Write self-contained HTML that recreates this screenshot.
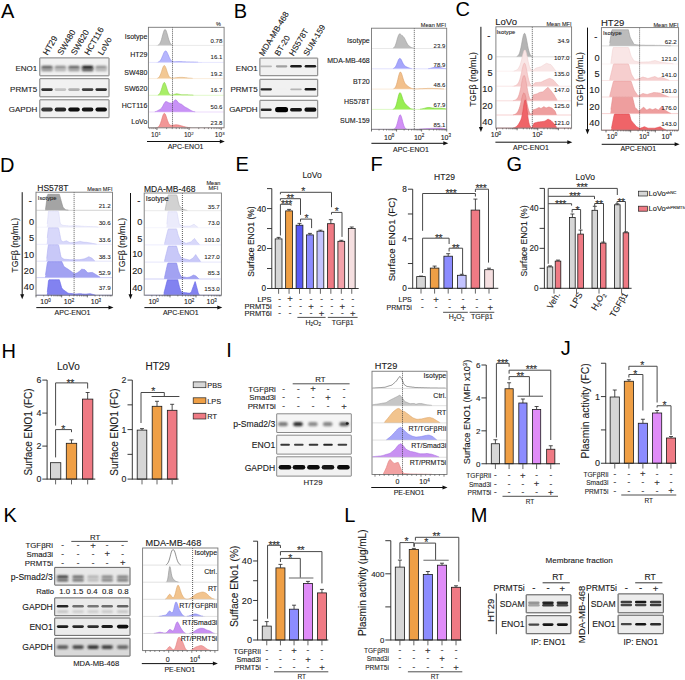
<!DOCTYPE html>
<html><head><meta charset="utf-8"><title>Figure</title>
<style>html,body{margin:0;padding:0;background:#fff;width:685px;height:680px;overflow:hidden}svg{display:block}text{font-family:"Liberation Sans",sans-serif;stroke:#2a2a2a;stroke-width:0.12px;paint-order:stroke}</style>
</head><body>
<svg width="685" height="680" viewBox="0 0 685 680" font-family="'Liberation Sans', sans-serif"><defs><filter id="bl3" x="-50%" y="-80%" width="200%" height="260%"><feGaussianBlur stdDeviation="0.3"/></filter><filter id="bl4" x="-50%" y="-80%" width="200%" height="260%"><feGaussianBlur stdDeviation="0.4"/></filter><filter id="bl5" x="-50%" y="-80%" width="200%" height="260%"><feGaussianBlur stdDeviation="0.5"/></filter><filter id="bl6" x="-50%" y="-80%" width="200%" height="260%"><feGaussianBlur stdDeviation="0.6"/></filter><filter id="bl7" x="-50%" y="-80%" width="200%" height="260%"><feGaussianBlur stdDeviation="0.7"/></filter><filter id="bl8" x="-50%" y="-80%" width="200%" height="260%"><feGaussianBlur stdDeviation="0.8"/></filter><filter id="bl9" x="-50%" y="-80%" width="200%" height="260%"><feGaussianBlur stdDeviation="0.9"/></filter><filter id="bl10" x="-50%" y="-80%" width="200%" height="260%"><feGaussianBlur stdDeviation="1.0"/></filter><filter id="bl11" x="-50%" y="-80%" width="200%" height="260%"><feGaussianBlur stdDeviation="1.1"/></filter><filter id="bl12" x="-50%" y="-80%" width="200%" height="260%"><feGaussianBlur stdDeviation="1.2"/></filter><filter id="bl13" x="-50%" y="-80%" width="200%" height="260%"><feGaussianBlur stdDeviation="1.3"/></filter><filter id="bl14" x="-50%" y="-80%" width="200%" height="260%"><feGaussianBlur stdDeviation="1.4"/></filter><filter id="bl15" x="-50%" y="-80%" width="200%" height="260%"><feGaussianBlur stdDeviation="1.5"/></filter><filter id="bl16" x="-50%" y="-80%" width="200%" height="260%"><feGaussianBlur stdDeviation="1.6"/></filter><filter id="bl17" x="-50%" y="-80%" width="200%" height="260%"><feGaussianBlur stdDeviation="1.7"/></filter><filter id="bl18" x="-50%" y="-80%" width="200%" height="260%"><feGaussianBlur stdDeviation="1.8"/></filter><filter id="bl19" x="-50%" y="-80%" width="200%" height="260%"><feGaussianBlur stdDeviation="1.9"/></filter><filter id="bl20" x="-50%" y="-80%" width="200%" height="260%"><feGaussianBlur stdDeviation="2.0"/></filter><filter id="bl21" x="-50%" y="-80%" width="200%" height="260%"><feGaussianBlur stdDeviation="2.1"/></filter><filter id="bl22" x="-50%" y="-80%" width="200%" height="260%"><feGaussianBlur stdDeviation="2.2"/></filter><filter id="bl23" x="-50%" y="-80%" width="200%" height="260%"><feGaussianBlur stdDeviation="2.3"/></filter><filter id="bl24" x="-50%" y="-80%" width="200%" height="260%"><feGaussianBlur stdDeviation="2.4"/></filter><filter id="bl25" x="-50%" y="-80%" width="200%" height="260%"><feGaussianBlur stdDeviation="2.5"/></filter><filter id="bl26" x="-50%" y="-80%" width="200%" height="260%"><feGaussianBlur stdDeviation="2.6"/></filter><filter id="bl27" x="-50%" y="-80%" width="200%" height="260%"><feGaussianBlur stdDeviation="2.7"/></filter><filter id="bl28" x="-50%" y="-80%" width="200%" height="260%"><feGaussianBlur stdDeviation="2.8"/></filter><filter id="bl29" x="-50%" y="-80%" width="200%" height="260%"><feGaussianBlur stdDeviation="2.9"/></filter></defs><rect width="685" height="680" fill="#fff"/>
<text x="1.00" y="17.90" font-size="20" text-anchor="start" fill="#000" style="stroke:none">A</text>
<text x="47.50" y="55.80" font-size="8.4" text-anchor="start" fill="#1a1a1a" transform="rotate(-60 47.50 55.80)">HT29</text>
<text x="62.10" y="55.80" font-size="8.4" text-anchor="start" fill="#1a1a1a" transform="rotate(-60 62.10 55.80)">SW480</text>
<text x="75.60" y="55.80" font-size="8.4" text-anchor="start" fill="#1a1a1a" transform="rotate(-60 75.60 55.80)">SW620</text>
<text x="88.90" y="55.80" font-size="8.4" text-anchor="start" fill="#1a1a1a" transform="rotate(-60 88.90 55.80)">HCT116</text>
<text x="102.60" y="55.80" font-size="8.4" text-anchor="start" fill="#1a1a1a" transform="rotate(-60 102.60 55.80)">LoVo</text>
<text x="37.20" y="70.70" font-size="8" text-anchor="end" fill="#1a1a1a">ENO1</text>
<text x="37.20" y="91.60" font-size="8" text-anchor="end" fill="#1a1a1a">PRMT5</text>
<text x="37.20" y="112.20" font-size="8" text-anchor="end" fill="#1a1a1a">GAPDH</text>
<rect x="39.30" y="57.40" width="70.20" height="18.90" fill="#f1f1f1"/>
<rect x="41.25" y="65.70" width="11.50" height="3.20" rx="1.60" fill="#5f5f5f" filter="url(#bl8)"/>
<rect x="54.65" y="65.70" width="11.50" height="3.20" rx="1.60" fill="#8c8c8c" filter="url(#bl8)"/>
<rect x="68.25" y="65.70" width="11.50" height="3.20" rx="1.60" fill="#646464" filter="url(#bl8)"/>
<rect x="81.85" y="65.70" width="11.50" height="3.20" rx="1.60" fill="#141414" filter="url(#bl8)"/>
<rect x="95.45" y="65.70" width="11.50" height="3.20" rx="1.60" fill="#919191" filter="url(#bl8)"/>
<rect x="41.25" y="68.70" width="11.50" height="2.60" rx="1.30" fill="#8c8c8c" filter="url(#bl9)"/>
<rect x="54.65" y="68.70" width="11.50" height="2.60" rx="1.30" fill="#afafaf" filter="url(#bl9)"/>
<rect x="68.25" y="68.70" width="11.50" height="2.60" rx="1.30" fill="#969696" filter="url(#bl9)"/>
<rect x="81.85" y="68.70" width="11.50" height="2.60" rx="1.30" fill="#464646" filter="url(#bl9)"/>
<rect x="95.45" y="68.70" width="11.50" height="2.60" rx="1.30" fill="#afafaf" filter="url(#bl9)"/>
<rect x="39.80" y="57.90" width="69.20" height="17.90" fill="none" stroke="#7e7e7e" stroke-width="1" rx="0.3"/>
<rect x="39.30" y="78.20" width="70.20" height="19.10" fill="#f1f1f1"/>
<rect x="41.25" y="88.30" width="11.50" height="2.60" rx="1.30" fill="#323232" filter="url(#bl6)"/>
<rect x="54.65" y="88.30" width="11.50" height="2.60" rx="1.30" fill="#c3c3c3" filter="url(#bl6)"/>
<rect x="68.25" y="88.30" width="11.50" height="2.60" rx="1.30" fill="#afafaf" filter="url(#bl6)"/>
<rect x="81.85" y="88.30" width="11.50" height="2.60" rx="1.30" fill="#414141" filter="url(#bl6)"/>
<rect x="95.45" y="88.30" width="11.50" height="2.60" rx="1.30" fill="#2d2d2d" filter="url(#bl6)"/>
<rect x="39.80" y="78.70" width="69.20" height="18.10" fill="none" stroke="#7e7e7e" stroke-width="1" rx="0.3"/>
<rect x="39.30" y="99.30" width="70.20" height="18.90" fill="#f1f1f1"/>
<rect x="41.25" y="107.60" width="11.50" height="4.00" rx="2.00" fill="#373737" filter="url(#bl7)"/>
<rect x="54.65" y="107.60" width="11.50" height="4.00" rx="2.00" fill="#282828" filter="url(#bl7)"/>
<rect x="68.25" y="107.60" width="11.50" height="4.00" rx="2.00" fill="#0c0c0c" filter="url(#bl7)"/>
<rect x="81.85" y="107.60" width="11.50" height="4.00" rx="2.00" fill="#141414" filter="url(#bl7)"/>
<rect x="95.45" y="107.60" width="11.50" height="4.00" rx="2.00" fill="#0c0c0c" filter="url(#bl7)"/>
<rect x="39.80" y="99.80" width="69.20" height="17.90" fill="none" stroke="#7e7e7e" stroke-width="1" rx="0.3"/>
<path d="M148.9,45.4 L148.9,45.4 L149.5,45.4 L150.1,45.4 L150.7,45.4 L151.3,45.4 L151.9,45.4 L152.5,45.4 L153.1,45.4 L153.7,45.4 L154.3,45.4 L154.9,45.4 L155.5,45.4 L156.1,45.4 L156.7,45.3 L157.3,45.3 L157.9,45.1 L158.5,44.9 L159.1,44.4 L159.7,43.7 L160.3,42.6 L160.9,41.2 L161.5,39.4 L162.1,37.2 L162.7,34.9 L163.3,32.8 L163.9,31.0 L164.5,29.8 L165.1,29.4 L165.7,29.9 L166.3,31.1 L166.9,32.9 L167.5,35.0 L168.1,37.2 L168.7,39.3 L169.3,41.1 L169.9,42.5 L170.5,43.6 L171.1,44.4 L171.7,44.8 L172.3,45.1 L172.9,45.3 L173.5,45.3 L174.1,45.4 L174.7,45.4 L175.3,45.4 L175.9,45.4 L176.5,45.4 L177.1,45.4 L177.7,45.4 L178.3,45.4 L178.9,45.4 L179.5,45.4 L180.1,45.4 L180.7,45.4 L181.3,45.4 L181.9,45.4 L182.5,45.4 L183.1,45.4 L183.7,45.4 L184.3,45.4 L184.9,45.4 L185.5,45.4 L186.1,45.4 L186.7,45.4 L187.3,45.4 L187.9,45.4 L188.5,45.4 L189.1,45.4 L189.7,45.4 L190.3,45.4 L190.9,45.4 L191.5,45.4 L192.1,45.4 L192.7,45.4 L193.3,45.4 L193.9,45.4 L194.5,45.4 L195.1,45.4 L195.7,45.4 L196.3,45.4 L196.9,45.4 L197.5,45.4 L198.1,45.4 L198.7,45.4 L199.3,45.4 L199.9,45.4 L200.5,45.4 L201.1,45.4 L201.7,45.4 L202.3,45.4 L202.9,45.4 L203.5,45.4 L204.1,45.4 L204.7,45.4 L205.3,45.4 L205.9,45.4 L206.5,45.4 L207.1,45.4 L207.7,45.4 L208.3,45.4 L208.9,45.4 L209.5,45.4 L210.1,45.4 L210.7,45.4 L211.3,45.4 L211.9,45.4 L212.5,45.4 L213.1,45.4 L213.7,45.4 L214.3,45.4 L214.9,45.4 L215.5,45.4 L216.1,45.4 L216.7,45.4 L217.3,45.4 L217.9,45.4 L218.5,45.4 L219.1,45.4 L219.7,45.4 L220.3,45.4 L220.9,45.4 L221.5,45.4 L222.1,45.4 L222.7,45.4 L223.3,45.4 L223.6,45.4 Z" fill="#bdbdbd"/>
<path d="M157.9,45.1 L158.5,44.9 L159.1,44.4 L159.7,43.7 L160.3,42.6 L160.9,41.2 L161.5,39.4 L162.1,37.2 L162.7,34.9 L163.3,32.8 L163.9,31.0 L164.5,29.8 L165.1,29.4 L165.7,29.9 L166.3,31.1 L166.9,32.9 L167.5,35.0 L168.1,37.2 L168.7,39.3 L169.3,41.1 L169.9,42.5 L170.5,43.6 L171.1,44.4 L171.7,44.8 L172.3,45.1" fill="none" stroke="#9a9a9a" stroke-width="0.6"/>
<line x1="148.90" y1="45.40" x2="223.60" y2="45.40" stroke="#dadada" stroke-width="0.6"/>
<path d="M148.9,62.4 L148.9,62.4 L149.5,62.4 L150.1,62.4 L150.7,62.4 L151.3,62.4 L151.9,62.4 L152.5,62.4 L153.1,62.4 L153.7,62.4 L154.3,62.4 L154.9,62.4 L155.5,62.4 L156.1,62.4 L156.7,62.3 L157.3,62.3 L157.9,62.1 L158.5,61.9 L159.1,61.6 L159.7,61.2 L160.3,60.5 L160.9,59.6 L161.5,58.5 L162.1,57.1 L162.7,55.7 L163.3,54.2 L163.9,52.8 L164.5,51.7 L165.1,51.1 L165.7,50.9 L166.3,51.2 L166.9,52.0 L167.5,53.2 L168.1,54.6 L168.7,56.0 L169.3,57.4 L169.9,58.6 L170.5,59.7 L171.1,60.4 L171.7,61.0 L172.3,61.3 L172.9,61.5 L173.5,61.6 L174.1,61.7 L174.7,61.7 L175.3,61.7 L175.9,61.6 L176.5,61.6 L177.1,61.6 L177.7,61.6 L178.3,61.5 L178.9,61.5 L179.5,61.5 L180.1,61.6 L180.7,61.6 L181.3,61.6 L181.9,61.6 L182.5,61.7 L183.1,61.7 L183.7,61.8 L184.3,61.8 L184.9,61.8 L185.5,61.8 L186.1,61.9 L186.7,61.9 L187.3,61.9 L187.9,61.9 L188.5,61.9 L189.1,61.9 L189.7,61.9 L190.3,62.0 L190.9,62.0 L191.5,62.0 L192.1,62.0 L192.7,62.0 L193.3,62.0 L193.9,62.1 L194.5,62.1 L195.1,62.1 L195.7,62.1 L196.3,62.2 L196.9,62.2 L197.5,62.2 L198.1,62.2 L198.7,62.3 L199.3,62.3 L199.9,62.3 L200.5,62.3 L201.1,62.3 L201.7,62.3 L202.3,62.4 L202.9,62.4 L203.5,62.4 L204.1,62.4 L204.7,62.4 L205.3,62.4 L205.9,62.4 L206.5,62.4 L207.1,62.4 L207.7,62.4 L208.3,62.4 L208.9,62.4 L209.5,62.4 L210.1,62.4 L210.7,62.4 L211.3,62.4 L211.9,62.4 L212.5,62.4 L213.1,62.4 L213.7,62.4 L214.3,62.4 L214.9,62.4 L215.5,62.4 L216.1,62.4 L216.7,62.4 L217.3,62.4 L217.9,62.4 L218.5,62.4 L219.1,62.4 L219.7,62.4 L220.3,62.4 L220.9,62.4 L221.5,62.4 L222.1,62.4 L222.7,62.4 L223.3,62.4 L223.6,62.4 Z" fill="#b6b6fd"/>
<path d="M157.9,62.1 L158.5,61.9 L159.1,61.6 L159.7,61.2 L160.3,60.5 L160.9,59.6 L161.5,58.5 L162.1,57.1 L162.7,55.7 L163.3,54.2 L163.9,52.8 L164.5,51.7 L165.1,51.1 L165.7,50.9 L166.3,51.2 L166.9,52.0 L167.5,53.2 L168.1,54.6 L168.7,56.0 L169.3,57.4 L169.9,58.6 L170.5,59.7 L171.1,60.4 L171.7,61.0 L172.3,61.3 L172.9,61.5 L173.5,61.6 L174.1,61.7 L174.7,61.7 L175.3,61.7 L175.9,61.6 L176.5,61.6 L177.1,61.6 L177.7,61.6 L178.3,61.5 L178.9,61.5 L179.5,61.5 L180.1,61.6 L180.7,61.6 L181.3,61.6 L181.9,61.6 L182.5,61.7 L183.1,61.7 L183.7,61.8 L184.3,61.8 L184.9,61.8 L185.5,61.8 L186.1,61.9 L186.7,61.9 L187.3,61.9 L187.9,61.9 L188.5,61.9 L189.1,61.9 L189.7,61.9 L190.3,62.0 L190.9,62.0 L191.5,62.0 L192.1,62.0 L192.7,62.0 L193.3,62.0 L193.9,62.1 L194.5,62.1 L195.1,62.1 L195.7,62.1 L196.3,62.2 L196.9,62.2 L197.5,62.2 L198.1,62.2" fill="none" stroke="#8f8ff0" stroke-width="0.6"/>
<line x1="148.90" y1="62.40" x2="223.60" y2="62.40" stroke="#d6d6fd" stroke-width="0.6"/>
<path d="M148.9,78.6 L148.9,78.6 L149.5,78.6 L150.1,78.6 L150.7,78.6 L151.3,78.6 L151.9,78.6 L152.5,78.6 L153.1,78.6 L153.7,78.6 L154.3,78.6 L154.9,78.6 L155.5,78.6 L156.1,78.5 L156.7,78.5 L157.3,78.3 L157.9,78.1 L158.5,77.7 L159.1,77.1 L159.7,76.2 L160.3,75.0 L160.9,73.4 L161.5,71.7 L162.1,69.8 L162.7,68.0 L163.3,66.6 L163.9,65.7 L164.5,65.6 L165.1,66.2 L165.7,67.4 L166.3,69.1 L166.9,71.0 L167.5,72.8 L168.1,74.4 L168.7,75.7 L169.3,76.7 L169.9,77.3 L170.5,77.7 L171.1,78.0 L171.7,78.1 L172.3,78.1 L172.9,78.1 L173.5,78.0 L174.1,78.0 L174.7,77.9 L175.3,77.8 L175.9,77.8 L176.5,77.7 L177.1,77.6 L177.7,77.6 L178.3,77.5 L178.9,77.5 L179.5,77.4 L180.1,77.4 L180.7,77.4 L181.3,77.4 L181.9,77.4 L182.5,77.4 L183.1,77.5 L183.7,77.5 L184.3,77.6 L184.9,77.6 L185.5,77.7 L186.1,77.8 L186.7,77.8 L187.3,77.9 L187.9,78.0 L188.5,78.1 L189.1,78.1 L189.7,78.2 L190.3,78.2 L190.9,78.3 L191.5,78.3 L192.1,78.4 L192.7,78.4 L193.3,78.5 L193.9,78.5 L194.5,78.5 L195.1,78.5 L195.7,78.5 L196.3,78.6 L196.9,78.6 L197.5,78.6 L198.1,78.6 L198.7,78.6 L199.3,78.6 L199.9,78.6 L200.5,78.6 L201.1,78.6 L201.7,78.6 L202.3,78.6 L202.9,78.6 L203.5,78.6 L204.1,78.6 L204.7,78.6 L205.3,78.6 L205.9,78.6 L206.5,78.6 L207.1,78.6 L207.7,78.6 L208.3,78.6 L208.9,78.6 L209.5,78.6 L210.1,78.6 L210.7,78.6 L211.3,78.6 L211.9,78.6 L212.5,78.6 L213.1,78.6 L213.7,78.6 L214.3,78.6 L214.9,78.6 L215.5,78.6 L216.1,78.6 L216.7,78.6 L217.3,78.6 L217.9,78.6 L218.5,78.6 L219.1,78.6 L219.7,78.6 L220.3,78.6 L220.9,78.6 L221.5,78.6 L222.1,78.6 L222.7,78.6 L223.3,78.6 L223.6,78.6 Z" fill="#f2c894"/>
<path d="M157.3,78.3 L157.9,78.1 L158.5,77.7 L159.1,77.1 L159.7,76.2 L160.3,75.0 L160.9,73.4 L161.5,71.7 L162.1,69.8 L162.7,68.0 L163.3,66.6 L163.9,65.7 L164.5,65.6 L165.1,66.2 L165.7,67.4 L166.3,69.1 L166.9,71.0 L167.5,72.8 L168.1,74.4 L168.7,75.7 L169.3,76.7 L169.9,77.3 L170.5,77.7 L171.1,78.0 L171.7,78.1 L172.3,78.1 L172.9,78.1 L173.5,78.0 L174.1,78.0 L174.7,77.9 L175.3,77.8 L175.9,77.8 L176.5,77.7 L177.1,77.6 L177.7,77.6 L178.3,77.5 L178.9,77.5 L179.5,77.4 L180.1,77.4 L180.7,77.4 L181.3,77.4 L181.9,77.4 L182.5,77.4 L183.1,77.5 L183.7,77.5 L184.3,77.6 L184.9,77.6 L185.5,77.7 L186.1,77.8 L186.7,77.8 L187.3,77.9 L187.9,78.0 L188.5,78.1 L189.1,78.1 L189.7,78.2 L190.3,78.2 L190.9,78.3 L191.5,78.3 L192.1,78.4 L192.7,78.4" fill="none" stroke="#dca86a" stroke-width="0.6"/>
<line x1="148.90" y1="78.60" x2="223.60" y2="78.60" stroke="#f7e0c4" stroke-width="0.6"/>
<path d="M148.9,95.3 L148.9,95.3 L149.5,95.3 L150.1,95.3 L150.7,95.3 L151.3,95.3 L151.9,95.3 L152.5,95.3 L153.1,95.3 L153.7,95.3 L154.3,95.3 L154.9,95.3 L155.5,95.3 L156.1,95.3 L156.7,95.2 L157.3,95.2 L157.9,95.0 L158.5,94.8 L159.1,94.3 L159.7,93.6 L160.3,92.5 L160.9,91.0 L161.5,89.2 L162.1,87.2 L162.7,85.3 L163.3,83.7 L163.9,82.7 L164.5,82.5 L165.1,83.3 L165.7,84.7 L166.3,86.5 L166.9,88.5 L167.5,90.4 L168.1,92.0 L168.7,93.2 L169.3,94.1 L169.9,94.6 L170.5,94.9 L171.1,95.0 L171.7,95.0 L172.3,95.0 L172.9,94.8 L173.5,94.7 L174.1,94.5 L174.7,94.2 L175.3,94.1 L175.9,93.9 L176.5,93.8 L177.1,93.8 L177.7,93.9 L178.3,94.0 L178.9,94.2 L179.5,94.3 L180.1,94.5 L180.7,94.6 L181.3,94.7 L181.9,94.8 L182.5,94.8 L183.1,94.8 L183.7,94.8 L184.3,94.8 L184.9,94.8 L185.5,94.8 L186.1,94.8 L186.7,94.8 L187.3,94.8 L187.9,94.8 L188.5,94.9 L189.1,94.9 L189.7,94.9 L190.3,95.0 L190.9,95.0 L191.5,95.0 L192.1,95.1 L192.7,95.1 L193.3,95.1 L193.9,95.2 L194.5,95.2 L195.1,95.2 L195.7,95.2 L196.3,95.2 L196.9,95.3 L197.5,95.3 L198.1,95.3 L198.7,95.3 L199.3,95.3 L199.9,95.3 L200.5,95.3 L201.1,95.3 L201.7,95.3 L202.3,95.3 L202.9,95.3 L203.5,95.3 L204.1,95.3 L204.7,95.3 L205.3,95.3 L205.9,95.3 L206.5,95.3 L207.1,95.3 L207.7,95.3 L208.3,95.3 L208.9,95.3 L209.5,95.3 L210.1,95.3 L210.7,95.3 L211.3,95.3 L211.9,95.3 L212.5,95.3 L213.1,95.3 L213.7,95.3 L214.3,95.3 L214.9,95.3 L215.5,95.3 L216.1,95.3 L216.7,95.3 L217.3,95.3 L217.9,95.3 L218.5,95.3 L219.1,95.3 L219.7,95.3 L220.3,95.3 L220.9,95.3 L221.5,95.3 L222.1,95.3 L222.7,95.3 L223.3,95.3 L223.6,95.3 Z" fill="#a8ee66"/>
<path d="M157.9,95.0 L158.5,94.8 L159.1,94.3 L159.7,93.6 L160.3,92.5 L160.9,91.0 L161.5,89.2 L162.1,87.2 L162.7,85.3 L163.3,83.7 L163.9,82.7 L164.5,82.5 L165.1,83.3 L165.7,84.7 L166.3,86.5 L166.9,88.5 L167.5,90.4 L168.1,92.0 L168.7,93.2 L169.3,94.1 L169.9,94.6 L170.5,94.9 L171.1,95.0 L171.7,95.0 L172.3,95.0 L172.9,94.8 L173.5,94.7 L174.1,94.5 L174.7,94.2 L175.3,94.1 L175.9,93.9 L176.5,93.8 L177.1,93.8 L177.7,93.9 L178.3,94.0 L178.9,94.2 L179.5,94.3 L180.1,94.5 L180.7,94.6 L181.3,94.7 L181.9,94.8 L182.5,94.8 L183.1,94.8 L183.7,94.8 L184.3,94.8 L184.9,94.8 L185.5,94.8 L186.1,94.8 L186.7,94.8 L187.3,94.8 L187.9,94.8 L188.5,94.9 L189.1,94.9 L189.7,94.9 L190.3,95.0 L190.9,95.0 L191.5,95.0 L192.1,95.1 L192.7,95.1 L193.3,95.1" fill="none" stroke="#84d040" stroke-width="0.6"/>
<line x1="148.90" y1="95.30" x2="223.60" y2="95.30" stroke="#cff5aa" stroke-width="0.6"/>
<path d="M148.9,112.0 L148.9,112.0 L149.5,112.0 L150.1,112.0 L150.7,112.0 L151.3,112.0 L151.9,112.0 L152.5,112.0 L153.1,112.0 L153.7,111.9 L154.3,111.9 L154.9,111.7 L155.5,111.6 L156.1,111.4 L156.7,111.2 L157.3,110.9 L157.9,110.5 L158.5,110.2 L159.1,109.9 L159.7,109.6 L160.3,109.2 L160.9,108.7 L161.5,108.1 L162.1,107.3 L162.7,106.3 L163.3,105.1 L163.9,103.9 L164.5,102.9 L165.1,102.1 L165.7,101.6 L166.3,101.6 L166.9,101.8 L167.5,102.1 L168.1,102.4 L168.7,102.7 L169.3,102.9 L169.9,103.0 L170.5,103.1 L171.1,103.2 L171.7,103.2 L172.3,102.9 L172.9,102.4 L173.5,101.7 L174.1,100.9 L174.7,100.2 L175.3,99.8 L175.9,99.9 L176.5,100.3 L177.1,101.0 L177.7,101.8 L178.3,102.5 L178.9,103.1 L179.5,103.4 L180.1,103.7 L180.7,104.0 L181.3,104.2 L181.9,104.6 L182.5,105.1 L183.1,105.6 L183.7,106.1 L184.3,106.5 L184.9,107.0 L185.5,107.3 L186.1,107.6 L186.7,107.9 L187.3,108.2 L187.9,108.6 L188.5,108.9 L189.1,109.3 L189.7,109.7 L190.3,110.0 L190.9,110.4 L191.5,110.7 L192.1,111.0 L192.7,111.3 L193.3,111.5 L193.9,111.6 L194.5,111.7 L195.1,111.8 L195.7,111.9 L196.3,111.9 L196.9,112.0 L197.5,112.0 L198.1,112.0 L198.7,112.0 L199.3,112.0 L199.9,112.0 L200.5,112.0 L201.1,112.0 L201.7,112.0 L202.3,112.0 L202.9,112.0 L203.5,112.0 L204.1,112.0 L204.7,112.0 L205.3,112.0 L205.9,112.0 L206.5,112.0 L207.1,112.0 L207.7,112.0 L208.3,112.0 L208.9,112.0 L209.5,112.0 L210.1,112.0 L210.7,112.0 L211.3,112.0 L211.9,112.0 L212.5,112.0 L213.1,112.0 L213.7,112.0 L214.3,112.0 L214.9,112.0 L215.5,112.0 L216.1,112.0 L216.7,112.0 L217.3,112.0 L217.9,112.0 L218.5,112.0 L219.1,112.0 L219.7,112.0 L220.3,112.0 L220.9,112.0 L221.5,112.0 L222.1,112.0 L222.7,112.0 L223.3,112.0 L223.6,112.0 Z" fill="#c892f6"/>
<path d="M154.9,111.7 L155.5,111.6 L156.1,111.4 L156.7,111.2 L157.3,110.9 L157.9,110.5 L158.5,110.2 L159.1,109.9 L159.7,109.6 L160.3,109.2 L160.9,108.7 L161.5,108.1 L162.1,107.3 L162.7,106.3 L163.3,105.1 L163.9,103.9 L164.5,102.9 L165.1,102.1 L165.7,101.6 L166.3,101.6 L166.9,101.8 L167.5,102.1 L168.1,102.4 L168.7,102.7 L169.3,102.9 L169.9,103.0 L170.5,103.1 L171.1,103.2 L171.7,103.2 L172.3,102.9 L172.9,102.4 L173.5,101.7 L174.1,100.9 L174.7,100.2 L175.3,99.8 L175.9,99.9 L176.5,100.3 L177.1,101.0 L177.7,101.8 L178.3,102.5 L178.9,103.1 L179.5,103.4 L180.1,103.7 L180.7,104.0 L181.3,104.2 L181.9,104.6 L182.5,105.1 L183.1,105.6 L183.7,106.1 L184.3,106.5 L184.9,107.0 L185.5,107.3 L186.1,107.6 L186.7,107.9 L187.3,108.2 L187.9,108.6 L188.5,108.9 L189.1,109.3 L189.7,109.7 L190.3,110.0 L190.9,110.4 L191.5,110.7 L192.1,111.0 L192.7,111.3 L193.3,111.5 L193.9,111.6 L194.5,111.7 L195.1,111.8" fill="none" stroke="#a86ce0" stroke-width="0.6"/>
<line x1="148.90" y1="112.00" x2="223.60" y2="112.00" stroke="#e0c3fa" stroke-width="0.6"/>
<path d="M148.9,127.8 L148.9,127.8 L149.5,127.8 L150.1,127.8 L150.7,127.8 L151.3,127.8 L151.9,127.8 L152.5,127.8 L153.1,127.8 L153.7,127.8 L154.3,127.8 L154.9,127.8 L155.5,127.8 L156.1,127.7 L156.7,127.6 L157.3,127.5 L157.9,127.2 L158.5,126.8 L159.1,126.1 L159.7,125.1 L160.3,123.8 L160.9,122.1 L161.5,120.2 L162.1,118.1 L162.7,116.1 L163.3,114.6 L163.9,113.6 L164.5,113.4 L165.1,113.9 L165.7,115.1 L166.3,116.8 L166.9,118.7 L167.5,120.5 L168.1,122.1 L168.7,123.4 L169.3,124.3 L169.9,124.9 L170.5,125.2 L171.1,125.3 L171.7,125.3 L172.3,125.2 L172.9,125.1 L173.5,125.0 L174.1,124.9 L174.7,124.9 L175.3,124.8 L175.9,124.8 L176.5,124.8 L177.1,124.8 L177.7,124.9 L178.3,125.0 L178.9,125.1 L179.5,125.3 L180.1,125.4 L180.7,125.6 L181.3,125.8 L181.9,126.0 L182.5,126.1 L183.1,126.3 L183.7,126.5 L184.3,126.6 L184.9,126.8 L185.5,126.9 L186.1,127.1 L186.7,127.2 L187.3,127.3 L187.9,127.4 L188.5,127.5 L189.1,127.5 L189.7,127.6 L190.3,127.6 L190.9,127.7 L191.5,127.7 L192.1,127.7 L192.7,127.7 L193.3,127.8 L193.9,127.8 L194.5,127.8 L195.1,127.8 L195.7,127.8 L196.3,127.8 L196.9,127.8 L197.5,127.8 L198.1,127.8 L198.7,127.8 L199.3,127.8 L199.9,127.8 L200.5,127.8 L201.1,127.8 L201.7,127.8 L202.3,127.8 L202.9,127.8 L203.5,127.8 L204.1,127.8 L204.7,127.8 L205.3,127.8 L205.9,127.8 L206.5,127.8 L207.1,127.8 L207.7,127.8 L208.3,127.8 L208.9,127.8 L209.5,127.8 L210.1,127.8 L210.7,127.8 L211.3,127.8 L211.9,127.8 L212.5,127.8 L213.1,127.8 L213.7,127.8 L214.3,127.8 L214.9,127.8 L215.5,127.8 L216.1,127.8 L216.7,127.8 L217.3,127.8 L217.9,127.8 L218.5,127.8 L219.1,127.8 L219.7,127.8 L220.3,127.8 L220.9,127.8 L221.5,127.8 L222.1,127.8 L222.7,127.8 L223.3,127.8 L223.6,127.8 Z" fill="#f29696"/>
<path d="M156.7,127.6 L157.3,127.5 L157.9,127.2 L158.5,126.8 L159.1,126.1 L159.7,125.1 L160.3,123.8 L160.9,122.1 L161.5,120.2 L162.1,118.1 L162.7,116.1 L163.3,114.6 L163.9,113.6 L164.5,113.4 L165.1,113.9 L165.7,115.1 L166.3,116.8 L166.9,118.7 L167.5,120.5 L168.1,122.1 L168.7,123.4 L169.3,124.3 L169.9,124.9 L170.5,125.2 L171.1,125.3 L171.7,125.3 L172.3,125.2 L172.9,125.1 L173.5,125.0 L174.1,124.9 L174.7,124.9 L175.3,124.8 L175.9,124.8 L176.5,124.8 L177.1,124.8 L177.7,124.9 L178.3,125.0 L178.9,125.1 L179.5,125.3 L180.1,125.4 L180.7,125.6 L181.3,125.8 L181.9,126.0 L182.5,126.1 L183.1,126.3 L183.7,126.5 L184.3,126.6 L184.9,126.8 L185.5,126.9 L186.1,127.1 L186.7,127.2 L187.3,127.3 L187.9,127.4 L188.5,127.5 L189.1,127.5 L189.7,127.6 L190.3,127.6" fill="none" stroke="#e07070" stroke-width="0.6"/>
<line x1="148.90" y1="127.80" x2="223.60" y2="127.80" stroke="#f7c5c5" stroke-width="0.6"/>
<line x1="172.50" y1="27.30" x2="172.50" y2="127.80" stroke="#333" stroke-width="0.8" stroke-dasharray="1,1"/>
<rect x="148.40" y="27.30" width="75.70" height="100.50" fill="none" stroke="#777" stroke-width="0.9"/>
<text x="147.30" y="39.20" font-size="7" text-anchor="end" fill="#1a1a1a">Isotype</text>
<text x="147.30" y="57.10" font-size="7" text-anchor="end" fill="#1a1a1a">HT29</text>
<text x="147.30" y="74.60" font-size="7" text-anchor="end" fill="#1a1a1a">SW480</text>
<text x="147.30" y="90.70" font-size="7" text-anchor="end" fill="#1a1a1a">SW620</text>
<text x="147.30" y="107.60" font-size="7" text-anchor="end" fill="#1a1a1a">HCT116</text>
<text x="147.30" y="124.00" font-size="7" text-anchor="end" fill="#1a1a1a">LoVo</text>
<text x="222.30" y="42.90" font-size="6" text-anchor="end" fill="#1a1a1a" style="stroke-width:0.08px">0.78</text>
<text x="222.30" y="59.40" font-size="6" text-anchor="end" fill="#1a1a1a" style="stroke-width:0.08px">16.1</text>
<text x="222.30" y="75.60" font-size="6" text-anchor="end" fill="#1a1a1a" style="stroke-width:0.08px">19.2</text>
<text x="222.30" y="92.30" font-size="6" text-anchor="end" fill="#1a1a1a" style="stroke-width:0.08px">16.7</text>
<text x="222.30" y="109.20" font-size="6" text-anchor="end" fill="#1a1a1a" style="stroke-width:0.08px">50.6</text>
<text x="222.30" y="125.30" font-size="6" text-anchor="end" fill="#1a1a1a" style="stroke-width:0.08px">23.8</text>
<text x="218.50" y="26.00" font-size="5.5" text-anchor="middle" fill="#1a1a1a" style="stroke-width:0.08px">%</text>
<line x1="149.80" y1="127.80" x2="149.80" y2="129.10" stroke="#333" stroke-width="0.5"/>
<line x1="151.96" y1="127.80" x2="151.96" y2="129.10" stroke="#333" stroke-width="0.5"/>
<line x1="153.82" y1="127.80" x2="153.82" y2="129.10" stroke="#333" stroke-width="0.5"/>
<line x1="155.46" y1="127.80" x2="155.46" y2="129.10" stroke="#333" stroke-width="0.5"/>
<line x1="156.93" y1="127.80" x2="156.93" y2="130.00" stroke="#333" stroke-width="0.7"/>
<line x1="166.61" y1="127.80" x2="166.61" y2="129.10" stroke="#333" stroke-width="0.5"/>
<line x1="172.26" y1="127.80" x2="172.26" y2="129.10" stroke="#333" stroke-width="0.5"/>
<line x1="176.28" y1="127.80" x2="176.28" y2="129.10" stroke="#333" stroke-width="0.5"/>
<line x1="179.39" y1="127.80" x2="179.39" y2="129.10" stroke="#333" stroke-width="0.5"/>
<line x1="181.94" y1="127.80" x2="181.94" y2="129.10" stroke="#333" stroke-width="0.5"/>
<line x1="184.09" y1="127.80" x2="184.09" y2="129.10" stroke="#333" stroke-width="0.5"/>
<line x1="185.95" y1="127.80" x2="185.95" y2="129.10" stroke="#333" stroke-width="0.5"/>
<line x1="187.60" y1="127.80" x2="187.60" y2="129.10" stroke="#333" stroke-width="0.5"/>
<line x1="189.07" y1="127.80" x2="189.07" y2="130.00" stroke="#333" stroke-width="0.7"/>
<line x1="198.74" y1="127.80" x2="198.74" y2="129.10" stroke="#333" stroke-width="0.5"/>
<line x1="204.40" y1="127.80" x2="204.40" y2="129.10" stroke="#333" stroke-width="0.5"/>
<line x1="208.41" y1="127.80" x2="208.41" y2="129.10" stroke="#333" stroke-width="0.5"/>
<line x1="211.53" y1="127.80" x2="211.53" y2="129.10" stroke="#333" stroke-width="0.5"/>
<line x1="214.07" y1="127.80" x2="214.07" y2="129.10" stroke="#333" stroke-width="0.5"/>
<line x1="216.22" y1="127.80" x2="216.22" y2="129.10" stroke="#333" stroke-width="0.5"/>
<line x1="218.09" y1="127.80" x2="218.09" y2="129.10" stroke="#333" stroke-width="0.5"/>
<line x1="219.73" y1="127.80" x2="219.73" y2="129.10" stroke="#333" stroke-width="0.5"/>
<line x1="221.20" y1="127.80" x2="221.20" y2="130.00" stroke="#333" stroke-width="0.7"/>
<text x="155.90" y="137.30" font-size="6.6" text-anchor="middle" fill="#1a1a1a" style="stroke-width:0.08px">10<tspan font-size="4.3" dy="-2.6">1</tspan></text>
<text x="188.80" y="137.30" font-size="6.6" text-anchor="middle" fill="#1a1a1a" style="stroke-width:0.08px">10<tspan font-size="4.3" dy="-2.6">2</tspan></text>
<text x="219.70" y="137.30" font-size="6.6" text-anchor="middle" fill="#1a1a1a" style="stroke-width:0.08px">10<tspan font-size="4.3" dy="-2.6">3</tspan></text>
<line x1="147.00" y1="141.50" x2="220.80" y2="141.50" stroke="#111" stroke-width="1.0"/>
<path d="M224.80,141.50 L219.80,139.50 L219.80,143.50 Z" fill="#111"/>
<text x="185.60" y="148.70" font-size="7" text-anchor="middle" fill="#1a1a1a">APC-ENO1</text>
<text x="233.80" y="17.50" font-size="20" text-anchor="start" fill="#000" style="stroke:none">B</text>
<text x="263.60" y="56.40" font-size="8.2" text-anchor="start" fill="#1a1a1a" transform="rotate(-59 263.60 56.40)">MDA-MB-468</text>
<text x="279.00" y="56.40" font-size="8.2" text-anchor="start" fill="#1a1a1a" transform="rotate(-59 279.00 56.40)">BT-20</text>
<text x="293.40" y="56.40" font-size="8.2" text-anchor="start" fill="#1a1a1a" transform="rotate(-59 293.40 56.40)">HS578T</text>
<text x="307.80" y="56.40" font-size="8.2" text-anchor="start" fill="#1a1a1a" transform="rotate(-59 307.80 56.40)">SUM-159</text>
<text x="257.60" y="70.70" font-size="8" text-anchor="end" fill="#1a1a1a">ENO1</text>
<text x="257.60" y="91.60" font-size="8" text-anchor="end" fill="#1a1a1a">PRMT5</text>
<text x="257.60" y="112.20" font-size="8" text-anchor="end" fill="#1a1a1a">GAPDH</text>
<rect x="259.40" y="57.60" width="58.80" height="18.60" fill="#f1f1f1"/>
<rect x="260.45" y="65.40" width="11.50" height="1.80" rx="0.90" fill="#b9b9b9" filter="url(#bl5)"/>
<rect x="275.85" y="65.20" width="11.50" height="2.20" rx="1.10" fill="#a0a0a0" filter="url(#bl5)"/>
<rect x="290.25" y="65.00" width="11.50" height="2.60" rx="1.30" fill="#1e1e1e" filter="url(#bl5)"/>
<rect x="304.65" y="65.00" width="11.50" height="2.60" rx="1.30" fill="#1e1e1e" filter="url(#bl5)"/>
<rect x="259.90" y="58.10" width="57.80" height="17.60" fill="none" stroke="#7e7e7e" stroke-width="1" rx="0.3"/>
<rect x="259.40" y="78.80" width="58.80" height="17.90" fill="#f1f1f1"/>
<rect x="260.45" y="88.20" width="11.50" height="2.20" rx="1.10" fill="#282828" filter="url(#bl5)"/>
<rect x="275.85" y="88.80" width="11.50" height="1.00" rx="0.50" fill="#f0f0f0" filter="url(#bl5)"/>
<rect x="290.25" y="88.40" width="11.50" height="1.80" rx="0.90" fill="#b4b4b4" filter="url(#bl5)"/>
<rect x="304.65" y="88.10" width="11.50" height="2.40" rx="1.20" fill="#191919" filter="url(#bl5)"/>
<rect x="259.90" y="79.30" width="57.80" height="16.90" fill="none" stroke="#7e7e7e" stroke-width="1" rx="0.3"/>
<rect x="259.40" y="99.80" width="58.80" height="18.60" fill="#f1f1f1"/>
<rect x="260.70" y="108.50" width="11.00" height="2.40" rx="1.20" fill="#282828" filter="url(#bl5)"/>
<rect x="275.10" y="107.10" width="13.00" height="5.20" rx="2.50" fill="#050505" filter="url(#bl5)"/>
<rect x="290.00" y="108.00" width="12.00" height="3.40" rx="1.70" fill="#191919" filter="url(#bl5)"/>
<rect x="304.40" y="107.60" width="12.00" height="4.20" rx="2.10" fill="#0f0f0f" filter="url(#bl5)"/>
<rect x="259.90" y="100.30" width="57.80" height="17.60" fill="none" stroke="#7e7e7e" stroke-width="1" rx="0.3"/>
<path d="M372.0,48.5 L372.0,48.5 L372.6,48.5 L373.2,48.5 L373.8,48.5 L374.4,48.5 L375.0,48.5 L375.6,48.5 L376.2,48.5 L376.8,48.5 L377.4,48.5 L378.0,48.5 L378.6,48.5 L379.2,48.5 L379.8,48.5 L380.4,48.5 L381.0,48.5 L381.6,48.5 L382.2,48.5 L382.8,48.5 L383.4,48.5 L384.0,48.5 L384.6,48.5 L385.2,48.5 L385.8,48.5 L386.4,48.5 L387.0,48.5 L387.6,48.5 L388.2,48.5 L388.8,48.5 L389.4,48.5 L390.0,48.5 L390.6,48.5 L391.2,48.5 L391.8,48.4 L392.4,48.4 L393.0,48.2 L393.6,47.9 L394.2,47.3 L394.8,46.5 L395.4,45.2 L396.0,43.5 L396.6,41.5 L397.2,39.2 L397.8,37.2 L398.4,35.5 L399.0,34.3 L399.6,33.9 L400.2,34.0 L400.8,34.4 L401.4,34.9 L402.0,35.5 L402.6,36.0 L403.2,36.5 L403.8,37.2 L404.4,38.1 L405.0,39.2 L405.6,40.4 L406.2,41.7 L406.8,42.9 L407.4,44.0 L408.0,44.9 L408.6,45.5 L409.2,46.1 L409.8,46.5 L410.4,46.9 L411.0,47.2 L411.6,47.5 L412.2,47.7 L412.8,47.9 L413.4,48.1 L414.0,48.2 L414.6,48.3 L415.2,48.4 L415.8,48.4 L416.4,48.5 L417.0,48.5 L417.6,48.5 L418.2,48.5 L418.8,48.5 L419.4,48.5 L420.0,48.5 L420.6,48.5 L421.2,48.5 L421.8,48.5 L422.4,48.5 L423.0,48.5 L423.6,48.5 L424.2,48.5 L424.8,48.5 L425.4,48.5 L426.0,48.5 L426.6,48.5 L427.2,48.5 L427.8,48.5 L428.4,48.5 L429.0,48.5 L429.6,48.5 L430.2,48.5 L430.8,48.5 L431.4,48.5 L432.0,48.5 L432.6,48.5 L433.2,48.5 L433.8,48.5 L434.4,48.5 L435.0,48.5 L435.6,48.5 L436.2,48.5 L436.8,48.5 L437.4,48.5 L438.0,48.5 L438.6,48.5 L439.2,48.5 L439.8,48.5 L440.4,48.5 L441.0,48.5 L441.6,48.5 L442.2,48.5 L442.8,48.5 L443.4,48.5 L444.0,48.5 L444.6,48.5 L445.2,48.5 L445.8,48.5 L446.2,48.5 Z" fill="#bdbdbd"/>
<path d="M393.0,48.2 L393.6,47.9 L394.2,47.3 L394.8,46.5 L395.4,45.2 L396.0,43.5 L396.6,41.5 L397.2,39.2 L397.8,37.2 L398.4,35.5 L399.0,34.3 L399.6,33.9 L400.2,34.0 L400.8,34.4 L401.4,34.9 L402.0,35.5 L402.6,36.0 L403.2,36.5 L403.8,37.2 L404.4,38.1 L405.0,39.2 L405.6,40.4 L406.2,41.7 L406.8,42.9 L407.4,44.0 L408.0,44.9 L408.6,45.5 L409.2,46.1 L409.8,46.5 L410.4,46.9 L411.0,47.2 L411.6,47.5 L412.2,47.7 L412.8,47.9 L413.4,48.1 L414.0,48.2 L414.6,48.3" fill="none" stroke="#9a9a9a" stroke-width="0.6"/>
<line x1="372.00" y1="48.50" x2="446.20" y2="48.50" stroke="#dadada" stroke-width="0.6"/>
<path d="M372.0,68.8 L372.0,68.8 L372.6,68.8 L373.2,68.8 L373.8,68.8 L374.4,68.8 L375.0,68.8 L375.6,68.8 L376.2,68.8 L376.8,68.8 L377.4,68.8 L378.0,68.8 L378.6,68.8 L379.2,68.8 L379.8,68.8 L380.4,68.8 L381.0,68.8 L381.6,68.8 L382.2,68.8 L382.8,68.8 L383.4,68.8 L384.0,68.8 L384.6,68.8 L385.2,68.8 L385.8,68.8 L386.4,68.8 L387.0,68.8 L387.6,68.8 L388.2,68.8 L388.8,68.8 L389.4,68.8 L390.0,68.8 L390.6,68.8 L391.2,68.8 L391.8,68.8 L392.4,68.7 L393.0,68.6 L393.6,68.4 L394.2,68.1 L394.8,67.5 L395.4,66.8 L396.0,65.7 L396.6,64.4 L397.2,62.9 L397.8,61.4 L398.4,60.0 L399.0,58.9 L399.6,58.4 L400.2,58.5 L400.8,59.0 L401.4,60.0 L402.0,61.3 L402.6,62.5 L403.2,63.7 L403.8,64.6 L404.4,65.4 L405.0,65.9 L405.6,66.4 L406.2,66.7 L406.8,67.0 L407.4,67.3 L408.0,67.6 L408.6,67.8 L409.2,68.0 L409.8,68.2 L410.4,68.4 L411.0,68.5 L411.6,68.6 L412.2,68.7 L412.8,68.7 L413.4,68.8 L414.0,68.8 L414.6,68.8 L415.2,68.8 L415.8,68.8 L416.4,68.8 L417.0,68.8 L417.6,68.8 L418.2,68.8 L418.8,68.8 L419.4,68.8 L420.0,68.8 L420.6,68.8 L421.2,68.8 L421.8,68.8 L422.4,68.8 L423.0,68.8 L423.6,68.8 L424.2,68.8 L424.8,68.8 L425.4,68.8 L426.0,68.8 L426.6,68.7 L427.2,68.7 L427.8,68.7 L428.4,68.6 L429.0,68.6 L429.6,68.5 L430.2,68.4 L430.8,68.3 L431.4,68.1 L432.0,68.0 L432.6,67.8 L433.2,67.7 L433.8,67.5 L434.4,67.3 L435.0,67.2 L435.6,67.1 L436.2,67.0 L436.8,67.0 L437.4,67.0 L438.0,67.1 L438.6,67.1 L439.2,67.3 L439.8,67.4 L440.4,67.5 L441.0,67.7 L441.6,67.9 L442.2,68.0 L442.8,68.2 L443.4,68.3 L444.0,68.4 L444.6,68.5 L445.2,68.6 L445.8,68.6 L446.2,68.8 Z" fill="#a6a6fb"/>
<path d="M393.0,68.6 L393.6,68.4 L394.2,68.1 L394.8,67.5 L395.4,66.8 L396.0,65.7 L396.6,64.4 L397.2,62.9 L397.8,61.4 L398.4,60.0 L399.0,58.9 L399.6,58.4 L400.2,58.5 L400.8,59.0 L401.4,60.0 L402.0,61.3 L402.6,62.5 L403.2,63.7 L403.8,64.6 L404.4,65.4 L405.0,65.9 L405.6,66.4 L406.2,66.7 L406.8,67.0 L407.4,67.3 L408.0,67.6 L408.6,67.8 L409.2,68.0 L409.8,68.2 L410.4,68.4 L411.0,68.5 L411.6,68.6" fill="none" stroke="#7f7ff0" stroke-width="0.6"/>
<path d="M428.4,68.6 L429.0,68.6 L429.6,68.5 L430.2,68.4 L430.8,68.3 L431.4,68.1 L432.0,68.0 L432.6,67.8 L433.2,67.7 L433.8,67.5 L434.4,67.3 L435.0,67.2 L435.6,67.1 L436.2,67.0 L436.8,67.0 L437.4,67.0 L438.0,67.1 L438.6,67.1 L439.2,67.3 L439.8,67.4 L440.4,67.5 L441.0,67.7 L441.6,67.9 L442.2,68.0 L442.8,68.2 L443.4,68.3 L444.0,68.4 L444.6,68.5 L445.2,68.6 L445.8,68.6" fill="none" stroke="#7f7ff0" stroke-width="0.6"/>
<line x1="372.00" y1="68.80" x2="446.20" y2="68.80" stroke="#cecefc" stroke-width="0.6"/>
<path d="M372.0,89.1 L372.0,89.1 L372.6,89.1 L373.2,89.1 L373.8,89.1 L374.4,89.1 L375.0,89.1 L375.6,89.1 L376.2,89.1 L376.8,89.1 L377.4,89.1 L378.0,89.1 L378.6,89.1 L379.2,89.1 L379.8,89.1 L380.4,89.1 L381.0,89.1 L381.6,89.1 L382.2,89.1 L382.8,89.1 L383.4,89.1 L384.0,89.1 L384.6,89.1 L385.2,89.1 L385.8,89.1 L386.4,89.1 L387.0,89.1 L387.6,89.1 L388.2,89.1 L388.8,89.1 L389.4,89.1 L390.0,89.1 L390.6,89.1 L391.2,89.1 L391.8,89.1 L392.4,89.0 L393.0,89.0 L393.6,88.8 L394.2,88.5 L394.8,88.1 L395.4,87.3 L396.0,86.0 L396.6,84.3 L397.2,82.1 L397.8,79.6 L398.4,77.0 L399.0,74.7 L399.6,72.9 L400.2,72.0 L400.8,72.2 L401.4,73.2 L402.0,74.9 L402.6,76.9 L403.2,79.0 L403.8,80.8 L404.4,82.2 L405.0,83.3 L405.6,84.2 L406.2,84.8 L406.8,85.3 L407.4,85.8 L408.0,86.3 L408.6,86.7 L409.2,87.1 L409.8,87.5 L410.4,87.8 L411.0,88.1 L411.6,88.4 L412.2,88.6 L412.8,88.7 L413.4,88.8 L414.0,88.9 L414.6,88.9 L415.2,88.9 L415.8,88.9 L416.4,88.9 L417.0,88.9 L417.6,88.9 L418.2,88.9 L418.8,88.8 L419.4,88.8 L420.0,88.8 L420.6,88.7 L421.2,88.7 L421.8,88.7 L422.4,88.7 L423.0,88.6 L423.6,88.6 L424.2,88.6 L424.8,88.5 L425.4,88.5 L426.0,88.5 L426.6,88.5 L427.2,88.4 L427.8,88.4 L428.4,88.4 L429.0,88.4 L429.6,88.4 L430.2,88.4 L430.8,88.4 L431.4,88.4 L432.0,88.4 L432.6,88.4 L433.2,88.5 L433.8,88.5 L434.4,88.5 L435.0,88.5 L435.6,88.6 L436.2,88.6 L436.8,88.6 L437.4,88.6 L438.0,88.7 L438.6,88.7 L439.2,88.7 L439.8,88.8 L440.4,88.8 L441.0,88.8 L441.6,88.9 L442.2,88.9 L442.8,88.9 L443.4,88.9 L444.0,88.9 L444.6,89.0 L445.2,89.0 L445.8,89.0 L446.2,89.1 Z" fill="#f2c08c"/>
<path d="M393.6,88.8 L394.2,88.5 L394.8,88.1 L395.4,87.3 L396.0,86.0 L396.6,84.3 L397.2,82.1 L397.8,79.6 L398.4,77.0 L399.0,74.7 L399.6,72.9 L400.2,72.0 L400.8,72.2 L401.4,73.2 L402.0,74.9 L402.6,76.9 L403.2,79.0 L403.8,80.8 L404.4,82.2 L405.0,83.3 L405.6,84.2 L406.2,84.8 L406.8,85.3 L407.4,85.8 L408.0,86.3 L408.6,86.7 L409.2,87.1 L409.8,87.5 L410.4,87.8 L411.0,88.1 L411.6,88.4 L412.2,88.6 L412.8,88.7 L413.4,88.8 L414.0,88.9 L414.6,88.9 L415.2,88.9 L415.8,88.9 L416.4,88.9 L417.0,88.9 L417.6,88.9 L418.2,88.9 L418.8,88.8 L419.4,88.8 L420.0,88.8 L420.6,88.7 L421.2,88.7 L421.8,88.7 L422.4,88.7 L423.0,88.6 L423.6,88.6 L424.2,88.6 L424.8,88.5 L425.4,88.5 L426.0,88.5 L426.6,88.5 L427.2,88.4 L427.8,88.4 L428.4,88.4 L429.0,88.4 L429.6,88.4 L430.2,88.4 L430.8,88.4 L431.4,88.4 L432.0,88.4 L432.6,88.4 L433.2,88.5 L433.8,88.5 L434.4,88.5 L435.0,88.5 L435.6,88.6 L436.2,88.6 L436.8,88.6 L437.4,88.6 L438.0,88.7 L438.6,88.7 L439.2,88.7 L439.8,88.8 L440.4,88.8 L441.0,88.8 L441.6,88.9 L442.2,88.9 L442.8,88.9 L443.4,88.9 L444.0,88.9" fill="none" stroke="#dca064" stroke-width="0.6"/>
<line x1="372.00" y1="89.10" x2="446.20" y2="89.10" stroke="#f7dcbf" stroke-width="0.6"/>
<path d="M372.0,109.4 L372.0,109.4 L372.6,109.4 L373.2,109.4 L373.8,109.4 L374.4,109.4 L375.0,109.4 L375.6,109.4 L376.2,109.4 L376.8,109.4 L377.4,109.4 L378.0,109.4 L378.6,109.4 L379.2,109.4 L379.8,109.4 L380.4,109.4 L381.0,109.4 L381.6,109.4 L382.2,109.4 L382.8,109.4 L383.4,109.4 L384.0,109.4 L384.6,109.4 L385.2,109.4 L385.8,109.4 L386.4,109.4 L387.0,109.4 L387.6,109.4 L388.2,109.4 L388.8,109.4 L389.4,109.4 L390.0,109.4 L390.6,109.4 L391.2,109.4 L391.8,109.4 L392.4,109.3 L393.0,109.2 L393.6,109.0 L394.2,108.7 L394.8,108.1 L395.4,107.1 L396.0,105.6 L396.6,103.6 L397.2,101.2 L397.8,98.6 L398.4,96.1 L399.0,94.1 L399.6,92.9 L400.2,92.7 L400.8,93.4 L401.4,94.8 L402.0,96.6 L402.6,98.5 L403.2,100.1 L403.8,101.4 L404.4,102.5 L405.0,103.4 L405.6,104.1 L406.2,104.7 L406.8,105.3 L407.4,105.9 L408.0,106.5 L408.6,107.1 L409.2,107.6 L409.8,108.0 L410.4,108.4 L411.0,108.7 L411.6,108.9 L412.2,109.0 L412.8,109.2 L413.4,109.2 L414.0,109.3 L414.6,109.3 L415.2,109.4 L415.8,109.4 L416.4,109.4 L417.0,109.4 L417.6,109.4 L418.2,109.3 L418.8,109.3 L419.4,109.3 L420.0,109.2 L420.6,109.1 L421.2,109.0 L421.8,108.9 L422.4,108.8 L423.0,108.7 L423.6,108.5 L424.2,108.4 L424.8,108.2 L425.4,108.0 L426.0,107.9 L426.6,107.7 L427.2,107.6 L427.8,107.6 L428.4,107.5 L429.0,107.5 L429.6,107.5 L430.2,107.6 L430.8,107.7 L431.4,107.8 L432.0,107.9 L432.6,108.0 L433.2,108.0 L433.8,108.1 L434.4,108.2 L435.0,108.2 L435.6,108.2 L436.2,108.2 L436.8,108.2 L437.4,108.2 L438.0,108.2 L438.6,108.2 L439.2,108.2 L439.8,108.2 L440.4,108.2 L441.0,108.2 L441.6,108.3 L442.2,108.3 L442.8,108.4 L443.4,108.4 L444.0,108.5 L444.6,108.6 L445.2,108.7 L445.8,108.8 L446.2,109.4 Z" fill="#98ee52"/>
<path d="M393.0,109.2 L393.6,109.0 L394.2,108.7 L394.8,108.1 L395.4,107.1 L396.0,105.6 L396.6,103.6 L397.2,101.2 L397.8,98.6 L398.4,96.1 L399.0,94.1 L399.6,92.9 L400.2,92.7 L400.8,93.4 L401.4,94.8 L402.0,96.6 L402.6,98.5 L403.2,100.1 L403.8,101.4 L404.4,102.5 L405.0,103.4 L405.6,104.1 L406.2,104.7 L406.8,105.3 L407.4,105.9 L408.0,106.5 L408.6,107.1 L409.2,107.6 L409.8,108.0 L410.4,108.4 L411.0,108.7 L411.6,108.9 L412.2,109.0 L412.8,109.2 L413.4,109.2" fill="none" stroke="#74d030" stroke-width="0.6"/>
<path d="M420.0,109.2 L420.6,109.1 L421.2,109.0 L421.8,108.9 L422.4,108.8 L423.0,108.7 L423.6,108.5 L424.2,108.4 L424.8,108.2 L425.4,108.0 L426.0,107.9 L426.6,107.7 L427.2,107.6 L427.8,107.6 L428.4,107.5 L429.0,107.5 L429.6,107.5 L430.2,107.6 L430.8,107.7 L431.4,107.8 L432.0,107.9 L432.6,108.0 L433.2,108.0 L433.8,108.1 L434.4,108.2 L435.0,108.2 L435.6,108.2 L436.2,108.2 L436.8,108.2 L437.4,108.2 L438.0,108.2 L438.6,108.2 L439.2,108.2 L439.8,108.2 L440.4,108.2 L441.0,108.2 L441.6,108.3 L442.2,108.3 L442.8,108.4 L443.4,108.4 L444.0,108.5 L444.6,108.6 L445.2,108.7 L445.8,108.8" fill="none" stroke="#74d030" stroke-width="0.6"/>
<line x1="372.00" y1="109.40" x2="446.20" y2="109.40" stroke="#c6f59f" stroke-width="0.6"/>
<path d="M372.0,129.3 L372.0,129.3 L372.6,129.3 L373.2,129.3 L373.8,129.3 L374.4,129.3 L375.0,129.3 L375.6,129.3 L376.2,129.3 L376.8,129.3 L377.4,129.3 L378.0,129.3 L378.6,129.3 L379.2,129.3 L379.8,129.3 L380.4,129.3 L381.0,129.3 L381.6,129.3 L382.2,129.3 L382.8,129.3 L383.4,129.3 L384.0,129.3 L384.6,129.3 L385.2,129.3 L385.8,129.3 L386.4,129.3 L387.0,129.3 L387.6,129.3 L388.2,129.3 L388.8,129.3 L389.4,129.3 L390.0,129.3 L390.6,129.3 L391.2,129.3 L391.8,129.3 L392.4,129.3 L393.0,129.2 L393.6,129.1 L394.2,128.9 L394.8,128.6 L395.4,128.0 L396.0,127.0 L396.6,125.5 L397.2,123.6 L397.8,121.3 L398.4,118.9 L399.0,116.8 L399.6,115.3 L400.2,114.8 L400.8,115.3 L401.4,116.8 L402.0,118.9 L402.6,121.3 L403.2,123.6 L403.8,125.5 L404.4,127.0 L405.0,128.0 L405.6,128.6 L406.2,128.9 L406.8,129.1 L407.4,129.2 L408.0,129.3 L408.6,129.3 L409.2,129.3 L409.8,129.3 L410.4,129.3 L411.0,129.3 L411.6,129.3 L412.2,129.3 L412.8,129.3 L413.4,129.3 L414.0,129.3 L414.6,129.3 L415.2,129.3 L415.8,129.3 L416.4,129.2 L417.0,129.2 L417.6,129.2 L418.2,129.2 L418.8,129.2 L419.4,129.1 L420.0,129.1 L420.6,129.1 L421.2,129.0 L421.8,129.0 L422.4,128.9 L423.0,128.9 L423.6,128.8 L424.2,128.8 L424.8,128.7 L425.4,128.7 L426.0,128.7 L426.6,128.6 L427.2,128.6 L427.8,128.5 L428.4,128.5 L429.0,128.5 L429.6,128.5 L430.2,128.5 L430.8,128.4 L431.4,128.4 L432.0,128.4 L432.6,128.4 L433.2,128.4 L433.8,128.3 L434.4,128.3 L435.0,128.3 L435.6,128.2 L436.2,128.2 L436.8,128.2 L437.4,128.1 L438.0,128.1 L438.6,128.1 L439.2,128.1 L439.8,128.1 L440.4,128.1 L441.0,128.2 L441.6,128.3 L442.2,128.3 L442.8,128.4 L443.4,128.5 L444.0,128.6 L444.6,128.7 L445.2,128.8 L445.8,128.9 L446.2,129.3 Z" fill="#d290f6"/>
<path d="M393.6,129.1 L394.2,128.9 L394.8,128.6 L395.4,128.0 L396.0,127.0 L396.6,125.5 L397.2,123.6 L397.8,121.3 L398.4,118.9 L399.0,116.8 L399.6,115.3 L400.2,114.8 L400.8,115.3 L401.4,116.8 L402.0,118.9 L402.6,121.3 L403.2,123.6 L403.8,125.5 L404.4,127.0 L405.0,128.0 L405.6,128.6 L406.2,128.9 L406.8,129.1" fill="none" stroke="#b06ce0" stroke-width="0.6"/>
<path d="M419.4,129.1 L420.0,129.1 L420.6,129.1 L421.2,129.0 L421.8,129.0 L422.4,128.9 L423.0,128.9 L423.6,128.8 L424.2,128.8 L424.8,128.7 L425.4,128.7 L426.0,128.7 L426.6,128.6 L427.2,128.6 L427.8,128.5 L428.4,128.5 L429.0,128.5 L429.6,128.5 L430.2,128.5 L430.8,128.4 L431.4,128.4 L432.0,128.4 L432.6,128.4 L433.2,128.4 L433.8,128.3 L434.4,128.3 L435.0,128.3 L435.6,128.2 L436.2,128.2 L436.8,128.2 L437.4,128.1 L438.0,128.1 L438.6,128.1 L439.2,128.1 L439.8,128.1 L440.4,128.1 L441.0,128.2 L441.6,128.3 L442.2,128.3 L442.8,128.4 L443.4,128.5 L444.0,128.6 L444.6,128.7 L445.2,128.8 L445.8,128.9" fill="none" stroke="#b06ce0" stroke-width="0.6"/>
<line x1="372.00" y1="129.30" x2="446.20" y2="129.30" stroke="#e6c1fa" stroke-width="0.6"/>
<line x1="414.30" y1="28.20" x2="414.30" y2="129.30" stroke="#333" stroke-width="0.8" stroke-dasharray="1,1"/>
<rect x="371.50" y="28.20" width="75.20" height="101.10" fill="none" stroke="#777" stroke-width="0.9"/>
<text x="369.70" y="43.30" font-size="7" text-anchor="end" fill="#1a1a1a">Isotype</text>
<text x="369.70" y="63.20" font-size="7" text-anchor="end" fill="#1a1a1a">MDA-MB-468</text>
<text x="369.70" y="83.70" font-size="7" text-anchor="end" fill="#1a1a1a">BT20</text>
<text x="369.70" y="104.00" font-size="7" text-anchor="end" fill="#1a1a1a">HS578T</text>
<text x="369.70" y="123.40" font-size="7" text-anchor="end" fill="#1a1a1a">SUM-159</text>
<text x="445.30" y="48.00" font-size="6" text-anchor="end" fill="#1a1a1a" style="stroke-width:0.08px">23.9</text>
<text x="445.30" y="67.20" font-size="6" text-anchor="end" fill="#1a1a1a" style="stroke-width:0.08px">78.9</text>
<text x="445.30" y="87.00" font-size="6" text-anchor="end" fill="#1a1a1a" style="stroke-width:0.08px">48.6</text>
<text x="445.30" y="106.90" font-size="6" text-anchor="end" fill="#1a1a1a" style="stroke-width:0.08px">67.9</text>
<text x="445.30" y="126.70" font-size="6" text-anchor="end" fill="#1a1a1a" style="stroke-width:0.08px">85.1</text>
<text x="446.00" y="26.60" font-size="5.6" text-anchor="end" fill="#1a1a1a" style="stroke-width:0.08px">Mean MFI</text>
<line x1="371.50" y1="129.30" x2="371.50" y2="131.50" stroke="#333" stroke-width="0.7"/>
<line x1="379.05" y1="129.30" x2="379.05" y2="130.60" stroke="#333" stroke-width="0.5"/>
<line x1="383.46" y1="129.30" x2="383.46" y2="130.60" stroke="#333" stroke-width="0.5"/>
<line x1="386.59" y1="129.30" x2="386.59" y2="130.60" stroke="#333" stroke-width="0.5"/>
<line x1="389.02" y1="129.30" x2="389.02" y2="130.60" stroke="#333" stroke-width="0.5"/>
<line x1="391.01" y1="129.30" x2="391.01" y2="130.60" stroke="#333" stroke-width="0.5"/>
<line x1="392.68" y1="129.30" x2="392.68" y2="130.60" stroke="#333" stroke-width="0.5"/>
<line x1="394.14" y1="129.30" x2="394.14" y2="130.60" stroke="#333" stroke-width="0.5"/>
<line x1="395.42" y1="129.30" x2="395.42" y2="130.60" stroke="#333" stroke-width="0.5"/>
<line x1="396.57" y1="129.30" x2="396.57" y2="131.50" stroke="#333" stroke-width="0.7"/>
<line x1="404.11" y1="129.30" x2="404.11" y2="130.60" stroke="#333" stroke-width="0.5"/>
<line x1="408.53" y1="129.30" x2="408.53" y2="130.60" stroke="#333" stroke-width="0.5"/>
<line x1="411.66" y1="129.30" x2="411.66" y2="130.60" stroke="#333" stroke-width="0.5"/>
<line x1="414.09" y1="129.30" x2="414.09" y2="130.60" stroke="#333" stroke-width="0.5"/>
<line x1="416.07" y1="129.30" x2="416.07" y2="130.60" stroke="#333" stroke-width="0.5"/>
<line x1="417.75" y1="129.30" x2="417.75" y2="130.60" stroke="#333" stroke-width="0.5"/>
<line x1="419.20" y1="129.30" x2="419.20" y2="130.60" stroke="#333" stroke-width="0.5"/>
<line x1="420.49" y1="129.30" x2="420.49" y2="130.60" stroke="#333" stroke-width="0.5"/>
<line x1="421.63" y1="129.30" x2="421.63" y2="131.50" stroke="#333" stroke-width="0.7"/>
<line x1="429.18" y1="129.30" x2="429.18" y2="130.60" stroke="#333" stroke-width="0.5"/>
<line x1="433.59" y1="129.30" x2="433.59" y2="130.60" stroke="#333" stroke-width="0.5"/>
<line x1="436.72" y1="129.30" x2="436.72" y2="130.60" stroke="#333" stroke-width="0.5"/>
<line x1="439.15" y1="129.30" x2="439.15" y2="130.60" stroke="#333" stroke-width="0.5"/>
<line x1="441.14" y1="129.30" x2="441.14" y2="130.60" stroke="#333" stroke-width="0.5"/>
<line x1="442.82" y1="129.30" x2="442.82" y2="130.60" stroke="#333" stroke-width="0.5"/>
<line x1="444.27" y1="129.30" x2="444.27" y2="130.60" stroke="#333" stroke-width="0.5"/>
<line x1="445.55" y1="129.30" x2="445.55" y2="130.60" stroke="#333" stroke-width="0.5"/>
<line x1="446.70" y1="129.30" x2="446.70" y2="131.50" stroke="#333" stroke-width="0.7"/>
<text x="389.20" y="140.00" font-size="7" text-anchor="middle" fill="#1a1a1a">10<tspan font-size="4.5" dy="-2.6">0</tspan></text>
<text x="419.10" y="140.00" font-size="7" text-anchor="middle" fill="#1a1a1a">10<tspan font-size="4.5" dy="-2.6">2</tspan></text>
<text x="445.80" y="140.00" font-size="7" text-anchor="middle" fill="#1a1a1a">10<tspan font-size="4.5" dy="-2.6">3</tspan></text>
<line x1="371.40" y1="143.30" x2="444.30" y2="143.30" stroke="#111" stroke-width="1.0"/>
<path d="M448.30,143.30 L443.30,141.30 L443.30,145.30 Z" fill="#111"/>
<text x="411.00" y="151.60" font-size="7" text-anchor="middle" fill="#1a1a1a">APC-ENO1</text>
<text x="455.50" y="15.80" font-size="20" text-anchor="start" fill="#000" style="stroke:none">C</text>
<path d="M496.4,56.8 L496.4,56.8 L497.0,56.8 L497.6,56.8 L498.2,56.8 L498.8,56.8 L499.4,56.8 L500.0,56.8 L500.6,56.8 L501.2,56.8 L501.8,56.8 L502.4,56.8 L503.0,56.8 L503.6,56.8 L504.2,56.8 L504.8,56.8 L505.4,56.8 L506.0,56.8 L506.6,56.8 L507.2,56.8 L507.8,56.8 L508.4,56.8 L509.0,56.8 L509.6,56.8 L510.2,56.8 L510.8,56.8 L511.4,56.8 L512.0,56.8 L512.6,56.8 L513.2,56.8 L513.8,56.8 L514.4,56.8 L515.0,56.8 L515.6,56.7 L516.2,56.7 L516.8,56.5 L517.4,56.2 L518.0,55.8 L518.6,55.0 L519.2,53.9 L519.8,52.2 L520.4,50.0 L521.0,47.3 L521.6,44.2 L522.2,40.9 L522.8,37.8 L523.4,35.3 L524.0,33.7 L524.6,33.3 L525.2,34.1 L525.8,36.1 L526.4,38.8 L527.0,42.0 L527.6,45.3 L528.2,48.3 L528.8,50.8 L529.4,52.8 L530.0,54.3 L530.6,55.3 L531.2,56.0 L531.8,56.3 L532.4,56.6 L533.0,56.7 L533.6,56.7 L534.2,56.8 L534.8,56.8 L535.4,56.8 L536.0,56.8 L536.6,56.8 L537.2,56.8 L537.8,56.8 L538.4,56.8 L539.0,56.8 L539.6,56.8 L540.2,56.8 L540.8,56.8 L541.4,56.8 L542.0,56.8 L542.6,56.8 L543.2,56.8 L543.8,56.8 L544.4,56.8 L545.0,56.8 L545.6,56.8 L546.2,56.8 L546.8,56.8 L547.4,56.8 L548.0,56.8 L548.6,56.8 L549.2,56.8 L549.8,56.8 L550.4,56.8 L551.0,56.8 L551.6,56.8 L552.2,56.8 L552.8,56.8 L553.4,56.8 L554.0,56.8 L554.6,56.8 L555.2,56.8 L555.8,56.8 L556.4,56.8 L557.0,56.8 L557.6,56.8 L558.2,56.8 L558.8,56.8 L559.4,56.8 L560.0,56.8 L560.6,56.8 L561.2,56.8 L561.8,56.8 L562.4,56.8 L563.0,56.8 L563.6,56.8 L564.2,56.8 L564.8,56.8 L565.4,56.8 L566.0,56.8 L566.6,56.8 L567.2,56.8 L567.8,56.8 L568.4,56.8 L569.0,56.8 L569.6,56.8 L570.2,56.8 L570.8,56.8 L571.1,56.8 Z" fill="#b4b4b4"/>
<path d="M516.8,56.5 L517.4,56.2 L518.0,55.8 L518.6,55.0 L519.2,53.9 L519.8,52.2 L520.4,50.0 L521.0,47.3 L521.6,44.2 L522.2,40.9 L522.8,37.8 L523.4,35.3 L524.0,33.7 L524.6,33.3 L525.2,34.1 L525.8,36.1 L526.4,38.8 L527.0,42.0 L527.6,45.3 L528.2,48.3 L528.8,50.8 L529.4,52.8 L530.0,54.3 L530.6,55.3 L531.2,56.0 L531.8,56.3 L532.4,56.6" fill="none" stroke="#9a9a9a" stroke-width="0.6"/>
<line x1="496.40" y1="56.80" x2="571.10" y2="56.80" stroke="#c3c3c3" stroke-width="0.6"/>
<path d="M496.4,71.2 L496.4,71.2 L497.0,71.2 L497.6,71.2 L498.2,71.2 L498.8,71.2 L499.4,71.2 L500.0,71.2 L500.6,71.2 L501.2,71.2 L501.8,71.2 L502.4,71.2 L503.0,71.2 L503.6,71.2 L504.2,71.2 L504.8,71.2 L505.4,71.2 L506.0,71.2 L506.6,71.2 L507.2,71.2 L507.8,71.2 L508.4,71.2 L509.0,71.2 L509.6,71.2 L510.2,71.2 L510.8,71.2 L511.4,71.2 L512.0,71.2 L512.6,71.1 L513.2,71.1 L513.8,71.0 L514.4,70.9 L515.0,70.8 L515.6,70.6 L516.2,70.3 L516.8,69.9 L517.4,69.5 L518.0,68.8 L518.6,68.1 L519.2,67.0 L519.8,65.7 L520.4,64.1 L521.0,62.1 L521.6,59.8 L522.2,57.2 L522.8,54.7 L523.4,52.5 L524.0,50.8 L524.6,50.0 L525.2,50.1 L525.8,51.3 L526.4,53.3 L527.0,55.9 L527.6,58.8 L528.2,61.7 L528.8,64.2 L529.4,66.4 L530.0,68.0 L530.6,69.2 L531.2,69.9 L531.8,70.3 L532.4,70.5 L533.0,70.6 L533.6,70.0 L534.2,69.5 L534.8,69.0 L535.4,68.5 L536.0,68.0 L536.6,67.9 L537.2,67.8 L537.8,67.6 L538.4,67.5 L539.0,67.3 L539.6,67.1 L540.2,66.9 L540.8,66.8 L541.4,66.4 L542.0,66.1 L542.6,65.7 L543.2,65.3 L543.8,64.9 L544.4,64.6 L545.0,64.2 L545.6,63.8 L546.2,63.4 L546.8,63.4 L547.4,63.6 L548.0,63.8 L548.6,64.0 L549.2,64.2 L549.8,64.3 L550.4,64.5 L551.0,64.7 L551.6,65.5 L552.2,66.3 L552.8,67.0 L553.4,67.8 L554.0,68.6 L554.6,69.4 L555.2,70.2 L555.8,70.9 L556.4,71.2 L557.0,71.2 L557.6,71.2 L558.2,71.2 L558.8,71.2 L559.4,71.2 L560.0,71.2 L560.6,71.2 L561.2,71.2 L561.8,71.2 L562.4,71.2 L563.0,71.2 L563.6,71.2 L564.2,71.2 L564.8,71.2 L565.4,71.2 L566.0,71.2 L566.6,71.2 L567.2,71.2 L567.8,71.2 L568.4,71.2 L569.0,71.2 L569.6,71.2 L570.2,71.2 L570.8,71.2 L571.1,71.2 Z" fill="#f9e6e6"/>
<path d="M513.8,71.0 L514.4,70.9 L515.0,70.8 L515.6,70.6 L516.2,70.3 L516.8,69.9 L517.4,69.5 L518.0,68.8 L518.6,68.1 L519.2,67.0 L519.8,65.7 L520.4,64.1 L521.0,62.1 L521.6,59.8 L522.2,57.2 L522.8,54.7 L523.4,52.5 L524.0,50.8 L524.6,50.0 L525.2,50.1 L525.8,51.3 L526.4,53.3 L527.0,55.9 L527.6,58.8 L528.2,61.7 L528.8,64.2 L529.4,66.4 L530.0,68.0 L530.6,69.2 L531.2,69.9 L531.8,70.3 L532.4,70.5 L533.0,70.6 L533.6,70.0 L534.2,69.5 L534.8,69.0 L535.4,68.5 L536.0,68.0 L536.6,67.9 L537.2,67.8 L537.8,67.6 L538.4,67.5 L539.0,67.3 L539.6,67.1 L540.2,66.9 L540.8,66.8 L541.4,66.4 L542.0,66.1 L542.6,65.7 L543.2,65.3 L543.8,64.9 L544.4,64.6 L545.0,64.2 L545.6,63.8 L546.2,63.4 L546.8,63.4 L547.4,63.6 L548.0,63.8 L548.6,64.0 L549.2,64.2 L549.8,64.3 L550.4,64.5 L551.0,64.7 L551.6,65.5 L552.2,66.3 L552.8,67.0 L553.4,67.8 L554.0,68.6 L554.6,69.4 L555.2,70.2 L555.8,70.9" fill="none" stroke="#f2d2d2" stroke-width="0.6"/>
<line x1="496.40" y1="71.20" x2="571.10" y2="71.20" stroke="#faebeb" stroke-width="0.6"/>
<path d="M496.4,86.2 L496.4,86.2 L497.0,86.2 L497.6,86.2 L498.2,86.2 L498.8,86.2 L499.4,86.2 L500.0,86.2 L500.6,86.2 L501.2,86.2 L501.8,86.2 L502.4,86.2 L503.0,86.2 L503.6,86.2 L504.2,86.2 L504.8,86.2 L505.4,86.2 L506.0,86.2 L506.6,86.2 L507.2,86.2 L507.8,86.2 L508.4,86.2 L509.0,86.2 L509.6,86.2 L510.2,86.2 L510.8,86.2 L511.4,86.2 L512.0,86.2 L512.6,86.1 L513.2,86.1 L513.8,86.0 L514.4,85.9 L515.0,85.8 L515.6,85.6 L516.2,85.2 L516.8,84.8 L517.4,84.3 L518.0,83.5 L518.6,82.5 L519.2,81.2 L519.8,79.5 L520.4,77.4 L521.0,75.0 L521.6,72.2 L522.2,69.4 L522.8,66.8 L523.4,64.7 L524.0,63.4 L524.6,63.2 L525.2,64.1 L525.8,66.0 L526.4,68.7 L527.0,71.8 L527.6,74.9 L528.2,77.8 L528.8,80.3 L529.4,82.2 L530.0,83.7 L530.6,84.7 L531.2,85.3 L531.8,85.7 L532.4,85.5 L533.0,84.9 L533.6,84.3 L534.2,83.6 L534.8,82.9 L535.4,82.7 L536.0,82.6 L536.6,82.6 L537.2,82.5 L537.8,82.5 L538.4,82.4 L539.0,82.4 L539.6,82.3 L540.2,82.3 L540.8,82.2 L541.4,82.0 L542.0,81.7 L542.6,81.4 L543.2,81.1 L543.8,80.8 L544.4,80.5 L545.0,80.2 L545.6,80.0 L546.2,79.7 L546.8,79.5 L547.4,79.2 L548.0,79.0 L548.6,78.7 L549.2,78.5 L549.8,78.4 L550.4,78.6 L551.0,78.9 L551.6,79.1 L552.2,79.4 L552.8,79.6 L553.4,80.1 L554.0,80.8 L554.6,81.4 L555.2,82.1 L555.8,82.7 L556.4,83.4 L557.0,84.0 L557.6,84.7 L558.2,85.3 L558.8,86.0 L559.4,86.2 L560.0,86.2 L560.6,86.2 L561.2,86.2 L561.8,86.2 L562.4,86.2 L563.0,86.2 L563.6,86.2 L564.2,86.2 L564.8,86.2 L565.4,86.2 L566.0,86.2 L566.6,86.2 L567.2,86.2 L567.8,86.2 L568.4,86.2 L569.0,86.2 L569.6,86.2 L570.2,86.2 L570.8,86.2 L571.1,86.2 Z" fill="#f6cece"/>
<path d="M513.8,86.0 L514.4,85.9 L515.0,85.8 L515.6,85.6 L516.2,85.2 L516.8,84.8 L517.4,84.3 L518.0,83.5 L518.6,82.5 L519.2,81.2 L519.8,79.5 L520.4,77.4 L521.0,75.0 L521.6,72.2 L522.2,69.4 L522.8,66.8 L523.4,64.7 L524.0,63.4 L524.6,63.2 L525.2,64.1 L525.8,66.0 L526.4,68.7 L527.0,71.8 L527.6,74.9 L528.2,77.8 L528.8,80.3 L529.4,82.2 L530.0,83.7 L530.6,84.7 L531.2,85.3 L531.8,85.7 L532.4,85.5 L533.0,84.9 L533.6,84.3 L534.2,83.6 L534.8,82.9 L535.4,82.7 L536.0,82.6 L536.6,82.6 L537.2,82.5 L537.8,82.5 L538.4,82.4 L539.0,82.4 L539.6,82.3 L540.2,82.3 L540.8,82.2 L541.4,82.0 L542.0,81.7 L542.6,81.4 L543.2,81.1 L543.8,80.8 L544.4,80.5 L545.0,80.2 L545.6,80.0 L546.2,79.7 L546.8,79.5 L547.4,79.2 L548.0,79.0 L548.6,78.7 L549.2,78.5 L549.8,78.4 L550.4,78.6 L551.0,78.9 L551.6,79.1 L552.2,79.4 L552.8,79.6 L553.4,80.1 L554.0,80.8 L554.6,81.4 L555.2,82.1 L555.8,82.7 L556.4,83.4 L557.0,84.0 L557.6,84.7 L558.2,85.3 L558.8,86.0" fill="none" stroke="#eeb6b6" stroke-width="0.6"/>
<line x1="496.40" y1="86.20" x2="571.10" y2="86.20" stroke="#f7d7d7" stroke-width="0.6"/>
<path d="M496.4,100.8 L496.4,100.8 L497.0,100.8 L497.6,100.8 L498.2,100.8 L498.8,100.8 L499.4,100.8 L500.0,100.8 L500.6,100.8 L501.2,100.8 L501.8,100.8 L502.4,100.8 L503.0,100.8 L503.6,100.8 L504.2,100.8 L504.8,100.8 L505.4,100.8 L506.0,100.8 L506.6,100.8 L507.2,100.8 L507.8,100.8 L508.4,100.8 L509.0,100.8 L509.6,100.8 L510.2,100.8 L510.8,100.8 L511.4,100.8 L512.0,100.7 L512.6,100.7 L513.2,100.6 L513.8,100.5 L514.4,100.4 L515.0,100.2 L515.6,99.9 L516.2,99.5 L516.8,99.0 L517.4,98.3 L518.0,97.3 L518.6,96.0 L519.2,94.3 L519.8,92.1 L520.4,89.6 L521.0,86.6 L521.6,83.4 L522.2,80.4 L522.8,77.8 L523.4,76.0 L524.0,75.4 L524.6,75.9 L525.2,77.6 L525.8,80.3 L526.4,83.6 L527.0,87.1 L527.6,90.4 L528.2,93.3 L528.8,95.7 L529.4,97.5 L530.0,98.8 L530.6,99.6 L531.2,100.2 L531.8,99.6 L532.4,97.9 L533.0,96.2 L533.6,94.7 L534.2,94.6 L534.8,94.4 L535.4,94.3 L536.0,94.1 L536.6,93.9 L537.2,93.7 L537.8,93.4 L538.4,93.1 L539.0,92.8 L539.6,92.5 L540.2,92.3 L540.8,92.2 L541.4,92.1 L542.0,92.0 L542.6,91.9 L543.2,91.6 L543.8,91.0 L544.4,90.4 L545.0,89.8 L545.6,89.3 L546.2,88.8 L546.8,88.3 L547.4,87.8 L548.0,87.3 L548.6,88.0 L549.2,88.7 L549.8,89.4 L550.4,90.1 L551.0,90.8 L551.6,91.6 L552.2,92.4 L552.8,93.2 L553.4,94.0 L554.0,94.8 L554.6,95.8 L555.2,96.9 L555.8,97.9 L556.4,98.9 L557.0,99.9 L557.6,100.8 L558.2,100.8 L558.8,100.8 L559.4,100.8 L560.0,100.8 L560.6,100.8 L561.2,100.8 L561.8,100.8 L562.4,100.8 L563.0,100.8 L563.6,100.8 L564.2,100.8 L564.8,100.8 L565.4,100.8 L566.0,100.8 L566.6,100.8 L567.2,100.8 L567.8,100.8 L568.4,100.8 L569.0,100.8 L569.6,100.8 L570.2,100.8 L570.8,100.8 L571.1,100.8 Z" fill="#f2b6b6"/>
<path d="M513.2,100.6 L513.8,100.5 L514.4,100.4 L515.0,100.2 L515.6,99.9 L516.2,99.5 L516.8,99.0 L517.4,98.3 L518.0,97.3 L518.6,96.0 L519.2,94.3 L519.8,92.1 L520.4,89.6 L521.0,86.6 L521.6,83.4 L522.2,80.4 L522.8,77.8 L523.4,76.0 L524.0,75.4 L524.6,75.9 L525.2,77.6 L525.8,80.3 L526.4,83.6 L527.0,87.1 L527.6,90.4 L528.2,93.3 L528.8,95.7 L529.4,97.5 L530.0,98.8 L530.6,99.6 L531.2,100.2 L531.8,99.6 L532.4,97.9 L533.0,96.2 L533.6,94.7 L534.2,94.6 L534.8,94.4 L535.4,94.3 L536.0,94.1 L536.6,93.9 L537.2,93.7 L537.8,93.4 L538.4,93.1 L539.0,92.8 L539.6,92.5 L540.2,92.3 L540.8,92.2 L541.4,92.1 L542.0,92.0 L542.6,91.9 L543.2,91.6 L543.8,91.0 L544.4,90.4 L545.0,89.8 L545.6,89.3 L546.2,88.8 L546.8,88.3 L547.4,87.8 L548.0,87.3 L548.6,88.0 L549.2,88.7 L549.8,89.4 L550.4,90.1 L551.0,90.8 L551.6,91.6 L552.2,92.4 L552.8,93.2 L553.4,94.0 L554.0,94.8 L554.6,95.8 L555.2,96.9 L555.8,97.9 L556.4,98.9 L557.0,99.9" fill="none" stroke="#e89c9c" stroke-width="0.6"/>
<line x1="496.40" y1="100.80" x2="571.10" y2="100.80" stroke="#f4c4c4" stroke-width="0.6"/>
<path d="M496.4,115.0 L496.4,115.0 L497.0,115.0 L497.6,115.0 L498.2,115.0 L498.8,115.0 L499.4,115.0 L500.0,115.0 L500.6,115.0 L501.2,115.0 L501.8,115.0 L502.4,115.0 L503.0,115.0 L503.6,115.0 L504.2,115.0 L504.8,115.0 L505.4,115.0 L506.0,115.0 L506.6,115.0 L507.2,115.0 L507.8,115.0 L508.4,115.0 L509.0,115.0 L509.6,115.0 L510.2,115.0 L510.8,115.0 L511.4,115.0 L512.0,114.9 L512.6,114.9 L513.2,114.8 L513.8,114.7 L514.4,114.5 L515.0,114.3 L515.6,114.0 L516.2,113.6 L516.8,113.0 L517.4,112.3 L518.0,111.3 L518.6,110.1 L519.2,108.6 L519.8,106.7 L520.4,104.5 L521.0,101.9 L521.6,99.3 L522.2,96.8 L522.8,94.7 L523.4,93.3 L524.0,92.8 L524.6,93.4 L525.2,94.9 L525.8,97.3 L526.4,100.2 L527.0,103.2 L527.6,106.1 L528.2,108.6 L528.8,110.6 L529.4,112.2 L530.0,113.3 L530.6,114.0 L531.2,114.4 L531.8,113.7 L532.4,111.9 L533.0,109.9 L533.6,109.8 L534.2,109.6 L534.8,109.4 L535.4,109.2 L536.0,109.0 L536.6,108.7 L537.2,108.4 L537.8,108.1 L538.4,107.8 L539.0,107.5 L539.6,107.8 L540.2,108.1 L540.8,108.4 L541.4,108.2 L542.0,107.9 L542.6,107.5 L543.2,107.1 L543.8,106.7 L544.4,106.9 L545.0,107.3 L545.6,107.7 L546.2,107.9 L546.8,107.7 L547.4,107.5 L548.0,107.3 L548.6,107.1 L549.2,107.1 L549.8,107.3 L550.4,107.5 L551.0,107.7 L551.6,107.9 L552.2,108.2 L552.8,108.8 L553.4,109.4 L554.0,110.0 L554.6,110.6 L555.2,111.5 L555.8,113.1 L556.4,114.7 L557.0,115.0 L557.6,115.0 L558.2,115.0 L558.8,115.0 L559.4,115.0 L560.0,115.0 L560.6,115.0 L561.2,115.0 L561.8,115.0 L562.4,115.0 L563.0,115.0 L563.6,115.0 L564.2,115.0 L564.8,115.0 L565.4,115.0 L566.0,115.0 L566.6,115.0 L567.2,115.0 L567.8,115.0 L568.4,115.0 L569.0,115.0 L569.6,115.0 L570.2,115.0 L570.8,115.0 L571.1,115.0 Z" fill="#ee9e9e"/>
<path d="M513.2,114.8 L513.8,114.7 L514.4,114.5 L515.0,114.3 L515.6,114.0 L516.2,113.6 L516.8,113.0 L517.4,112.3 L518.0,111.3 L518.6,110.1 L519.2,108.6 L519.8,106.7 L520.4,104.5 L521.0,101.9 L521.6,99.3 L522.2,96.8 L522.8,94.7 L523.4,93.3 L524.0,92.8 L524.6,93.4 L525.2,94.9 L525.8,97.3 L526.4,100.2 L527.0,103.2 L527.6,106.1 L528.2,108.6 L528.8,110.6 L529.4,112.2 L530.0,113.3 L530.6,114.0 L531.2,114.4 L531.8,113.7 L532.4,111.9 L533.0,109.9 L533.6,109.8 L534.2,109.6 L534.8,109.4 L535.4,109.2 L536.0,109.0 L536.6,108.7 L537.2,108.4 L537.8,108.1 L538.4,107.8 L539.0,107.5 L539.6,107.8 L540.2,108.1 L540.8,108.4 L541.4,108.2 L542.0,107.9 L542.6,107.5 L543.2,107.1 L543.8,106.7 L544.4,106.9 L545.0,107.3 L545.6,107.7 L546.2,107.9 L546.8,107.7 L547.4,107.5 L548.0,107.3 L548.6,107.1 L549.2,107.1 L549.8,107.3 L550.4,107.5 L551.0,107.7 L551.6,107.9 L552.2,108.2 L552.8,108.8 L553.4,109.4 L554.0,110.0 L554.6,110.6 L555.2,111.5 L555.8,113.1 L556.4,114.7" fill="none" stroke="#e28484" stroke-width="0.6"/>
<line x1="496.40" y1="115.00" x2="571.10" y2="115.00" stroke="#f1b1b1" stroke-width="0.6"/>
<path d="M496.4,128.1 L496.4,128.1 L497.0,128.1 L497.6,128.1 L498.2,128.1 L498.8,128.1 L499.4,128.1 L500.0,128.1 L500.6,128.1 L501.2,128.1 L501.8,128.1 L502.4,128.1 L503.0,128.1 L503.6,128.1 L504.2,128.1 L504.8,128.1 L505.4,128.1 L506.0,128.1 L506.6,128.1 L507.2,128.1 L507.8,128.1 L508.4,128.1 L509.0,128.1 L509.6,128.1 L510.2,128.1 L510.8,128.1 L511.4,128.1 L512.0,128.0 L512.6,128.0 L513.2,127.9 L513.8,127.8 L514.4,127.7 L515.0,127.4 L515.6,127.1 L516.2,126.7 L516.8,126.2 L517.4,125.6 L518.0,124.9 L518.6,124.0 L519.2,123.1 L519.8,122.0 L520.4,120.8 L521.0,119.4 L521.6,117.5 L522.2,115.0 L522.8,111.7 L523.4,107.8 L524.0,103.9 L524.6,101.0 L525.2,99.8 L525.8,101.1 L526.4,104.5 L527.0,109.3 L527.6,114.4 L528.2,118.9 L528.8,122.3 L529.4,124.6 L530.0,126.1 L530.6,126.9 L531.2,127.4 L531.8,127.7 L532.4,126.8 L533.0,125.4 L533.6,124.0 L534.2,123.0 L534.8,122.9 L535.4,122.7 L536.0,122.6 L536.6,122.4 L537.2,122.3 L537.8,122.1 L538.4,122.0 L539.0,122.0 L539.6,121.9 L540.2,121.8 L540.8,121.7 L541.4,121.7 L542.0,121.6 L542.6,121.5 L543.2,121.4 L543.8,121.3 L544.4,121.2 L545.0,121.1 L545.6,120.7 L546.2,120.3 L546.8,119.9 L547.4,119.5 L548.0,119.1 L548.6,119.4 L549.2,119.7 L549.8,120.0 L550.4,120.3 L551.0,120.6 L551.6,121.2 L552.2,121.8 L552.8,122.4 L553.4,123.0 L554.0,123.6 L554.6,124.3 L555.2,125.2 L555.8,126.2 L556.4,127.1 L557.0,128.1 L557.6,128.1 L558.2,128.1 L558.8,128.1 L559.4,128.1 L560.0,128.1 L560.6,128.1 L561.2,128.1 L561.8,128.1 L562.4,128.1 L563.0,128.1 L563.6,128.1 L564.2,128.1 L564.8,128.1 L565.4,128.1 L566.0,128.1 L566.6,128.1 L567.2,128.1 L567.8,128.1 L568.4,128.1 L569.0,128.1 L569.6,128.1 L570.2,128.1 L570.8,128.1 L571.1,128.1 Z" fill="#ef6468"/>
<path d="M513.2,127.9 L513.8,127.8 L514.4,127.7 L515.0,127.4 L515.6,127.1 L516.2,126.7 L516.8,126.2 L517.4,125.6 L518.0,124.9 L518.6,124.0 L519.2,123.1 L519.8,122.0 L520.4,120.8 L521.0,119.4 L521.6,117.5 L522.2,115.0 L522.8,111.7 L523.4,107.8 L524.0,103.9 L524.6,101.0 L525.2,99.8 L525.8,101.1 L526.4,104.5 L527.0,109.3 L527.6,114.4 L528.2,118.9 L528.8,122.3 L529.4,124.6 L530.0,126.1 L530.6,126.9 L531.2,127.4 L531.8,127.7 L532.4,126.8 L533.0,125.4 L533.6,124.0 L534.2,123.0 L534.8,122.9 L535.4,122.7 L536.0,122.6 L536.6,122.4 L537.2,122.3 L537.8,122.1 L538.4,122.0 L539.0,122.0 L539.6,121.9 L540.2,121.8 L540.8,121.7 L541.4,121.7 L542.0,121.6 L542.6,121.5 L543.2,121.4 L543.8,121.3 L544.4,121.2 L545.0,121.1 L545.6,120.7 L546.2,120.3 L546.8,119.9 L547.4,119.5 L548.0,119.1 L548.6,119.4 L549.2,119.7 L549.8,120.0 L550.4,120.3 L551.0,120.6 L551.6,121.2 L552.2,121.8 L552.8,122.4 L553.4,123.0 L554.0,123.6 L554.6,124.3 L555.2,125.2 L555.8,126.2 L556.4,127.1" fill="none" stroke="#e04a50" stroke-width="0.6"/>
<line x1="496.40" y1="128.10" x2="571.10" y2="128.10" stroke="#f28386" stroke-width="0.6"/>
<line x1="532.30" y1="26.80" x2="532.30" y2="128.10" stroke="#333" stroke-width="0.8" stroke-dasharray="1,1"/>
<rect x="495.90" y="26.80" width="75.70" height="101.30" fill="none" stroke="#777" stroke-width="0.9"/>
<text x="495.30" y="24.80" font-size="9.5" text-anchor="start" fill="#1a1a1a">LoVo</text>
<text x="571.60" y="25.80" font-size="5.6" text-anchor="end" fill="#1a1a1a" style="stroke-width:0.08px">Mean MFI</text>
<text x="496.50" y="34.20" font-size="5.8" text-anchor="start" fill="#1a1a1a" style="stroke-width:0.08px">Isotype</text>
<text x="490.40" y="38.70" font-size="9.2" text-anchor="end" fill="#1a1a1a">-</text>
<text x="492.60" y="59.60" font-size="9.2" text-anchor="end" fill="#1a1a1a">0</text>
<text x="492.60" y="76.10" font-size="9.2" text-anchor="end" fill="#1a1a1a">5</text>
<text x="492.60" y="91.50" font-size="9.2" text-anchor="end" fill="#1a1a1a">10</text>
<text x="492.60" y="108.70" font-size="9.2" text-anchor="end" fill="#1a1a1a">20</text>
<text x="492.60" y="124.60" font-size="9.2" text-anchor="end" fill="#1a1a1a">40</text>
<line x1="480.90" y1="26.80" x2="480.90" y2="128.10" stroke="#111" stroke-width="1.0"/>
<path d="M480.90,132.10 L478.90,127.10 L482.90,127.10 Z" fill="#111"/>
<text x="476.50" y="79.40" font-size="8.7" text-anchor="middle" fill="#1a1a1a" transform="rotate(-90 476.50 79.40)">TGF&#946; (ng/mL)</text>
<text x="569.50" y="43.00" font-size="6.2" text-anchor="end" fill="#1a1a1a" style="stroke-width:0.08px">34.9</text>
<text x="569.50" y="60.00" font-size="6.2" text-anchor="end" fill="#1a1a1a" style="stroke-width:0.08px">107.0</text>
<text x="569.50" y="76.10" font-size="6.2" text-anchor="end" fill="#1a1a1a" style="stroke-width:0.08px">135.0</text>
<text x="569.50" y="92.20" font-size="6.2" text-anchor="end" fill="#1a1a1a" style="stroke-width:0.08px">147.0</text>
<text x="569.50" y="108.10" font-size="6.2" text-anchor="end" fill="#1a1a1a" style="stroke-width:0.08px">125.0</text>
<text x="569.50" y="124.60" font-size="6.2" text-anchor="end" fill="#1a1a1a" style="stroke-width:0.08px">121.0</text>
<line x1="496.50" y1="128.10" x2="496.50" y2="130.30" stroke="#333" stroke-width="0.7"/>
<line x1="502.71" y1="128.10" x2="502.71" y2="129.40" stroke="#333" stroke-width="0.5"/>
<line x1="506.34" y1="128.10" x2="506.34" y2="129.40" stroke="#333" stroke-width="0.5"/>
<line x1="508.92" y1="128.10" x2="508.92" y2="129.40" stroke="#333" stroke-width="0.5"/>
<line x1="510.92" y1="128.10" x2="510.92" y2="129.40" stroke="#333" stroke-width="0.5"/>
<line x1="512.55" y1="128.10" x2="512.55" y2="129.40" stroke="#333" stroke-width="0.5"/>
<line x1="513.93" y1="128.10" x2="513.93" y2="129.40" stroke="#333" stroke-width="0.5"/>
<line x1="515.13" y1="128.10" x2="515.13" y2="129.40" stroke="#333" stroke-width="0.5"/>
<line x1="516.18" y1="128.10" x2="516.18" y2="129.40" stroke="#333" stroke-width="0.5"/>
<line x1="517.12" y1="128.10" x2="517.12" y2="130.30" stroke="#333" stroke-width="0.7"/>
<line x1="523.33" y1="128.10" x2="523.33" y2="129.40" stroke="#333" stroke-width="0.5"/>
<line x1="526.97" y1="128.10" x2="526.97" y2="129.40" stroke="#333" stroke-width="0.5"/>
<line x1="529.54" y1="128.10" x2="529.54" y2="129.40" stroke="#333" stroke-width="0.5"/>
<line x1="531.54" y1="128.10" x2="531.54" y2="129.40" stroke="#333" stroke-width="0.5"/>
<line x1="533.17" y1="128.10" x2="533.17" y2="129.40" stroke="#333" stroke-width="0.5"/>
<line x1="534.56" y1="128.10" x2="534.56" y2="129.40" stroke="#333" stroke-width="0.5"/>
<line x1="535.75" y1="128.10" x2="535.75" y2="129.40" stroke="#333" stroke-width="0.5"/>
<line x1="536.81" y1="128.10" x2="536.81" y2="129.40" stroke="#333" stroke-width="0.5"/>
<line x1="537.75" y1="128.10" x2="537.75" y2="130.30" stroke="#333" stroke-width="0.7"/>
<line x1="543.96" y1="128.10" x2="543.96" y2="129.40" stroke="#333" stroke-width="0.5"/>
<line x1="547.59" y1="128.10" x2="547.59" y2="129.40" stroke="#333" stroke-width="0.5"/>
<line x1="550.17" y1="128.10" x2="550.17" y2="129.40" stroke="#333" stroke-width="0.5"/>
<line x1="552.17" y1="128.10" x2="552.17" y2="129.40" stroke="#333" stroke-width="0.5"/>
<line x1="553.80" y1="128.10" x2="553.80" y2="129.40" stroke="#333" stroke-width="0.5"/>
<line x1="555.18" y1="128.10" x2="555.18" y2="129.40" stroke="#333" stroke-width="0.5"/>
<line x1="556.38" y1="128.10" x2="556.38" y2="129.40" stroke="#333" stroke-width="0.5"/>
<line x1="557.43" y1="128.10" x2="557.43" y2="129.40" stroke="#333" stroke-width="0.5"/>
<line x1="558.38" y1="128.10" x2="558.38" y2="130.30" stroke="#333" stroke-width="0.7"/>
<line x1="564.58" y1="128.10" x2="564.58" y2="129.40" stroke="#333" stroke-width="0.5"/>
<line x1="568.22" y1="128.10" x2="568.22" y2="129.40" stroke="#333" stroke-width="0.5"/>
<line x1="570.79" y1="128.10" x2="570.79" y2="129.40" stroke="#333" stroke-width="0.5"/>
<text x="495.90" y="137.20" font-size="7" text-anchor="middle" fill="#1a1a1a">10<tspan font-size="4.5" dy="-2.6">0</tspan></text>
<text x="537.40" y="137.20" font-size="7" text-anchor="middle" fill="#1a1a1a">10<tspan font-size="4.5" dy="-2.6">2</tspan></text>
<line x1="495.40" y1="142.20" x2="568.30" y2="142.20" stroke="#111" stroke-width="1.0"/>
<path d="M572.30,142.20 L567.30,140.20 L567.30,144.20 Z" fill="#111"/>
<text x="531.00" y="149.80" font-size="7" text-anchor="middle" fill="#1a1a1a">APC-ENO1</text>
<path d="M601.9,45.9 L601.9,45.9 L602.5,45.9 L603.1,45.9 L603.7,45.9 L604.3,45.9 L604.9,45.9 L605.5,45.9 L606.1,45.9 L606.7,45.9 L607.3,45.9 L607.9,45.9 L608.5,45.9 L609.1,45.9 L609.7,42.9 L610.3,39.3 L610.9,35.7 L611.5,32.1 L612.1,29.7 L612.7,29.7 L613.3,29.7 L613.9,29.7 L614.5,29.7 L615.1,29.7 L615.7,29.7 L616.3,29.7 L616.9,29.7 L617.5,29.7 L618.1,29.7 L618.7,29.7 L619.3,29.7 L619.9,29.7 L620.5,29.7 L621.1,29.7 L621.7,29.7 L622.3,29.7 L622.9,29.7 L623.5,29.7 L624.1,29.7 L624.7,29.7 L625.3,29.7 L625.9,29.7 L626.5,29.7 L627.1,29.7 L627.7,29.7 L628.3,29.7 L628.9,32.1 L629.5,34.6 L630.1,37.0 L630.7,38.3 L631.3,39.4 L631.9,40.5 L632.5,41.5 L633.1,42.6 L633.7,43.7 L634.3,44.4 L634.9,44.5 L635.5,44.6 L636.1,44.7 L636.7,44.8 L637.3,44.8 L637.9,44.9 L638.5,45.0 L639.1,45.1 L639.7,45.2 L640.3,45.2 L640.9,45.2 L641.5,45.2 L642.1,45.2 L642.7,45.2 L643.3,45.2 L643.9,45.2 L644.5,45.2 L645.1,45.3 L645.7,45.3 L646.3,45.3 L646.9,45.3 L647.5,45.3 L648.1,45.3 L648.7,45.3 L649.3,45.3 L649.9,45.3 L650.5,45.3 L651.1,45.3 L651.7,45.3 L652.3,45.3 L652.9,45.3 L653.5,45.3 L654.1,45.3 L654.7,45.3 L655.3,45.4 L655.9,45.4 L656.5,45.4 L657.1,45.4 L657.7,45.4 L658.3,45.4 L658.9,45.4 L659.5,45.4 L660.1,45.4 L660.7,45.4 L661.3,45.4 L661.9,45.5 L662.5,45.5 L663.1,45.5 L663.7,45.5 L664.3,45.5 L664.9,45.6 L665.5,45.6 L666.1,45.6 L666.7,45.6 L667.3,45.6 L667.9,45.6 L668.5,45.7 L669.1,45.7 L669.7,45.7 L670.3,45.7 L670.9,45.7 L671.5,45.8 L672.1,45.8 L672.7,45.8 L673.3,45.8 L673.9,45.8 L674.5,45.9 L675.1,45.9 L675.7,45.9 L676.3,45.9 L676.9,45.9 L677.5,45.9 L678.1,45.9 L678.1,45.9 Z" fill="#bcbcbc"/>
<path d="M609.7,42.9 L610.3,39.3 L610.9,35.7 L611.5,32.1 L612.1,29.7 L612.7,29.7 L613.3,29.7 L613.9,29.7 L614.5,29.7 L615.1,29.7 L615.7,29.7 L616.3,29.7 L616.9,29.7 L617.5,29.7 L618.1,29.7 L618.7,29.7 L619.3,29.7 L619.9,29.7 L620.5,29.7 L621.1,29.7 L621.7,29.7 L622.3,29.7 L622.9,29.7 L623.5,29.7 L624.1,29.7 L624.7,29.7 L625.3,29.7 L625.9,29.7 L626.5,29.7 L627.1,29.7 L627.7,29.7 L628.3,29.7 L628.9,32.1 L629.5,34.6 L630.1,37.0 L630.7,38.3 L631.3,39.4 L631.9,40.5 L632.5,41.5 L633.1,42.6 L633.7,43.7 L634.3,44.4 L634.9,44.5 L635.5,44.6 L636.1,44.7 L636.7,44.8 L637.3,44.8 L637.9,44.9 L638.5,45.0 L639.1,45.1 L639.7,45.2 L640.3,45.2 L640.9,45.2 L641.5,45.2 L642.1,45.2 L642.7,45.2 L643.3,45.2 L643.9,45.2 L644.5,45.2 L645.1,45.3 L645.7,45.3 L646.3,45.3 L646.9,45.3 L647.5,45.3 L648.1,45.3 L648.7,45.3 L649.3,45.3 L649.9,45.3 L650.5,45.3 L651.1,45.3 L651.7,45.3 L652.3,45.3 L652.9,45.3 L653.5,45.3 L654.1,45.3 L654.7,45.3 L655.3,45.4 L655.9,45.4 L656.5,45.4 L657.1,45.4 L657.7,45.4 L658.3,45.4 L658.9,45.4 L659.5,45.4 L660.1,45.4 L660.7,45.4 L661.3,45.4 L661.9,45.5 L662.5,45.5 L663.1,45.5 L663.7,45.5 L664.3,45.5 L664.9,45.6 L665.5,45.6 L666.1,45.6 L666.7,45.6 L667.3,45.6 L667.9,45.6 L668.5,45.7 L669.1,45.7 L669.7,45.7 L670.3,45.7 L670.9,45.7" fill="none" stroke="#999" stroke-width="0.6"/>
<line x1="601.90" y1="45.90" x2="678.10" y2="45.90" stroke="#c9c9c9" stroke-width="0.6"/>
<path d="M601.9,64.0 L601.9,64.0 L602.5,64.0 L603.1,64.0 L603.7,64.0 L604.3,64.0 L604.9,64.0 L605.5,64.0 L606.1,64.0 L606.7,64.0 L607.3,64.0 L607.9,64.0 L608.5,64.0 L609.1,64.0 L609.7,64.0 L610.3,64.0 L610.9,63.2 L611.5,58.7 L612.1,54.2 L612.7,49.7 L613.3,47.5 L613.9,47.5 L614.5,47.5 L615.1,47.5 L615.7,47.5 L616.3,47.5 L616.9,47.5 L617.5,47.5 L618.1,47.5 L618.7,47.5 L619.3,47.5 L619.9,47.5 L620.5,47.5 L621.1,47.5 L621.7,47.5 L622.3,47.5 L622.9,47.5 L623.5,47.5 L624.1,47.5 L624.7,47.5 L625.3,47.5 L625.9,47.5 L626.5,47.5 L627.1,47.5 L627.7,47.5 L628.3,47.5 L628.9,48.6 L629.5,50.7 L630.1,52.8 L630.7,54.9 L631.3,56.5 L631.9,57.5 L632.5,58.4 L633.1,59.4 L633.7,60.4 L634.3,61.0 L634.9,61.2 L635.5,61.3 L636.1,61.4 L636.7,61.5 L637.3,61.7 L637.9,61.8 L638.5,61.9 L639.1,62.0 L639.7,62.1 L640.3,62.2 L640.9,62.2 L641.5,62.1 L642.1,62.1 L642.7,62.1 L643.3,62.1 L643.9,62.0 L644.5,62.0 L645.1,62.0 L645.7,62.0 L646.3,61.9 L646.9,61.9 L647.5,61.9 L648.1,61.9 L648.7,61.9 L649.3,61.8 L649.9,61.8 L650.5,61.7 L651.1,61.5 L651.7,61.3 L652.3,61.2 L652.9,61.0 L653.5,60.9 L654.1,60.7 L654.7,60.5 L655.3,60.6 L655.9,60.8 L656.5,61.0 L657.1,61.2 L657.7,61.3 L658.3,61.5 L658.9,61.7 L659.5,61.9 L660.1,62.0 L660.7,62.1 L661.3,62.2 L661.9,62.3 L662.5,62.3 L663.1,62.4 L663.7,62.5 L664.3,62.6 L664.9,62.7 L665.5,62.7 L666.1,62.8 L666.7,62.9 L667.3,63.0 L667.9,63.1 L668.5,63.1 L669.1,63.2 L669.7,63.3 L670.3,63.4 L670.9,63.5 L671.5,63.5 L672.1,63.6 L672.7,63.7 L673.3,63.8 L673.9,63.9 L674.5,63.9 L675.1,64.0 L675.7,64.0 L676.3,64.0 L676.9,64.0 L677.5,64.0 L678.1,64.0 L678.1,64.0 Z" fill="#f9e6e6"/>
<path d="M610.9,63.2 L611.5,58.7 L612.1,54.2 L612.7,49.7 L613.3,47.5 L613.9,47.5 L614.5,47.5 L615.1,47.5 L615.7,47.5 L616.3,47.5 L616.9,47.5 L617.5,47.5 L618.1,47.5 L618.7,47.5 L619.3,47.5 L619.9,47.5 L620.5,47.5 L621.1,47.5 L621.7,47.5 L622.3,47.5 L622.9,47.5 L623.5,47.5 L624.1,47.5 L624.7,47.5 L625.3,47.5 L625.9,47.5 L626.5,47.5 L627.1,47.5 L627.7,47.5 L628.3,47.5 L628.9,48.6 L629.5,50.7 L630.1,52.8 L630.7,54.9 L631.3,56.5 L631.9,57.5 L632.5,58.4 L633.1,59.4 L633.7,60.4 L634.3,61.0 L634.9,61.2 L635.5,61.3 L636.1,61.4 L636.7,61.5 L637.3,61.7 L637.9,61.8 L638.5,61.9 L639.1,62.0 L639.7,62.1 L640.3,62.2 L640.9,62.2 L641.5,62.1 L642.1,62.1 L642.7,62.1 L643.3,62.1 L643.9,62.0 L644.5,62.0 L645.1,62.0 L645.7,62.0 L646.3,61.9 L646.9,61.9 L647.5,61.9 L648.1,61.9 L648.7,61.9 L649.3,61.8 L649.9,61.8 L650.5,61.7 L651.1,61.5 L651.7,61.3 L652.3,61.2 L652.9,61.0 L653.5,60.9 L654.1,60.7 L654.7,60.5 L655.3,60.6 L655.9,60.8 L656.5,61.0 L657.1,61.2 L657.7,61.3 L658.3,61.5 L658.9,61.7 L659.5,61.9 L660.1,62.0 L660.7,62.1 L661.3,62.2 L661.9,62.3 L662.5,62.3 L663.1,62.4 L663.7,62.5 L664.3,62.6 L664.9,62.7 L665.5,62.7 L666.1,62.8 L666.7,62.9 L667.3,63.0 L667.9,63.1 L668.5,63.1 L669.1,63.2 L669.7,63.3 L670.3,63.4 L670.9,63.5 L671.5,63.5 L672.1,63.6 L672.7,63.7 L673.3,63.8" fill="none" stroke="#f2d2d2" stroke-width="0.6"/>
<line x1="601.90" y1="64.00" x2="678.10" y2="64.00" stroke="#faebeb" stroke-width="0.6"/>
<path d="M601.9,80.5 L601.9,80.5 L602.5,80.5 L603.1,80.5 L603.7,80.5 L604.3,80.5 L604.9,80.5 L605.5,80.5 L606.1,80.5 L606.7,80.5 L607.3,80.5 L607.9,80.5 L608.5,80.5 L609.1,80.5 L609.7,79.7 L610.3,77.2 L610.9,74.7 L611.5,72.2 L612.1,69.8 L612.7,67.3 L613.3,64.8 L613.9,64.0 L614.5,64.0 L615.1,64.0 L615.7,64.0 L616.3,64.0 L616.9,64.0 L617.5,64.0 L618.1,64.0 L618.7,64.0 L619.3,64.0 L619.9,64.0 L620.5,64.0 L621.1,64.0 L621.7,64.0 L622.3,64.0 L622.9,64.0 L623.5,64.0 L624.1,64.0 L624.7,64.0 L625.3,64.0 L625.9,64.0 L626.5,64.0 L627.1,64.0 L627.7,64.0 L628.3,64.0 L628.9,65.1 L629.5,67.3 L630.1,69.4 L630.7,71.6 L631.3,73.8 L631.9,75.1 L632.5,76.1 L633.1,77.1 L633.7,78.1 L634.3,79.0 L634.9,80.0 L635.5,79.8 L636.1,79.6 L636.7,79.4 L637.3,79.2 L637.9,79.0 L638.5,78.8 L639.1,78.6 L639.7,78.3 L640.3,78.1 L640.9,77.8 L641.5,77.6 L642.1,77.3 L642.7,77.1 L643.3,77.1 L643.9,77.3 L644.5,77.5 L645.1,77.6 L645.7,77.8 L646.3,78.0 L646.9,78.2 L647.5,78.4 L648.1,78.5 L648.7,78.3 L649.3,78.1 L649.9,77.9 L650.5,77.8 L651.1,77.6 L651.7,77.4 L652.3,77.2 L652.9,77.1 L653.5,76.9 L654.1,76.7 L654.7,76.5 L655.3,76.7 L655.9,77.0 L656.5,77.3 L657.1,77.6 L657.7,77.9 L658.3,78.0 L658.9,77.9 L659.5,77.8 L660.1,77.7 L660.7,77.7 L661.3,77.6 L661.9,77.5 L662.5,77.7 L663.1,78.0 L663.7,78.2 L664.3,78.4 L664.9,78.6 L665.5,78.9 L666.1,79.1 L666.7,79.3 L667.3,79.6 L667.9,79.8 L668.5,80.0 L669.1,80.2 L669.7,80.5 L670.3,80.5 L670.9,80.5 L671.5,80.5 L672.1,80.5 L672.7,80.5 L673.3,80.5 L673.9,80.5 L674.5,80.5 L675.1,80.5 L675.7,80.5 L676.3,80.5 L676.9,80.5 L677.5,80.5 L678.1,80.5 L678.1,80.5 Z" fill="#f6cece"/>
<path d="M609.7,79.7 L610.3,77.2 L610.9,74.7 L611.5,72.2 L612.1,69.8 L612.7,67.3 L613.3,64.8 L613.9,64.0 L614.5,64.0 L615.1,64.0 L615.7,64.0 L616.3,64.0 L616.9,64.0 L617.5,64.0 L618.1,64.0 L618.7,64.0 L619.3,64.0 L619.9,64.0 L620.5,64.0 L621.1,64.0 L621.7,64.0 L622.3,64.0 L622.9,64.0 L623.5,64.0 L624.1,64.0 L624.7,64.0 L625.3,64.0 L625.9,64.0 L626.5,64.0 L627.1,64.0 L627.7,64.0 L628.3,64.0 L628.9,65.1 L629.5,67.3 L630.1,69.4 L630.7,71.6 L631.3,73.8 L631.9,75.1 L632.5,76.1 L633.1,77.1 L633.7,78.1 L634.3,79.0 L634.9,80.0 L635.5,79.8 L636.1,79.6 L636.7,79.4 L637.3,79.2 L637.9,79.0 L638.5,78.8 L639.1,78.6 L639.7,78.3 L640.3,78.1 L640.9,77.8 L641.5,77.6 L642.1,77.3 L642.7,77.1 L643.3,77.1 L643.9,77.3 L644.5,77.5 L645.1,77.6 L645.7,77.8 L646.3,78.0 L646.9,78.2 L647.5,78.4 L648.1,78.5 L648.7,78.3 L649.3,78.1 L649.9,77.9 L650.5,77.8 L651.1,77.6 L651.7,77.4 L652.3,77.2 L652.9,77.1 L653.5,76.9 L654.1,76.7 L654.7,76.5 L655.3,76.7 L655.9,77.0 L656.5,77.3 L657.1,77.6 L657.7,77.9 L658.3,78.0 L658.9,77.9 L659.5,77.8 L660.1,77.7 L660.7,77.7 L661.3,77.6 L661.9,77.5 L662.5,77.7 L663.1,78.0 L663.7,78.2 L664.3,78.4 L664.9,78.6 L665.5,78.9 L666.1,79.1 L666.7,79.3 L667.3,79.6 L667.9,79.8 L668.5,80.0 L669.1,80.2" fill="none" stroke="#eeb6b6" stroke-width="0.6"/>
<line x1="601.90" y1="80.50" x2="678.10" y2="80.50" stroke="#f7d7d7" stroke-width="0.6"/>
<path d="M601.9,97.0 L601.9,97.0 L602.5,97.0 L603.1,97.0 L603.7,97.0 L604.3,97.0 L604.9,97.0 L605.5,97.0 L606.1,97.0 L606.7,97.0 L607.3,97.0 L607.9,97.0 L608.5,97.0 L609.1,97.0 L609.7,96.2 L610.3,93.8 L610.9,91.4 L611.5,89.0 L612.1,86.6 L612.7,84.2 L613.3,81.8 L613.9,81.0 L614.5,81.0 L615.1,81.0 L615.7,81.0 L616.3,81.0 L616.9,81.0 L617.5,81.0 L618.1,81.0 L618.7,81.0 L619.3,81.0 L619.9,81.0 L620.5,81.0 L621.1,81.0 L621.7,81.0 L622.3,81.0 L622.9,81.0 L623.5,81.0 L624.1,81.0 L624.7,81.0 L625.3,81.0 L625.9,81.0 L626.5,81.0 L627.1,81.0 L627.7,81.0 L628.3,81.0 L628.9,81.0 L629.5,81.0 L630.1,81.0 L630.7,81.0 L631.3,81.9 L631.9,83.7 L632.5,85.5 L633.1,87.3 L633.7,89.1 L634.3,90.4 L634.9,91.3 L635.5,92.2 L636.1,93.1 L636.7,94.0 L637.3,94.8 L637.9,95.7 L638.5,95.8 L639.1,95.5 L639.7,95.2 L640.3,94.9 L640.9,94.5 L641.5,94.2 L642.1,93.9 L642.7,93.6 L643.3,93.6 L643.9,93.7 L644.5,93.9 L645.1,94.0 L645.7,94.2 L646.3,94.3 L646.9,94.5 L647.5,94.4 L648.1,94.2 L648.7,94.0 L649.3,93.8 L649.9,93.7 L650.5,93.5 L651.1,93.3 L651.7,93.2 L652.3,93.0 L652.9,92.8 L653.5,92.6 L654.1,92.5 L654.7,92.6 L655.3,92.6 L655.9,92.7 L656.5,92.7 L657.1,92.8 L657.7,92.8 L658.3,92.9 L658.9,92.9 L659.5,93.0 L660.1,93.3 L660.7,93.5 L661.3,93.8 L661.9,94.1 L662.5,94.3 L663.1,94.6 L663.7,94.9 L664.3,95.1 L664.9,95.4 L665.5,95.6 L666.1,95.8 L666.7,96.1 L667.3,96.3 L667.9,96.6 L668.5,96.8 L669.1,97.0 L669.7,97.0 L670.3,97.0 L670.9,97.0 L671.5,97.0 L672.1,97.0 L672.7,97.0 L673.3,97.0 L673.9,97.0 L674.5,97.0 L675.1,97.0 L675.7,97.0 L676.3,97.0 L676.9,97.0 L677.5,97.0 L678.1,97.0 L678.1,97.0 Z" fill="#f2b6b6"/>
<path d="M609.7,96.2 L610.3,93.8 L610.9,91.4 L611.5,89.0 L612.1,86.6 L612.7,84.2 L613.3,81.8 L613.9,81.0 L614.5,81.0 L615.1,81.0 L615.7,81.0 L616.3,81.0 L616.9,81.0 L617.5,81.0 L618.1,81.0 L618.7,81.0 L619.3,81.0 L619.9,81.0 L620.5,81.0 L621.1,81.0 L621.7,81.0 L622.3,81.0 L622.9,81.0 L623.5,81.0 L624.1,81.0 L624.7,81.0 L625.3,81.0 L625.9,81.0 L626.5,81.0 L627.1,81.0 L627.7,81.0 L628.3,81.0 L628.9,81.0 L629.5,81.0 L630.1,81.0 L630.7,81.0 L631.3,81.9 L631.9,83.7 L632.5,85.5 L633.1,87.3 L633.7,89.1 L634.3,90.4 L634.9,91.3 L635.5,92.2 L636.1,93.1 L636.7,94.0 L637.3,94.8 L637.9,95.7 L638.5,95.8 L639.1,95.5 L639.7,95.2 L640.3,94.9 L640.9,94.5 L641.5,94.2 L642.1,93.9 L642.7,93.6 L643.3,93.6 L643.9,93.7 L644.5,93.9 L645.1,94.0 L645.7,94.2 L646.3,94.3 L646.9,94.5 L647.5,94.4 L648.1,94.2 L648.7,94.0 L649.3,93.8 L649.9,93.7 L650.5,93.5 L651.1,93.3 L651.7,93.2 L652.3,93.0 L652.9,92.8 L653.5,92.6 L654.1,92.5 L654.7,92.6 L655.3,92.6 L655.9,92.7 L656.5,92.7 L657.1,92.8 L657.7,92.8 L658.3,92.9 L658.9,92.9 L659.5,93.0 L660.1,93.3 L660.7,93.5 L661.3,93.8 L661.9,94.1 L662.5,94.3 L663.1,94.6 L663.7,94.9 L664.3,95.1 L664.9,95.4 L665.5,95.6 L666.1,95.8 L666.7,96.1 L667.3,96.3 L667.9,96.6 L668.5,96.8" fill="none" stroke="#e89c9c" stroke-width="0.6"/>
<line x1="601.90" y1="97.00" x2="678.10" y2="97.00" stroke="#f4c4c4" stroke-width="0.6"/>
<path d="M601.9,113.6 L601.9,113.6 L602.5,113.6 L603.1,113.6 L603.7,113.6 L604.3,113.6 L604.9,113.6 L605.5,113.6 L606.1,113.6 L606.7,113.6 L607.3,113.6 L607.9,113.6 L608.5,113.6 L609.1,113.6 L609.7,113.6 L610.3,113.6 L610.9,109.5 L611.5,105.4 L612.1,101.3 L612.7,97.2 L613.3,97.2 L613.9,97.2 L614.5,97.2 L615.1,97.2 L615.7,97.2 L616.3,97.2 L616.9,97.2 L617.5,97.2 L618.1,97.2 L618.7,97.2 L619.3,97.2 L619.9,97.2 L620.5,97.2 L621.1,97.2 L621.7,97.2 L622.3,97.2 L622.9,97.2 L623.5,97.2 L624.1,97.2 L624.7,97.2 L625.3,97.2 L625.9,97.2 L626.5,97.2 L627.1,97.2 L627.7,97.2 L628.3,97.2 L628.9,97.2 L629.5,97.2 L630.1,97.2 L630.7,97.2 L631.3,97.2 L631.9,97.2 L632.5,97.2 L633.1,99.7 L633.7,102.2 L634.3,104.7 L634.9,107.2 L635.5,108.0 L636.1,108.6 L636.7,109.1 L637.3,109.7 L637.9,110.2 L638.5,110.7 L639.1,110.9 L639.7,110.4 L640.3,109.9 L640.9,109.4 L641.5,108.9 L642.1,108.4 L642.7,107.9 L643.3,107.4 L643.9,107.3 L644.5,108.0 L645.1,108.6 L645.7,109.2 L646.3,109.9 L646.9,109.9 L647.5,109.7 L648.1,109.4 L648.7,109.1 L649.3,108.9 L649.9,108.6 L650.5,108.9 L651.1,109.2 L651.7,109.4 L652.3,109.7 L652.9,109.6 L653.5,109.4 L654.1,109.1 L654.7,108.9 L655.3,108.6 L655.9,108.8 L656.5,109.1 L657.1,109.4 L657.7,109.7 L658.3,110.0 L658.9,109.6 L659.5,109.0 L660.1,108.3 L660.7,107.6 L661.3,106.9 L661.9,106.2 L662.5,106.8 L663.1,107.6 L663.7,108.4 L664.3,109.2 L664.9,110.0 L665.5,110.4 L666.1,110.8 L666.7,111.2 L667.3,111.6 L667.9,112.0 L668.5,112.3 L669.1,112.6 L669.7,112.9 L670.3,113.1 L670.9,113.4 L671.5,113.6 L672.1,113.6 L672.7,113.6 L673.3,113.6 L673.9,113.6 L674.5,113.6 L675.1,113.6 L675.7,113.6 L676.3,113.6 L676.9,113.6 L677.5,113.6 L678.1,113.6 L678.1,113.6 Z" fill="#ee9e9e"/>
<path d="M610.9,109.5 L611.5,105.4 L612.1,101.3 L612.7,97.2 L613.3,97.2 L613.9,97.2 L614.5,97.2 L615.1,97.2 L615.7,97.2 L616.3,97.2 L616.9,97.2 L617.5,97.2 L618.1,97.2 L618.7,97.2 L619.3,97.2 L619.9,97.2 L620.5,97.2 L621.1,97.2 L621.7,97.2 L622.3,97.2 L622.9,97.2 L623.5,97.2 L624.1,97.2 L624.7,97.2 L625.3,97.2 L625.9,97.2 L626.5,97.2 L627.1,97.2 L627.7,97.2 L628.3,97.2 L628.9,97.2 L629.5,97.2 L630.1,97.2 L630.7,97.2 L631.3,97.2 L631.9,97.2 L632.5,97.2 L633.1,99.7 L633.7,102.2 L634.3,104.7 L634.9,107.2 L635.5,108.0 L636.1,108.6 L636.7,109.1 L637.3,109.7 L637.9,110.2 L638.5,110.7 L639.1,110.9 L639.7,110.4 L640.3,109.9 L640.9,109.4 L641.5,108.9 L642.1,108.4 L642.7,107.9 L643.3,107.4 L643.9,107.3 L644.5,108.0 L645.1,108.6 L645.7,109.2 L646.3,109.9 L646.9,109.9 L647.5,109.7 L648.1,109.4 L648.7,109.1 L649.3,108.9 L649.9,108.6 L650.5,108.9 L651.1,109.2 L651.7,109.4 L652.3,109.7 L652.9,109.6 L653.5,109.4 L654.1,109.1 L654.7,108.9 L655.3,108.6 L655.9,108.8 L656.5,109.1 L657.1,109.4 L657.7,109.7 L658.3,110.0 L658.9,109.6 L659.5,109.0 L660.1,108.3 L660.7,107.6 L661.3,106.9 L661.9,106.2 L662.5,106.8 L663.1,107.6 L663.7,108.4 L664.3,109.2 L664.9,110.0 L665.5,110.4 L666.1,110.8 L666.7,111.2 L667.3,111.6 L667.9,112.0 L668.5,112.3 L669.1,112.6 L669.7,112.9 L670.3,113.1 L670.9,113.4" fill="none" stroke="#e28484" stroke-width="0.6"/>
<line x1="601.90" y1="113.60" x2="678.10" y2="113.60" stroke="#f1b1b1" stroke-width="0.6"/>
<path d="M601.9,130.2 L601.9,130.2 L602.5,130.2 L603.1,130.2 L603.7,130.2 L604.3,130.2 L604.9,130.2 L605.5,130.2 L606.1,130.2 L606.7,130.2 L607.3,130.2 L607.9,130.2 L608.5,130.2 L609.1,130.2 L609.7,130.2 L610.3,130.2 L610.9,130.2 L611.5,128.2 L612.1,125.1 L612.7,122.1 L613.3,119.1 L613.9,116.0 L614.5,114.0 L615.1,114.0 L615.7,114.0 L616.3,114.0 L616.9,114.0 L617.5,114.0 L618.1,114.0 L618.7,114.0 L619.3,114.0 L619.9,114.0 L620.5,114.0 L621.1,114.0 L621.7,114.0 L622.3,114.0 L622.9,114.0 L623.5,114.0 L624.1,114.0 L624.7,114.0 L625.3,114.0 L625.9,114.0 L626.5,114.0 L627.1,114.0 L627.7,114.0 L628.3,114.0 L628.9,114.0 L629.5,114.4 L630.1,116.7 L630.7,119.0 L631.3,120.6 L631.9,121.3 L632.5,122.0 L633.1,122.7 L633.7,123.4 L634.3,124.1 L634.9,124.8 L635.5,125.5 L636.1,126.2 L636.7,126.8 L637.3,127.1 L637.9,127.4 L638.5,127.7 L639.1,128.0 L639.7,128.3 L640.3,128.3 L640.9,128.1 L641.5,127.8 L642.1,127.6 L642.7,127.4 L643.3,127.1 L643.9,126.9 L644.5,126.7 L645.1,127.0 L645.7,127.2 L646.3,127.5 L646.9,127.7 L647.5,128.0 L648.1,128.2 L648.7,128.2 L649.3,128.2 L649.9,128.2 L650.5,128.2 L651.1,128.2 L651.7,128.2 L652.3,128.2 L652.9,128.2 L653.5,128.2 L654.1,128.2 L654.7,128.2 L655.3,128.1 L655.9,127.9 L656.5,127.8 L657.1,127.6 L657.7,127.4 L658.3,127.3 L658.9,127.1 L659.5,126.9 L660.1,126.8 L660.7,127.0 L661.3,127.4 L661.9,127.9 L662.5,128.3 L663.1,128.7 L663.7,129.0 L664.3,129.2 L664.9,129.5 L665.5,129.7 L666.1,130.0 L666.7,130.2 L667.3,130.2 L667.9,130.2 L668.5,130.2 L669.1,130.2 L669.7,130.2 L670.3,130.2 L670.9,130.2 L671.5,130.2 L672.1,130.2 L672.7,130.2 L673.3,130.2 L673.9,130.2 L674.5,130.2 L675.1,130.2 L675.7,130.2 L676.3,130.2 L676.9,130.2 L677.5,130.2 L678.1,130.2 L678.1,130.2 Z" fill="#ef6468"/>
<path d="M611.5,128.2 L612.1,125.1 L612.7,122.1 L613.3,119.1 L613.9,116.0 L614.5,114.0 L615.1,114.0 L615.7,114.0 L616.3,114.0 L616.9,114.0 L617.5,114.0 L618.1,114.0 L618.7,114.0 L619.3,114.0 L619.9,114.0 L620.5,114.0 L621.1,114.0 L621.7,114.0 L622.3,114.0 L622.9,114.0 L623.5,114.0 L624.1,114.0 L624.7,114.0 L625.3,114.0 L625.9,114.0 L626.5,114.0 L627.1,114.0 L627.7,114.0 L628.3,114.0 L628.9,114.0 L629.5,114.4 L630.1,116.7 L630.7,119.0 L631.3,120.6 L631.9,121.3 L632.5,122.0 L633.1,122.7 L633.7,123.4 L634.3,124.1 L634.9,124.8 L635.5,125.5 L636.1,126.2 L636.7,126.8 L637.3,127.1 L637.9,127.4 L638.5,127.7 L639.1,128.0 L639.7,128.3 L640.3,128.3 L640.9,128.1 L641.5,127.8 L642.1,127.6 L642.7,127.4 L643.3,127.1 L643.9,126.9 L644.5,126.7 L645.1,127.0 L645.7,127.2 L646.3,127.5 L646.9,127.7 L647.5,128.0 L648.1,128.2 L648.7,128.2 L649.3,128.2 L649.9,128.2 L650.5,128.2 L651.1,128.2 L651.7,128.2 L652.3,128.2 L652.9,128.2 L653.5,128.2 L654.1,128.2 L654.7,128.2 L655.3,128.1 L655.9,127.9 L656.5,127.8 L657.1,127.6 L657.7,127.4 L658.3,127.3 L658.9,127.1 L659.5,126.9 L660.1,126.8 L660.7,127.0 L661.3,127.4 L661.9,127.9 L662.5,128.3 L663.1,128.7 L663.7,129.0 L664.3,129.2 L664.9,129.5 L665.5,129.7 L666.1,130.0" fill="none" stroke="#e04a50" stroke-width="0.6"/>
<line x1="601.90" y1="130.20" x2="678.10" y2="130.20" stroke="#f28386" stroke-width="0.6"/>
<line x1="639.60" y1="27.60" x2="639.60" y2="130.20" stroke="#333" stroke-width="0.8" stroke-dasharray="1,1"/>
<rect x="601.40" y="27.60" width="77.20" height="102.60" fill="none" stroke="#777" stroke-width="0.9"/>
<text x="601.00" y="26.20" font-size="9.5" text-anchor="start" fill="#1a1a1a">HT29</text>
<text x="678.60" y="26.60" font-size="5.6" text-anchor="end" fill="#1a1a1a" style="stroke-width:0.08px">Mean MFI</text>
<text x="603.00" y="34.80" font-size="5.8" text-anchor="start" fill="#1a1a1a" style="stroke-width:0.08px">Isotype</text>
<text x="597.40" y="39.80" font-size="9.2" text-anchor="end" fill="#1a1a1a">-</text>
<text x="599.60" y="60.70" font-size="9.2" text-anchor="end" fill="#1a1a1a">0</text>
<text x="599.60" y="76.80" font-size="9.2" text-anchor="end" fill="#1a1a1a">5</text>
<text x="599.60" y="93.30" font-size="9.2" text-anchor="end" fill="#1a1a1a">10</text>
<text x="599.60" y="109.60" font-size="9.2" text-anchor="end" fill="#1a1a1a">20</text>
<text x="599.60" y="125.70" font-size="9.2" text-anchor="end" fill="#1a1a1a">40</text>
<line x1="587.50" y1="27.60" x2="587.50" y2="130.20" stroke="#111" stroke-width="1.0"/>
<path d="M587.50,134.20 L585.50,129.20 L589.50,129.20 Z" fill="#111"/>
<text x="583.10" y="79.40" font-size="8.7" text-anchor="middle" fill="#1a1a1a" transform="rotate(-90 583.10 79.40)">TGF&#946; (ng/mL)</text>
<text x="676.80" y="44.10" font-size="6.2" text-anchor="end" fill="#1a1a1a" style="stroke-width:0.08px">62.2</text>
<text x="676.80" y="60.70" font-size="6.2" text-anchor="end" fill="#1a1a1a" style="stroke-width:0.08px">121.0</text>
<text x="676.80" y="77.20" font-size="6.2" text-anchor="end" fill="#1a1a1a" style="stroke-width:0.08px">141.0</text>
<text x="676.80" y="93.10" font-size="6.2" text-anchor="end" fill="#1a1a1a" style="stroke-width:0.08px">161.0</text>
<text x="676.80" y="110.30" font-size="6.2" text-anchor="end" fill="#1a1a1a" style="stroke-width:0.08px">176.0</text>
<text x="676.80" y="126.20" font-size="6.2" text-anchor="end" fill="#1a1a1a" style="stroke-width:0.08px">143.0</text>
<line x1="606.00" y1="130.20" x2="606.00" y2="132.40" stroke="#333" stroke-width="0.7"/>
<line x1="613.43" y1="130.20" x2="613.43" y2="131.50" stroke="#333" stroke-width="0.5"/>
<line x1="617.77" y1="130.20" x2="617.77" y2="131.50" stroke="#333" stroke-width="0.5"/>
<line x1="620.85" y1="130.20" x2="620.85" y2="131.50" stroke="#333" stroke-width="0.5"/>
<line x1="623.24" y1="130.20" x2="623.24" y2="131.50" stroke="#333" stroke-width="0.5"/>
<line x1="625.19" y1="130.20" x2="625.19" y2="131.50" stroke="#333" stroke-width="0.5"/>
<line x1="626.85" y1="130.20" x2="626.85" y2="131.50" stroke="#333" stroke-width="0.5"/>
<line x1="628.28" y1="130.20" x2="628.28" y2="131.50" stroke="#333" stroke-width="0.5"/>
<line x1="629.54" y1="130.20" x2="629.54" y2="131.50" stroke="#333" stroke-width="0.5"/>
<line x1="630.67" y1="130.20" x2="630.67" y2="132.40" stroke="#333" stroke-width="0.7"/>
<line x1="638.09" y1="130.20" x2="638.09" y2="131.50" stroke="#333" stroke-width="0.5"/>
<line x1="642.44" y1="130.20" x2="642.44" y2="131.50" stroke="#333" stroke-width="0.5"/>
<line x1="645.52" y1="130.20" x2="645.52" y2="131.50" stroke="#333" stroke-width="0.5"/>
<line x1="647.91" y1="130.20" x2="647.91" y2="131.50" stroke="#333" stroke-width="0.5"/>
<line x1="649.86" y1="130.20" x2="649.86" y2="131.50" stroke="#333" stroke-width="0.5"/>
<line x1="651.51" y1="130.20" x2="651.51" y2="131.50" stroke="#333" stroke-width="0.5"/>
<line x1="652.94" y1="130.20" x2="652.94" y2="131.50" stroke="#333" stroke-width="0.5"/>
<line x1="654.20" y1="130.20" x2="654.20" y2="131.50" stroke="#333" stroke-width="0.5"/>
<line x1="655.33" y1="130.20" x2="655.33" y2="132.40" stroke="#333" stroke-width="0.7"/>
<line x1="662.76" y1="130.20" x2="662.76" y2="131.50" stroke="#333" stroke-width="0.5"/>
<line x1="667.10" y1="130.20" x2="667.10" y2="131.50" stroke="#333" stroke-width="0.5"/>
<line x1="670.18" y1="130.20" x2="670.18" y2="131.50" stroke="#333" stroke-width="0.5"/>
<line x1="672.57" y1="130.20" x2="672.57" y2="131.50" stroke="#333" stroke-width="0.5"/>
<line x1="674.53" y1="130.20" x2="674.53" y2="131.50" stroke="#333" stroke-width="0.5"/>
<line x1="676.18" y1="130.20" x2="676.18" y2="131.50" stroke="#333" stroke-width="0.5"/>
<line x1="677.61" y1="130.20" x2="677.61" y2="131.50" stroke="#333" stroke-width="0.5"/>
<text x="612.00" y="138.50" font-size="7" text-anchor="middle" fill="#1a1a1a">10<tspan font-size="4.5" dy="-2.6">0</tspan></text>
<text x="644.10" y="138.50" font-size="7" text-anchor="middle" fill="#1a1a1a">10<tspan font-size="4.5" dy="-2.6">3</tspan></text>
<text x="666.70" y="138.50" font-size="7" text-anchor="middle" fill="#1a1a1a">10<tspan font-size="4.5" dy="-2.6">4</tspan></text>
<line x1="601.70" y1="144.30" x2="675.60" y2="144.30" stroke="#111" stroke-width="1.0"/>
<path d="M679.60,144.30 L674.60,142.30 L674.60,146.30 Z" fill="#111"/>
<text x="638.30" y="151.00" font-size="7" text-anchor="middle" fill="#1a1a1a">APC-ENO1</text>
<text x="0.00" y="171.80" font-size="20" text-anchor="start" fill="#000" style="stroke:none">D</text>
<path d="M36.5,210.3 L36.5,210.3 L37.1,210.3 L37.7,210.3 L38.3,210.3 L38.9,210.3 L39.5,210.3 L40.1,210.3 L40.7,210.3 L41.3,210.3 L41.9,210.3 L42.5,210.3 L43.1,210.3 L43.7,210.3 L44.3,210.3 L44.9,210.3 L45.5,209.5 L46.1,205.0 L46.7,200.4 L47.3,195.8 L47.9,194.3 L48.5,194.3 L49.1,194.3 L49.7,194.3 L50.3,194.3 L50.9,194.3 L51.5,194.3 L52.1,194.3 L52.7,194.3 L53.3,194.3 L53.9,194.3 L54.5,194.3 L55.1,194.3 L55.7,194.3 L56.3,194.3 L56.9,194.3 L57.5,194.3 L58.1,194.3 L58.7,194.3 L59.3,194.3 L59.9,196.2 L60.5,198.4 L61.1,200.7 L61.7,202.8 L62.3,204.9 L62.9,207.0 L63.5,207.8 L64.1,208.4 L64.7,209.0 L65.3,209.6 L65.9,209.8 L66.5,209.9 L67.1,210.0 L67.7,210.0 L68.3,210.1 L68.9,210.2 L69.5,210.2 L70.1,210.3 L70.7,210.3 L71.3,210.3 L71.9,210.3 L72.5,210.3 L73.1,210.3 L73.7,210.3 L74.3,210.3 L74.9,210.3 L75.5,210.3 L76.1,210.3 L76.7,210.3 L77.3,210.3 L77.9,210.3 L78.5,210.3 L79.1,210.3 L79.7,210.3 L80.3,210.3 L80.9,210.3 L81.5,210.3 L82.1,210.3 L82.7,210.3 L83.3,210.3 L83.9,210.3 L84.5,210.3 L85.1,210.3 L85.7,210.3 L86.3,210.3 L86.9,210.3 L87.5,210.3 L88.1,210.3 L88.7,210.3 L89.3,210.3 L89.9,210.3 L90.5,210.3 L91.1,210.3 L91.7,210.3 L92.3,210.3 L92.9,210.3 L93.5,210.3 L94.1,210.3 L94.7,210.3 L95.3,210.3 L95.9,210.3 L96.5,210.3 L97.1,210.3 L97.7,210.3 L98.3,210.3 L98.9,210.3 L99.5,210.3 L100.1,210.3 L100.7,210.3 L101.3,210.3 L101.9,210.3 L102.5,210.3 L103.1,210.3 L103.7,210.3 L104.3,210.3 L104.9,210.3 L105.5,210.3 L106.1,210.3 L106.7,210.3 L107.3,210.3 L107.9,210.3 L108.5,210.3 L109.1,210.3 L109.7,210.3 L110.3,210.3 L110.9,210.3 L111.5,210.3 L112.0,210.3 Z" fill="#a4a4a4"/>
<path d="M45.5,209.5 L46.1,205.0 L46.7,200.4 L47.3,195.8 L47.9,194.3 L48.5,194.3 L49.1,194.3 L49.7,194.3 L50.3,194.3 L50.9,194.3 L51.5,194.3 L52.1,194.3 L52.7,194.3 L53.3,194.3 L53.9,194.3 L54.5,194.3 L55.1,194.3 L55.7,194.3 L56.3,194.3 L56.9,194.3 L57.5,194.3 L58.1,194.3 L58.7,194.3 L59.3,194.3 L59.9,196.2 L60.5,198.4 L61.1,200.7 L61.7,202.8 L62.3,204.9 L62.9,207.0 L63.5,207.8 L64.1,208.4 L64.7,209.0 L65.3,209.6 L65.9,209.8 L66.5,209.9 L67.1,210.0 L67.7,210.0 L68.3,210.1" fill="none" stroke="#8a8a8a" stroke-width="0.6"/>
<line x1="36.50" y1="210.30" x2="112.00" y2="210.30" stroke="#b6b6b6" stroke-width="0.6"/>
<path d="M36.5,227.2 L36.5,227.2 L37.1,227.2 L37.7,227.2 L38.3,227.2 L38.9,227.2 L39.5,227.2 L40.1,227.2 L40.7,227.2 L41.3,227.2 L41.9,227.2 L42.5,227.2 L43.1,227.2 L43.7,227.2 L44.3,227.2 L44.9,227.2 L45.5,227.2 L46.1,227.2 L46.7,227.2 L47.3,224.0 L47.9,217.6 L48.5,211.2 L49.1,211.2 L49.7,211.2 L50.3,211.2 L50.9,211.2 L51.5,211.2 L52.1,211.2 L52.7,211.2 L53.3,211.2 L53.9,211.2 L54.5,211.2 L55.1,211.2 L55.7,211.2 L56.3,211.2 L56.9,211.2 L57.5,211.2 L58.1,211.2 L58.7,212.0 L59.3,216.8 L59.9,221.5 L60.5,224.1 L61.1,224.4 L61.7,224.7 L62.3,225.0 L62.9,225.3 L63.5,225.4 L64.1,225.5 L64.7,225.5 L65.3,225.6 L65.9,225.6 L66.5,225.7 L67.1,225.8 L67.7,225.8 L68.3,225.9 L68.9,225.9 L69.5,226.0 L70.1,226.0 L70.7,226.0 L71.3,225.9 L71.9,225.9 L72.5,225.8 L73.1,225.8 L73.7,225.8 L74.3,225.7 L74.9,225.7 L75.5,225.7 L76.1,225.8 L76.7,225.8 L77.3,225.9 L77.9,225.9 L78.5,225.9 L79.1,226.0 L79.7,226.0 L80.3,226.1 L80.9,226.1 L81.5,226.2 L82.1,226.2 L82.7,226.2 L83.3,226.3 L83.9,226.3 L84.5,226.4 L85.1,226.4 L85.7,226.4 L86.3,226.4 L86.9,226.5 L87.5,226.5 L88.1,226.5 L88.7,226.5 L89.3,226.5 L89.9,226.5 L90.5,226.6 L91.1,226.6 L91.7,226.6 L92.3,226.6 L92.9,226.6 L93.5,226.7 L94.1,226.7 L94.7,226.7 L95.3,226.7 L95.9,226.8 L96.5,226.8 L97.1,226.9 L97.7,227.0 L98.3,227.0 L98.9,227.1 L99.5,227.1 L100.1,227.2 L100.7,227.2 L101.3,227.2 L101.9,227.2 L102.5,227.2 L103.1,227.2 L103.7,227.2 L104.3,227.2 L104.9,227.2 L105.5,227.2 L106.1,227.2 L106.7,227.2 L107.3,227.2 L107.9,227.2 L108.5,227.2 L109.1,227.2 L109.7,227.2 L110.3,227.2 L110.9,227.2 L111.5,227.2 L112.0,227.2 Z" fill="#ebebfb"/>
<path d="M47.3,224.0 L47.9,217.6 L48.5,211.2 L49.1,211.2 L49.7,211.2 L50.3,211.2 L50.9,211.2 L51.5,211.2 L52.1,211.2 L52.7,211.2 L53.3,211.2 L53.9,211.2 L54.5,211.2 L55.1,211.2 L55.7,211.2 L56.3,211.2 L56.9,211.2 L57.5,211.2 L58.1,211.2 L58.7,212.0 L59.3,216.8 L59.9,221.5 L60.5,224.1 L61.1,224.4 L61.7,224.7 L62.3,225.0 L62.9,225.3 L63.5,225.4 L64.1,225.5 L64.7,225.5 L65.3,225.6 L65.9,225.6 L66.5,225.7 L67.1,225.8 L67.7,225.8 L68.3,225.9 L68.9,225.9 L69.5,226.0 L70.1,226.0 L70.7,226.0 L71.3,225.9 L71.9,225.9 L72.5,225.8 L73.1,225.8 L73.7,225.8 L74.3,225.7 L74.9,225.7 L75.5,225.7 L76.1,225.8 L76.7,225.8 L77.3,225.9 L77.9,225.9 L78.5,225.9 L79.1,226.0 L79.7,226.0 L80.3,226.1 L80.9,226.1 L81.5,226.2 L82.1,226.2 L82.7,226.2 L83.3,226.3 L83.9,226.3 L84.5,226.4 L85.1,226.4 L85.7,226.4 L86.3,226.4 L86.9,226.5 L87.5,226.5 L88.1,226.5 L88.7,226.5 L89.3,226.5 L89.9,226.5 L90.5,226.6 L91.1,226.6 L91.7,226.6 L92.3,226.6 L92.9,226.6 L93.5,226.7 L94.1,226.7 L94.7,226.7 L95.3,226.7 L95.9,226.8 L96.5,226.8 L97.1,226.9 L97.7,227.0 L98.3,227.0" fill="none" stroke="#d8d8f6" stroke-width="0.6"/>
<line x1="36.50" y1="227.20" x2="112.00" y2="227.20" stroke="#efeffb" stroke-width="0.6"/>
<path d="M36.5,244.3 L36.5,244.3 L37.1,244.3 L37.7,244.3 L38.3,244.3 L38.9,244.3 L39.5,244.3 L40.1,244.3 L40.7,244.3 L41.3,244.3 L41.9,244.3 L42.5,244.3 L43.1,244.3 L43.7,244.3 L44.3,244.3 L44.9,244.3 L45.5,244.3 L46.1,244.3 L46.7,244.3 L47.3,238.1 L47.9,231.9 L48.5,227.8 L49.1,227.8 L49.7,227.8 L50.3,227.8 L50.9,227.8 L51.5,227.8 L52.1,227.8 L52.7,227.8 L53.3,227.8 L53.9,227.8 L54.5,227.8 L55.1,227.8 L55.7,227.8 L56.3,227.8 L56.9,227.8 L57.5,227.8 L58.1,227.8 L58.7,228.3 L59.3,231.4 L59.9,234.6 L60.5,237.7 L61.1,240.4 L61.7,240.8 L62.3,241.3 L62.9,241.7 L63.5,241.7 L64.1,241.5 L64.7,241.3 L65.3,241.1 L65.9,241.0 L66.5,240.8 L67.1,241.1 L67.7,241.5 L68.3,241.8 L68.9,242.2 L69.5,242.5 L70.1,242.8 L70.7,242.7 L71.3,242.7 L71.9,242.6 L72.5,242.6 L73.1,242.5 L73.7,242.5 L74.3,242.4 L74.9,242.4 L75.5,242.3 L76.1,242.3 L76.7,242.1 L77.3,242.0 L77.9,241.8 L78.5,241.7 L79.1,241.5 L79.7,241.4 L80.3,241.4 L80.9,241.5 L81.5,241.7 L82.1,241.8 L82.7,242.0 L83.3,242.1 L83.9,242.3 L84.5,242.3 L85.1,242.3 L85.7,242.3 L86.3,242.3 L86.9,242.4 L87.5,242.5 L88.1,242.6 L88.7,242.7 L89.3,242.8 L89.9,242.9 L90.5,243.0 L91.1,243.1 L91.7,243.2 L92.3,243.4 L92.9,243.5 L93.5,243.6 L94.1,243.7 L94.7,243.8 L95.3,243.9 L95.9,244.0 L96.5,244.1 L97.1,244.2 L97.7,244.3 L98.3,244.3 L98.9,244.3 L99.5,244.3 L100.1,244.3 L100.7,244.3 L101.3,244.3 L101.9,244.3 L102.5,244.3 L103.1,244.3 L103.7,244.3 L104.3,244.3 L104.9,244.3 L105.5,244.3 L106.1,244.3 L106.7,244.3 L107.3,244.3 L107.9,244.3 L108.5,244.3 L109.1,244.3 L109.7,244.3 L110.3,244.3 L110.9,244.3 L111.5,244.3 L112.0,244.3 Z" fill="#d8d8fa"/>
<path d="M47.3,238.1 L47.9,231.9 L48.5,227.8 L49.1,227.8 L49.7,227.8 L50.3,227.8 L50.9,227.8 L51.5,227.8 L52.1,227.8 L52.7,227.8 L53.3,227.8 L53.9,227.8 L54.5,227.8 L55.1,227.8 L55.7,227.8 L56.3,227.8 L56.9,227.8 L57.5,227.8 L58.1,227.8 L58.7,228.3 L59.3,231.4 L59.9,234.6 L60.5,237.7 L61.1,240.4 L61.7,240.8 L62.3,241.3 L62.9,241.7 L63.5,241.7 L64.1,241.5 L64.7,241.3 L65.3,241.1 L65.9,241.0 L66.5,240.8 L67.1,241.1 L67.7,241.5 L68.3,241.8 L68.9,242.2 L69.5,242.5 L70.1,242.8 L70.7,242.7 L71.3,242.7 L71.9,242.6 L72.5,242.6 L73.1,242.5 L73.7,242.5 L74.3,242.4 L74.9,242.4 L75.5,242.3 L76.1,242.3 L76.7,242.1 L77.3,242.0 L77.9,241.8 L78.5,241.7 L79.1,241.5 L79.7,241.4 L80.3,241.4 L80.9,241.5 L81.5,241.7 L82.1,241.8 L82.7,242.0 L83.3,242.1 L83.9,242.3 L84.5,242.3 L85.1,242.3 L85.7,242.3 L86.3,242.3 L86.9,242.4 L87.5,242.5 L88.1,242.6 L88.7,242.7 L89.3,242.8 L89.9,242.9 L90.5,243.0 L91.1,243.1 L91.7,243.2 L92.3,243.4 L92.9,243.5 L93.5,243.6 L94.1,243.7 L94.7,243.8 L95.3,243.9 L95.9,244.0 L96.5,244.1" fill="none" stroke="#c0c0f4" stroke-width="0.6"/>
<line x1="36.50" y1="244.30" x2="112.00" y2="244.30" stroke="#dfdffb" stroke-width="0.6"/>
<path d="M36.5,261.2 L36.5,261.2 L37.1,261.2 L37.7,261.2 L38.3,261.2 L38.9,261.2 L39.5,261.2 L40.1,261.2 L40.7,261.2 L41.3,261.2 L41.9,261.2 L42.5,261.2 L43.1,261.2 L43.7,261.2 L44.3,261.2 L44.9,261.2 L45.5,261.2 L46.1,261.2 L46.7,258.6 L47.3,253.4 L47.9,248.2 L48.5,244.7 L49.1,244.7 L49.7,244.7 L50.3,244.7 L50.9,244.7 L51.5,244.7 L52.1,244.7 L52.7,244.7 L53.3,244.7 L53.9,244.7 L54.5,244.7 L55.1,244.7 L55.7,244.7 L56.3,244.7 L56.9,244.7 L57.5,244.7 L58.1,244.7 L58.7,245.2 L59.3,248.3 L59.9,251.5 L60.5,254.6 L61.1,257.3 L61.7,257.7 L62.3,258.1 L62.9,258.5 L63.5,258.9 L64.1,259.2 L64.7,259.3 L65.3,259.3 L65.9,259.4 L66.5,259.4 L67.1,259.5 L67.7,259.5 L68.3,259.6 L68.9,259.6 L69.5,259.7 L70.1,259.7 L70.7,259.7 L71.3,259.7 L71.9,259.7 L72.5,259.7 L73.1,259.7 L73.7,259.7 L74.3,259.7 L74.9,259.7 L75.5,259.7 L76.1,259.7 L76.7,259.7 L77.3,259.7 L77.9,259.7 L78.5,259.7 L79.1,259.7 L79.7,259.7 L80.3,259.6 L80.9,259.5 L81.5,259.4 L82.1,259.3 L82.7,259.2 L83.3,259.0 L83.9,258.9 L84.5,258.8 L85.1,258.6 L85.7,258.3 L86.3,258.0 L86.9,257.7 L87.5,257.4 L88.1,257.1 L88.7,256.8 L89.3,256.9 L89.9,257.2 L90.5,257.5 L91.1,257.8 L91.7,258.1 L92.3,258.5 L92.9,259.1 L93.5,259.7 L94.1,260.2 L94.7,260.8 L95.3,261.2 L95.9,261.2 L96.5,261.2 L97.1,261.2 L97.7,261.2 L98.3,261.2 L98.9,261.2 L99.5,261.2 L100.1,261.2 L100.7,261.2 L101.3,261.2 L101.9,261.2 L102.5,261.2 L103.1,261.2 L103.7,261.2 L104.3,261.2 L104.9,261.2 L105.5,261.2 L106.1,261.2 L106.7,261.2 L107.3,261.2 L107.9,261.2 L108.5,261.2 L109.1,261.2 L109.7,261.2 L110.3,261.2 L110.9,261.2 L111.5,261.2 L112.0,261.2 Z" fill="#c8c8f8"/>
<path d="M46.7,258.6 L47.3,253.4 L47.9,248.2 L48.5,244.7 L49.1,244.7 L49.7,244.7 L50.3,244.7 L50.9,244.7 L51.5,244.7 L52.1,244.7 L52.7,244.7 L53.3,244.7 L53.9,244.7 L54.5,244.7 L55.1,244.7 L55.7,244.7 L56.3,244.7 L56.9,244.7 L57.5,244.7 L58.1,244.7 L58.7,245.2 L59.3,248.3 L59.9,251.5 L60.5,254.6 L61.1,257.3 L61.7,257.7 L62.3,258.1 L62.9,258.5 L63.5,258.9 L64.1,259.2 L64.7,259.3 L65.3,259.3 L65.9,259.4 L66.5,259.4 L67.1,259.5 L67.7,259.5 L68.3,259.6 L68.9,259.6 L69.5,259.7 L70.1,259.7 L70.7,259.7 L71.3,259.7 L71.9,259.7 L72.5,259.7 L73.1,259.7 L73.7,259.7 L74.3,259.7 L74.9,259.7 L75.5,259.7 L76.1,259.7 L76.7,259.7 L77.3,259.7 L77.9,259.7 L78.5,259.7 L79.1,259.7 L79.7,259.7 L80.3,259.6 L80.9,259.5 L81.5,259.4 L82.1,259.3 L82.7,259.2 L83.3,259.0 L83.9,258.9 L84.5,258.8 L85.1,258.6 L85.7,258.3 L86.3,258.0 L86.9,257.7 L87.5,257.4 L88.1,257.1 L88.7,256.8 L89.3,256.9 L89.9,257.2 L90.5,257.5 L91.1,257.8 L91.7,258.1 L92.3,258.5 L92.9,259.1 L93.5,259.7 L94.1,260.2 L94.7,260.8" fill="none" stroke="#acacf2" stroke-width="0.6"/>
<line x1="36.50" y1="261.20" x2="112.00" y2="261.20" stroke="#d3d3f9" stroke-width="0.6"/>
<path d="M36.5,277.6 L36.5,277.6 L37.1,277.6 L37.7,277.6 L38.3,277.6 L38.9,277.6 L39.5,277.6 L40.1,277.6 L40.7,277.6 L41.3,277.6 L41.9,277.6 L42.5,277.6 L43.1,277.6 L43.7,277.6 L44.3,277.6 L44.9,277.6 L45.5,274.9 L46.1,270.9 L46.7,266.9 L47.3,262.9 L47.9,261.6 L48.5,261.6 L49.1,261.6 L49.7,261.6 L50.3,261.6 L50.9,261.6 L51.5,261.6 L52.1,261.6 L52.7,261.6 L53.3,261.6 L53.9,261.6 L54.5,261.6 L55.1,261.6 L55.7,261.6 L56.3,261.6 L56.9,261.6 L57.5,261.6 L58.1,261.6 L58.7,261.6 L59.3,261.6 L59.9,261.6 L60.5,261.6 L61.1,261.6 L61.7,261.6 L62.3,262.7 L62.9,264.1 L63.5,265.5 L64.1,266.7 L64.7,267.0 L65.3,267.4 L65.9,267.8 L66.5,268.2 L67.1,268.6 L67.7,268.9 L68.3,269.3 L68.9,269.8 L69.5,270.2 L70.1,270.6 L70.7,271.1 L71.3,271.5 L71.9,271.9 L72.5,272.4 L73.1,272.8 L73.7,273.2 L74.3,273.7 L74.9,273.7 L75.5,273.5 L76.1,273.3 L76.7,273.0 L77.3,272.8 L77.9,272.6 L78.5,272.1 L79.1,271.6 L79.7,271.0 L80.3,270.4 L80.9,269.9 L81.5,269.3 L82.1,269.3 L82.7,269.3 L83.3,269.4 L83.9,269.5 L84.5,269.6 L85.1,269.9 L85.7,270.6 L86.3,271.3 L86.9,271.9 L87.5,272.6 L88.1,272.8 L88.7,272.7 L89.3,272.7 L89.9,272.6 L90.5,272.6 L91.1,272.5 L91.7,272.5 L92.3,272.4 L92.9,272.7 L93.5,273.1 L94.1,273.4 L94.7,273.8 L95.3,274.2 L95.9,274.5 L96.5,274.9 L97.1,275.3 L97.7,275.7 L98.3,276.1 L98.9,276.5 L99.5,276.8 L100.1,277.2 L100.7,277.6 L101.3,277.6 L101.9,277.6 L102.5,277.6 L103.1,277.6 L103.7,277.6 L104.3,277.6 L104.9,277.6 L105.5,277.6 L106.1,277.6 L106.7,277.6 L107.3,277.6 L107.9,277.6 L108.5,277.6 L109.1,277.6 L109.7,277.6 L110.3,277.6 L110.9,277.6 L111.5,277.6 L112.0,277.6 Z" fill="#a2a2f2"/>
<path d="M45.5,274.9 L46.1,270.9 L46.7,266.9 L47.3,262.9 L47.9,261.6 L48.5,261.6 L49.1,261.6 L49.7,261.6 L50.3,261.6 L50.9,261.6 L51.5,261.6 L52.1,261.6 L52.7,261.6 L53.3,261.6 L53.9,261.6 L54.5,261.6 L55.1,261.6 L55.7,261.6 L56.3,261.6 L56.9,261.6 L57.5,261.6 L58.1,261.6 L58.7,261.6 L59.3,261.6 L59.9,261.6 L60.5,261.6 L61.1,261.6 L61.7,261.6 L62.3,262.7 L62.9,264.1 L63.5,265.5 L64.1,266.7 L64.7,267.0 L65.3,267.4 L65.9,267.8 L66.5,268.2 L67.1,268.6 L67.7,268.9 L68.3,269.3 L68.9,269.8 L69.5,270.2 L70.1,270.6 L70.7,271.1 L71.3,271.5 L71.9,271.9 L72.5,272.4 L73.1,272.8 L73.7,273.2 L74.3,273.7 L74.9,273.7 L75.5,273.5 L76.1,273.3 L76.7,273.0 L77.3,272.8 L77.9,272.6 L78.5,272.1 L79.1,271.6 L79.7,271.0 L80.3,270.4 L80.9,269.9 L81.5,269.3 L82.1,269.3 L82.7,269.3 L83.3,269.4 L83.9,269.5 L84.5,269.6 L85.1,269.9 L85.7,270.6 L86.3,271.3 L86.9,271.9 L87.5,272.6 L88.1,272.8 L88.7,272.7 L89.3,272.7 L89.9,272.6 L90.5,272.6 L91.1,272.5 L91.7,272.5 L92.3,272.4 L92.9,272.7 L93.5,273.1 L94.1,273.4 L94.7,273.8 L95.3,274.2 L95.9,274.5 L96.5,274.9 L97.1,275.3 L97.7,275.7 L98.3,276.1 L98.9,276.5 L99.5,276.8 L100.1,277.2" fill="none" stroke="#8686ec" stroke-width="0.6"/>
<line x1="36.50" y1="277.60" x2="112.00" y2="277.60" stroke="#b4b4f4" stroke-width="0.6"/>
<path d="M36.5,295.2 L36.5,295.2 L37.1,295.2 L37.7,295.2 L38.3,295.2 L38.9,295.2 L39.5,295.2 L40.1,295.2 L40.7,295.2 L41.3,295.2 L41.9,295.2 L42.5,295.2 L43.1,295.2 L43.7,295.2 L44.3,295.2 L44.9,295.2 L45.5,295.2 L46.1,295.2 L46.7,295.2 L47.3,292.3 L47.9,286.5 L48.5,280.7 L49.1,279.7 L49.7,279.7 L50.3,279.7 L50.9,279.7 L51.5,279.7 L52.1,279.7 L52.7,279.7 L53.3,279.7 L53.9,279.7 L54.5,279.7 L55.1,279.7 L55.7,279.7 L56.3,279.7 L56.9,279.7 L57.5,279.7 L58.1,279.7 L58.7,279.7 L59.3,279.7 L59.9,281.5 L60.5,283.6 L61.1,285.7 L61.7,287.8 L62.3,288.7 L62.9,289.2 L63.5,289.7 L64.1,290.3 L64.7,290.7 L65.3,291.2 L65.9,291.6 L66.5,292.0 L67.1,292.5 L67.7,292.9 L68.3,293.2 L68.9,293.3 L69.5,293.4 L70.1,293.4 L70.7,293.5 L71.3,293.6 L71.9,293.6 L72.5,293.7 L73.1,293.8 L73.7,293.8 L74.3,293.9 L74.9,294.0 L75.5,294.0 L76.1,293.9 L76.7,293.9 L77.3,293.9 L77.9,293.8 L78.5,293.8 L79.1,293.8 L79.7,293.7 L80.3,293.7 L80.9,293.8 L81.5,293.8 L82.1,293.9 L82.7,294.0 L83.3,294.0 L83.9,294.1 L84.5,294.1 L85.1,294.2 L85.7,294.1 L86.3,294.1 L86.9,294.0 L87.5,293.9 L88.1,293.9 L88.7,293.8 L89.3,293.8 L89.9,293.7 L90.5,293.8 L91.1,294.0 L91.7,294.1 L92.3,294.3 L92.9,294.4 L93.5,294.6 L94.1,294.7 L94.7,294.9 L95.3,295.0 L95.9,295.2 L96.5,295.2 L97.1,295.2 L97.7,295.2 L98.3,295.2 L98.9,295.2 L99.5,295.2 L100.1,295.2 L100.7,295.2 L101.3,295.2 L101.9,295.2 L102.5,295.2 L103.1,295.2 L103.7,295.2 L104.3,295.2 L104.9,295.2 L105.5,295.2 L106.1,295.2 L106.7,295.2 L107.3,295.2 L107.9,295.2 L108.5,295.2 L109.1,295.2 L109.7,295.2 L110.3,295.2 L110.9,295.2 L111.5,295.2 L112.0,295.2 Z" fill="#8282f0"/>
<path d="M47.3,292.3 L47.9,286.5 L48.5,280.7 L49.1,279.7 L49.7,279.7 L50.3,279.7 L50.9,279.7 L51.5,279.7 L52.1,279.7 L52.7,279.7 L53.3,279.7 L53.9,279.7 L54.5,279.7 L55.1,279.7 L55.7,279.7 L56.3,279.7 L56.9,279.7 L57.5,279.7 L58.1,279.7 L58.7,279.7 L59.3,279.7 L59.9,281.5 L60.5,283.6 L61.1,285.7 L61.7,287.8 L62.3,288.7 L62.9,289.2 L63.5,289.7 L64.1,290.3 L64.7,290.7 L65.3,291.2 L65.9,291.6 L66.5,292.0 L67.1,292.5 L67.7,292.9 L68.3,293.2 L68.9,293.3 L69.5,293.4 L70.1,293.4 L70.7,293.5 L71.3,293.6 L71.9,293.6 L72.5,293.7 L73.1,293.8 L73.7,293.8 L74.3,293.9 L74.9,294.0 L75.5,294.0 L76.1,293.9 L76.7,293.9 L77.3,293.9 L77.9,293.8 L78.5,293.8 L79.1,293.8 L79.7,293.7 L80.3,293.7 L80.9,293.8 L81.5,293.8 L82.1,293.9 L82.7,294.0 L83.3,294.0 L83.9,294.1 L84.5,294.1 L85.1,294.2 L85.7,294.1 L86.3,294.1 L86.9,294.0 L87.5,293.9 L88.1,293.9 L88.7,293.8 L89.3,293.8 L89.9,293.7 L90.5,293.8 L91.1,294.0 L91.7,294.1 L92.3,294.3 L92.9,294.4 L93.5,294.6 L94.1,294.7 L94.7,294.9 L95.3,295.0" fill="none" stroke="#6262e8" stroke-width="0.6"/>
<line x1="36.50" y1="295.20" x2="112.00" y2="295.20" stroke="#9b9bf3" stroke-width="0.6"/>
<line x1="74.10" y1="192.20" x2="74.10" y2="295.20" stroke="#333" stroke-width="0.8" stroke-dasharray="1,1"/>
<rect x="36.00" y="192.20" width="76.50" height="103.00" fill="none" stroke="#777" stroke-width="0.9"/>
<text x="37.30" y="190.80" font-size="8.5" text-anchor="start" fill="#1a1a1a">HS578T</text>
<text x="112.50" y="191.20" font-size="5.6" text-anchor="end" fill="#1a1a1a" style="stroke-width:0.08px">Mean MFI</text>
<text x="37.80" y="200.00" font-size="5.8" text-anchor="start" fill="#1a1a1a" style="stroke-width:0.08px">Isotype</text>
<text x="31.80" y="203.80" font-size="9.2" text-anchor="end" fill="#1a1a1a">-</text>
<text x="34.00" y="225.30" font-size="9.2" text-anchor="end" fill="#1a1a1a">0</text>
<text x="34.00" y="241.40" font-size="9.2" text-anchor="end" fill="#1a1a1a">5</text>
<text x="34.00" y="257.90" font-size="9.2" text-anchor="end" fill="#1a1a1a">10</text>
<text x="34.00" y="274.30" font-size="9.2" text-anchor="end" fill="#1a1a1a">20</text>
<text x="34.00" y="290.20" font-size="9.2" text-anchor="end" fill="#1a1a1a">40</text>
<line x1="22.20" y1="192.20" x2="22.20" y2="295.20" stroke="#111" stroke-width="1.0"/>
<path d="M22.20,299.20 L20.20,294.20 L24.20,294.20 Z" fill="#111"/>
<text x="17.60" y="245.30" font-size="8.7" text-anchor="middle" fill="#1a1a1a" transform="rotate(-90 17.60 245.30)">TGF&#946; (ng/mL)</text>
<text x="110.70" y="208.20" font-size="6.2" text-anchor="end" fill="#1a1a1a" style="stroke-width:0.08px">21.2</text>
<text x="110.70" y="224.70" font-size="6.2" text-anchor="end" fill="#1a1a1a" style="stroke-width:0.08px">30.6</text>
<text x="110.70" y="241.70" font-size="6.2" text-anchor="end" fill="#1a1a1a" style="stroke-width:0.08px">33.6</text>
<text x="110.70" y="258.60" font-size="6.2" text-anchor="end" fill="#1a1a1a" style="stroke-width:0.08px">38.3</text>
<text x="110.70" y="275.10" font-size="6.2" text-anchor="end" fill="#1a1a1a" style="stroke-width:0.08px">52.9</text>
<text x="110.70" y="290.10" font-size="6.2" text-anchor="end" fill="#1a1a1a" style="stroke-width:0.08px">37.9</text>
<line x1="36.00" y1="295.20" x2="36.00" y2="297.40" stroke="#333" stroke-width="0.7"/>
<line x1="43.73" y1="295.20" x2="43.73" y2="296.50" stroke="#333" stroke-width="0.5"/>
<line x1="48.25" y1="295.20" x2="48.25" y2="296.50" stroke="#333" stroke-width="0.5"/>
<line x1="51.45" y1="295.20" x2="51.45" y2="296.50" stroke="#333" stroke-width="0.5"/>
<line x1="53.94" y1="295.20" x2="53.94" y2="296.50" stroke="#333" stroke-width="0.5"/>
<line x1="55.97" y1="295.20" x2="55.97" y2="296.50" stroke="#333" stroke-width="0.5"/>
<line x1="57.69" y1="295.20" x2="57.69" y2="296.50" stroke="#333" stroke-width="0.5"/>
<line x1="59.18" y1="295.20" x2="59.18" y2="296.50" stroke="#333" stroke-width="0.5"/>
<line x1="60.49" y1="295.20" x2="60.49" y2="296.50" stroke="#333" stroke-width="0.5"/>
<line x1="61.67" y1="295.20" x2="61.67" y2="297.40" stroke="#333" stroke-width="0.7"/>
<line x1="69.39" y1="295.20" x2="69.39" y2="296.50" stroke="#333" stroke-width="0.5"/>
<line x1="73.91" y1="295.20" x2="73.91" y2="296.50" stroke="#333" stroke-width="0.5"/>
<line x1="77.12" y1="295.20" x2="77.12" y2="296.50" stroke="#333" stroke-width="0.5"/>
<line x1="79.61" y1="295.20" x2="79.61" y2="296.50" stroke="#333" stroke-width="0.5"/>
<line x1="81.64" y1="295.20" x2="81.64" y2="296.50" stroke="#333" stroke-width="0.5"/>
<line x1="83.36" y1="295.20" x2="83.36" y2="296.50" stroke="#333" stroke-width="0.5"/>
<line x1="84.85" y1="295.20" x2="84.85" y2="296.50" stroke="#333" stroke-width="0.5"/>
<line x1="86.16" y1="295.20" x2="86.16" y2="296.50" stroke="#333" stroke-width="0.5"/>
<line x1="87.33" y1="295.20" x2="87.33" y2="297.40" stroke="#333" stroke-width="0.7"/>
<line x1="95.06" y1="295.20" x2="95.06" y2="296.50" stroke="#333" stroke-width="0.5"/>
<line x1="99.58" y1="295.20" x2="99.58" y2="296.50" stroke="#333" stroke-width="0.5"/>
<line x1="102.79" y1="295.20" x2="102.79" y2="296.50" stroke="#333" stroke-width="0.5"/>
<line x1="105.27" y1="295.20" x2="105.27" y2="296.50" stroke="#333" stroke-width="0.5"/>
<line x1="107.31" y1="295.20" x2="107.31" y2="296.50" stroke="#333" stroke-width="0.5"/>
<line x1="109.02" y1="295.20" x2="109.02" y2="296.50" stroke="#333" stroke-width="0.5"/>
<line x1="110.51" y1="295.20" x2="110.51" y2="296.50" stroke="#333" stroke-width="0.5"/>
<line x1="111.83" y1="295.20" x2="111.83" y2="296.50" stroke="#333" stroke-width="0.5"/>
<text x="45.50" y="304.20" font-size="7" text-anchor="middle" fill="#1a1a1a">10<tspan font-size="4.5" dy="-2.6">0</tspan></text>
<text x="69.00" y="304.20" font-size="7" text-anchor="middle" fill="#1a1a1a">10<tspan font-size="4.5" dy="-2.6">2</tspan></text>
<text x="95.90" y="304.20" font-size="7" text-anchor="middle" fill="#1a1a1a">10<tspan font-size="4.5" dy="-2.6">3</tspan></text>
<line x1="36.30" y1="307.60" x2="109.50" y2="307.60" stroke="#111" stroke-width="1.0"/>
<path d="M113.50,307.60 L108.50,305.60 L108.50,309.60 Z" fill="#111"/>
<text x="72.50" y="315.40" font-size="7" text-anchor="middle" fill="#1a1a1a">APC-ENO1</text>
<path d="M144.7,210.7 L144.7,210.7 L145.3,210.7 L145.9,210.7 L146.5,210.7 L147.1,210.7 L147.7,210.7 L148.3,210.7 L148.9,210.7 L149.5,210.7 L150.1,210.7 L150.7,210.7 L151.3,210.7 L151.9,210.7 L152.5,210.7 L153.1,210.7 L153.7,210.7 L154.3,210.7 L154.9,210.7 L155.5,210.7 L156.1,210.7 L156.7,210.7 L157.3,210.7 L157.9,210.7 L158.5,210.7 L159.1,210.7 L159.7,210.7 L160.3,210.7 L160.9,210.7 L161.5,210.7 L162.1,210.7 L162.7,210.7 L163.3,210.7 L163.9,210.7 L164.5,210.7 L165.1,210.2 L165.7,206.9 L166.3,203.7 L166.9,200.4 L167.5,197.4 L168.1,195.3 L168.7,194.9 L169.3,194.9 L169.9,194.9 L170.5,194.9 L171.1,194.9 L171.7,194.9 L172.3,194.9 L172.9,194.9 L173.5,194.9 L174.1,194.9 L174.7,194.9 L175.3,194.9 L175.9,194.9 L176.5,194.9 L177.1,196.0 L177.7,199.1 L178.3,201.9 L178.9,204.2 L179.5,205.9 L180.1,206.6 L180.7,207.3 L181.3,207.9 L181.9,208.6 L182.5,208.9 L183.1,209.1 L183.7,209.3 L184.3,209.5 L184.9,209.7 L185.5,209.9 L186.1,210.1 L186.7,210.3 L187.3,210.5 L187.9,210.7 L188.5,210.7 L189.1,210.7 L189.7,210.7 L190.3,210.7 L190.9,210.7 L191.5,210.7 L192.1,210.7 L192.7,210.7 L193.3,210.7 L193.9,210.7 L194.5,210.7 L195.1,210.7 L195.7,210.7 L196.3,210.7 L196.9,210.7 L197.5,210.7 L198.1,210.7 L198.7,210.7 L199.3,210.7 L199.9,210.7 L200.5,210.7 L201.1,210.7 L201.7,210.7 L202.3,210.7 L202.9,210.7 L203.5,210.7 L204.1,210.7 L204.7,210.7 L205.3,210.7 L205.9,210.7 L206.5,210.7 L207.1,210.7 L207.7,210.7 L208.3,210.7 L208.9,210.7 L209.5,210.7 L210.1,210.7 L210.7,210.7 L211.3,210.7 L211.9,210.7 L212.5,210.7 L213.1,210.7 L213.7,210.7 L214.3,210.7 L214.9,210.7 L215.5,210.7 L216.1,210.7 L216.7,210.7 L217.3,210.7 L217.9,210.7 L218.5,210.7 L219.1,210.7 L219.7,210.7 L220.3,210.7 L220.9,210.7 L220.9,210.7 Z" fill="#d2d2d2"/>
<path d="M165.1,210.2 L165.7,206.9 L166.3,203.7 L166.9,200.4 L167.5,197.4 L168.1,195.3 L168.7,194.9 L169.3,194.9 L169.9,194.9 L170.5,194.9 L171.1,194.9 L171.7,194.9 L172.3,194.9 L172.9,194.9 L173.5,194.9 L174.1,194.9 L174.7,194.9 L175.3,194.9 L175.9,194.9 L176.5,194.9 L177.1,196.0 L177.7,199.1 L178.3,201.9 L178.9,204.2 L179.5,205.9 L180.1,206.6 L180.7,207.3 L181.3,207.9 L181.9,208.6 L182.5,208.9 L183.1,209.1 L183.7,209.3 L184.3,209.5 L184.9,209.7 L185.5,209.9 L186.1,210.1 L186.7,210.3 L187.3,210.5" fill="none" stroke="#aaa" stroke-width="0.6"/>
<line x1="144.70" y1="210.70" x2="220.90" y2="210.70" stroke="#dbdbdb" stroke-width="0.6"/>
<path d="M144.7,227.7 L144.7,227.7 L145.3,227.7 L145.9,227.7 L146.5,227.7 L147.1,227.7 L147.7,227.7 L148.3,227.7 L148.9,227.7 L149.5,227.7 L150.1,227.7 L150.7,227.7 L151.3,227.7 L151.9,227.7 L152.5,227.7 L153.1,227.7 L153.7,227.7 L154.3,227.7 L154.9,227.7 L155.5,227.7 L156.1,227.7 L156.7,227.7 L157.3,227.7 L157.9,227.7 L158.5,227.7 L159.1,227.7 L159.7,227.7 L160.3,227.7 L160.9,227.7 L161.5,227.7 L162.1,227.7 L162.7,227.7 L163.3,227.7 L163.9,227.7 L164.5,227.7 L165.1,227.7 L165.7,227.7 L166.3,227.7 L166.9,224.3 L167.5,217.4 L168.1,211.7 L168.7,211.7 L169.3,211.7 L169.9,211.7 L170.5,211.7 L171.1,211.7 L171.7,211.7 L172.3,211.7 L172.9,211.7 L173.5,211.7 L174.1,211.7 L174.7,211.7 L175.3,211.7 L175.9,211.7 L176.5,211.7 L177.1,212.8 L177.7,216.0 L178.3,219.3 L178.9,222.5 L179.5,224.8 L180.1,225.0 L180.7,225.1 L181.3,225.3 L181.9,225.5 L182.5,225.7 L183.1,225.9 L183.7,226.1 L184.3,226.2 L184.9,226.2 L185.5,226.2 L186.1,226.2 L186.7,226.2 L187.3,226.2 L187.9,226.2 L188.5,226.2 L189.1,226.2 L189.7,226.2 L190.3,226.1 L190.9,225.8 L191.5,225.5 L192.1,225.2 L192.7,224.9 L193.3,224.6 L193.9,224.3 L194.5,224.6 L195.1,225.1 L195.7,225.6 L196.3,226.1 L196.9,226.6 L197.5,227.0 L198.1,227.5 L198.7,227.7 L199.3,227.7 L199.9,227.7 L200.5,227.7 L201.1,227.7 L201.7,227.7 L202.3,227.7 L202.9,227.7 L203.5,227.7 L204.1,227.7 L204.7,227.7 L205.3,227.7 L205.9,227.7 L206.5,227.7 L207.1,227.7 L207.7,227.7 L208.3,227.7 L208.9,227.7 L209.5,227.7 L210.1,227.7 L210.7,227.7 L211.3,227.7 L211.9,227.7 L212.5,227.7 L213.1,227.7 L213.7,227.7 L214.3,227.7 L214.9,227.7 L215.5,227.7 L216.1,227.7 L216.7,227.7 L217.3,227.7 L217.9,227.7 L218.5,227.7 L219.1,227.7 L219.7,227.7 L220.3,227.7 L220.9,227.7 L220.9,227.7 Z" fill="#ebebfb"/>
<path d="M166.9,224.3 L167.5,217.4 L168.1,211.7 L168.7,211.7 L169.3,211.7 L169.9,211.7 L170.5,211.7 L171.1,211.7 L171.7,211.7 L172.3,211.7 L172.9,211.7 L173.5,211.7 L174.1,211.7 L174.7,211.7 L175.3,211.7 L175.9,211.7 L176.5,211.7 L177.1,212.8 L177.7,216.0 L178.3,219.3 L178.9,222.5 L179.5,224.8 L180.1,225.0 L180.7,225.1 L181.3,225.3 L181.9,225.5 L182.5,225.7 L183.1,225.9 L183.7,226.1 L184.3,226.2 L184.9,226.2 L185.5,226.2 L186.1,226.2 L186.7,226.2 L187.3,226.2 L187.9,226.2 L188.5,226.2 L189.1,226.2 L189.7,226.2 L190.3,226.1 L190.9,225.8 L191.5,225.5 L192.1,225.2 L192.7,224.9 L193.3,224.6 L193.9,224.3 L194.5,224.6 L195.1,225.1 L195.7,225.6 L196.3,226.1 L196.9,226.6 L197.5,227.0 L198.1,227.5" fill="none" stroke="#d8d8f6" stroke-width="0.6"/>
<line x1="144.70" y1="227.70" x2="220.90" y2="227.70" stroke="#efeffb" stroke-width="0.6"/>
<path d="M144.7,244.9 L144.7,244.9 L145.3,244.9 L145.9,244.9 L146.5,244.9 L147.1,244.9 L147.7,244.9 L148.3,244.9 L148.9,244.9 L149.5,244.9 L150.1,244.9 L150.7,244.9 L151.3,244.9 L151.9,244.9 L152.5,244.9 L153.1,244.9 L153.7,244.9 L154.3,244.9 L154.9,244.9 L155.5,244.9 L156.1,244.9 L156.7,244.9 L157.3,244.9 L157.9,244.9 L158.5,244.9 L159.1,244.9 L159.7,244.9 L160.3,244.9 L160.9,244.9 L161.5,244.9 L162.1,244.9 L162.7,244.9 L163.3,244.9 L163.9,244.9 L164.5,243.7 L165.1,241.3 L165.7,238.9 L166.3,236.5 L166.9,234.1 L167.5,231.7 L168.1,229.3 L168.7,228.9 L169.3,228.9 L169.9,228.9 L170.5,228.9 L171.1,228.9 L171.7,228.9 L172.3,228.9 L172.9,228.9 L173.5,228.9 L174.1,228.9 L174.7,228.9 L175.3,228.9 L175.9,228.9 L176.5,228.9 L177.1,231.0 L177.7,233.6 L178.3,235.6 L178.9,237.1 L179.5,238.6 L180.1,240.0 L180.7,240.3 L181.3,240.6 L181.9,241.0 L182.5,241.3 L183.1,241.7 L183.7,242.0 L184.3,242.4 L184.9,242.7 L185.5,243.1 L186.1,243.4 L186.7,243.2 L187.3,243.0 L187.9,242.8 L188.5,242.7 L189.1,242.5 L189.7,242.3 L190.3,242.1 L190.9,241.9 L191.5,241.4 L192.1,240.8 L192.7,240.2 L193.3,239.5 L193.9,238.9 L194.5,238.5 L195.1,239.3 L195.7,240.1 L196.3,241.0 L196.9,241.8 L197.5,242.4 L198.1,243.0 L198.7,243.6 L199.3,244.2 L199.9,244.8 L200.5,244.9 L201.1,244.9 L201.7,244.9 L202.3,244.9 L202.9,244.9 L203.5,244.9 L204.1,244.9 L204.7,244.9 L205.3,244.9 L205.9,244.9 L206.5,244.9 L207.1,244.9 L207.7,244.9 L208.3,244.9 L208.9,244.9 L209.5,244.9 L210.1,244.9 L210.7,244.9 L211.3,244.9 L211.9,244.9 L212.5,244.9 L213.1,244.9 L213.7,244.9 L214.3,244.9 L214.9,244.9 L215.5,244.9 L216.1,244.9 L216.7,244.9 L217.3,244.9 L217.9,244.9 L218.5,244.9 L219.1,244.9 L219.7,244.9 L220.3,244.9 L220.9,244.9 L220.9,244.9 Z" fill="#d8d8fa"/>
<path d="M164.5,243.7 L165.1,241.3 L165.7,238.9 L166.3,236.5 L166.9,234.1 L167.5,231.7 L168.1,229.3 L168.7,228.9 L169.3,228.9 L169.9,228.9 L170.5,228.9 L171.1,228.9 L171.7,228.9 L172.3,228.9 L172.9,228.9 L173.5,228.9 L174.1,228.9 L174.7,228.9 L175.3,228.9 L175.9,228.9 L176.5,228.9 L177.1,231.0 L177.7,233.6 L178.3,235.6 L178.9,237.1 L179.5,238.6 L180.1,240.0 L180.7,240.3 L181.3,240.6 L181.9,241.0 L182.5,241.3 L183.1,241.7 L183.7,242.0 L184.3,242.4 L184.9,242.7 L185.5,243.1 L186.1,243.4 L186.7,243.2 L187.3,243.0 L187.9,242.8 L188.5,242.7 L189.1,242.5 L189.7,242.3 L190.3,242.1 L190.9,241.9 L191.5,241.4 L192.1,240.8 L192.7,240.2 L193.3,239.5 L193.9,238.9 L194.5,238.5 L195.1,239.3 L195.7,240.1 L196.3,241.0 L196.9,241.8 L197.5,242.4 L198.1,243.0 L198.7,243.6 L199.3,244.2" fill="none" stroke="#c0c0f4" stroke-width="0.6"/>
<line x1="144.70" y1="244.90" x2="220.90" y2="244.90" stroke="#dfdffb" stroke-width="0.6"/>
<path d="M144.7,262.1 L144.7,262.1 L145.3,262.1 L145.9,262.1 L146.5,262.1 L147.1,262.1 L147.7,262.1 L148.3,262.1 L148.9,262.1 L149.5,262.1 L150.1,262.1 L150.7,262.1 L151.3,262.1 L151.9,262.1 L152.5,262.1 L153.1,262.1 L153.7,262.1 L154.3,262.1 L154.9,262.1 L155.5,262.1 L156.1,262.1 L156.7,262.1 L157.3,262.1 L157.9,262.1 L158.5,262.1 L159.1,262.1 L159.7,262.1 L160.3,262.1 L160.9,262.1 L161.5,262.1 L162.1,262.1 L162.7,262.1 L163.3,262.1 L163.9,262.1 L164.5,260.9 L165.1,258.5 L165.7,256.1 L166.3,253.7 L166.9,251.3 L167.5,248.9 L168.1,246.5 L168.7,246.1 L169.3,246.1 L169.9,246.1 L170.5,246.1 L171.1,246.1 L171.7,246.1 L172.3,246.1 L172.9,246.1 L173.5,246.1 L174.1,246.1 L174.7,246.1 L175.3,246.1 L175.9,246.1 L176.5,246.1 L177.1,247.9 L177.7,250.2 L178.3,252.4 L178.9,253.8 L179.5,254.8 L180.1,255.9 L180.7,256.9 L181.3,257.9 L181.9,258.2 L182.5,258.4 L183.1,258.5 L183.7,258.7 L184.3,258.8 L184.9,259.0 L185.5,259.1 L186.1,259.2 L186.7,259.4 L187.3,259.5 L187.9,259.7 L188.5,259.8 L189.1,260.0 L189.7,260.0 L190.3,259.7 L190.9,259.3 L191.5,259.0 L192.1,258.6 L192.7,258.3 L193.3,257.7 L193.9,256.9 L194.5,256.2 L195.1,255.4 L195.7,254.6 L196.3,255.5 L196.9,256.4 L197.5,257.3 L198.1,258.2 L198.7,259.0 L199.3,259.8 L199.9,260.6 L200.5,261.4 L201.1,262.1 L201.7,262.1 L202.3,262.1 L202.9,262.1 L203.5,262.1 L204.1,262.1 L204.7,262.1 L205.3,262.1 L205.9,262.1 L206.5,262.1 L207.1,262.1 L207.7,262.1 L208.3,262.1 L208.9,262.1 L209.5,262.1 L210.1,262.1 L210.7,262.1 L211.3,262.1 L211.9,262.1 L212.5,262.1 L213.1,262.1 L213.7,262.1 L214.3,262.1 L214.9,262.1 L215.5,262.1 L216.1,262.1 L216.7,262.1 L217.3,262.1 L217.9,262.1 L218.5,262.1 L219.1,262.1 L219.7,262.1 L220.3,262.1 L220.9,262.1 L220.9,262.1 Z" fill="#c8c8f8"/>
<path d="M164.5,260.9 L165.1,258.5 L165.7,256.1 L166.3,253.7 L166.9,251.3 L167.5,248.9 L168.1,246.5 L168.7,246.1 L169.3,246.1 L169.9,246.1 L170.5,246.1 L171.1,246.1 L171.7,246.1 L172.3,246.1 L172.9,246.1 L173.5,246.1 L174.1,246.1 L174.7,246.1 L175.3,246.1 L175.9,246.1 L176.5,246.1 L177.1,247.9 L177.7,250.2 L178.3,252.4 L178.9,253.8 L179.5,254.8 L180.1,255.9 L180.7,256.9 L181.3,257.9 L181.9,258.2 L182.5,258.4 L183.1,258.5 L183.7,258.7 L184.3,258.8 L184.9,259.0 L185.5,259.1 L186.1,259.2 L186.7,259.4 L187.3,259.5 L187.9,259.7 L188.5,259.8 L189.1,260.0 L189.7,260.0 L190.3,259.7 L190.9,259.3 L191.5,259.0 L192.1,258.6 L192.7,258.3 L193.3,257.7 L193.9,256.9 L194.5,256.2 L195.1,255.4 L195.7,254.6 L196.3,255.5 L196.9,256.4 L197.5,257.3 L198.1,258.2 L198.7,259.0 L199.3,259.8 L199.9,260.6 L200.5,261.4" fill="none" stroke="#acacf2" stroke-width="0.6"/>
<line x1="144.70" y1="262.10" x2="220.90" y2="262.10" stroke="#d3d3f9" stroke-width="0.6"/>
<path d="M144.7,279.0 L144.7,279.0 L145.3,279.0 L145.9,279.0 L146.5,279.0 L147.1,279.0 L147.7,279.0 L148.3,279.0 L148.9,279.0 L149.5,279.0 L150.1,279.0 L150.7,279.0 L151.3,279.0 L151.9,279.0 L152.5,279.0 L153.1,279.0 L153.7,279.0 L154.3,279.0 L154.9,279.0 L155.5,279.0 L156.1,279.0 L156.7,279.0 L157.3,279.0 L157.9,279.0 L158.5,279.0 L159.1,279.0 L159.7,279.0 L160.3,279.0 L160.9,279.0 L161.5,279.0 L162.1,279.0 L162.7,279.0 L163.3,279.0 L163.9,279.0 L164.5,277.6 L165.1,274.9 L165.7,272.1 L166.3,269.4 L166.9,266.7 L167.5,263.9 L168.1,263.0 L168.7,263.0 L169.3,263.0 L169.9,263.0 L170.5,263.0 L171.1,263.0 L171.7,263.0 L172.3,263.0 L172.9,263.0 L173.5,263.0 L174.1,263.0 L174.7,263.0 L175.3,263.0 L175.9,263.0 L176.5,263.0 L177.1,265.1 L177.7,267.6 L178.3,270.2 L178.9,271.9 L179.5,273.3 L180.1,274.7 L180.7,276.0 L181.3,276.6 L181.9,276.7 L182.5,276.8 L183.1,276.9 L183.7,277.0 L184.3,277.1 L184.9,277.2 L185.5,277.3 L186.1,277.4 L186.7,277.5 L187.3,277.5 L187.9,277.4 L188.5,277.3 L189.1,277.2 L189.7,277.1 L190.3,276.8 L190.9,276.5 L191.5,276.2 L192.1,275.8 L192.7,275.5 L193.3,275.2 L193.9,275.1 L194.5,275.4 L195.1,275.6 L195.7,275.9 L196.3,276.3 L196.9,276.9 L197.5,277.5 L198.1,278.0 L198.7,278.6 L199.3,279.0 L199.9,279.0 L200.5,279.0 L201.1,279.0 L201.7,279.0 L202.3,279.0 L202.9,279.0 L203.5,279.0 L204.1,279.0 L204.7,279.0 L205.3,279.0 L205.9,279.0 L206.5,279.0 L207.1,279.0 L207.7,279.0 L208.3,279.0 L208.9,279.0 L209.5,279.0 L210.1,279.0 L210.7,279.0 L211.3,279.0 L211.9,279.0 L212.5,279.0 L213.1,279.0 L213.7,279.0 L214.3,279.0 L214.9,279.0 L215.5,279.0 L216.1,279.0 L216.7,279.0 L217.3,279.0 L217.9,279.0 L218.5,279.0 L219.1,279.0 L219.7,279.0 L220.3,279.0 L220.9,279.0 L220.9,279.0 Z" fill="#a2a2f2"/>
<path d="M164.5,277.6 L165.1,274.9 L165.7,272.1 L166.3,269.4 L166.9,266.7 L167.5,263.9 L168.1,263.0 L168.7,263.0 L169.3,263.0 L169.9,263.0 L170.5,263.0 L171.1,263.0 L171.7,263.0 L172.3,263.0 L172.9,263.0 L173.5,263.0 L174.1,263.0 L174.7,263.0 L175.3,263.0 L175.9,263.0 L176.5,263.0 L177.1,265.1 L177.7,267.6 L178.3,270.2 L178.9,271.9 L179.5,273.3 L180.1,274.7 L180.7,276.0 L181.3,276.6 L181.9,276.7 L182.5,276.8 L183.1,276.9 L183.7,277.0 L184.3,277.1 L184.9,277.2 L185.5,277.3 L186.1,277.4 L186.7,277.5 L187.3,277.5 L187.9,277.4 L188.5,277.3 L189.1,277.2 L189.7,277.1 L190.3,276.8 L190.9,276.5 L191.5,276.2 L192.1,275.8 L192.7,275.5 L193.3,275.2 L193.9,275.1 L194.5,275.4 L195.1,275.6 L195.7,275.9 L196.3,276.3 L196.9,276.9 L197.5,277.5 L198.1,278.0 L198.7,278.6" fill="none" stroke="#8686ec" stroke-width="0.6"/>
<line x1="144.70" y1="279.00" x2="220.90" y2="279.00" stroke="#b4b4f4" stroke-width="0.6"/>
<path d="M144.7,295.2 L144.7,295.2 L145.3,295.2 L145.9,295.2 L146.5,295.2 L147.1,295.2 L147.7,295.2 L148.3,295.2 L148.9,295.2 L149.5,295.2 L150.1,295.2 L150.7,295.2 L151.3,295.2 L151.9,295.2 L152.5,295.2 L153.1,295.2 L153.7,295.2 L154.3,295.2 L154.9,295.2 L155.5,295.2 L156.1,295.2 L156.7,295.2 L157.3,295.2 L157.9,295.2 L158.5,295.2 L159.1,295.2 L159.7,295.2 L160.3,295.2 L160.9,295.2 L161.5,295.2 L162.1,295.2 L162.7,295.2 L163.3,295.2 L163.9,293.3 L164.5,290.9 L165.1,288.6 L165.7,286.3 L166.3,284.0 L166.9,281.6 L167.5,279.7 L168.1,279.7 L168.7,279.7 L169.3,279.7 L169.9,279.7 L170.5,279.7 L171.1,279.7 L171.7,279.7 L172.3,279.7 L172.9,279.7 L173.5,279.7 L174.1,279.7 L174.7,279.7 L175.3,279.7 L175.9,279.7 L176.5,279.7 L177.1,279.7 L177.7,279.7 L178.3,282.2 L178.9,284.7 L179.5,287.2 L180.1,288.8 L180.7,290.4 L181.3,291.9 L181.9,292.3 L182.5,292.3 L183.1,292.4 L183.7,292.5 L184.3,292.6 L184.9,292.6 L185.5,292.7 L186.1,292.8 L186.7,292.8 L187.3,292.9 L187.9,293.0 L188.5,293.1 L189.1,293.1 L189.7,293.1 L190.3,292.8 L190.9,292.4 L191.5,291.4 L192.1,289.7 L192.7,288.1 L193.3,286.4 L193.9,284.8 L194.5,283.1 L195.1,281.5 L195.7,283.1 L196.3,285.5 L196.9,287.8 L197.5,290.1 L198.1,292.4 L198.7,293.7 L199.3,294.4 L199.9,295.1 L200.5,295.2 L201.1,295.2 L201.7,295.2 L202.3,295.2 L202.9,295.2 L203.5,295.2 L204.1,295.2 L204.7,295.2 L205.3,295.2 L205.9,295.2 L206.5,295.2 L207.1,295.2 L207.7,295.2 L208.3,295.2 L208.9,295.2 L209.5,295.2 L210.1,295.2 L210.7,295.2 L211.3,295.2 L211.9,295.2 L212.5,295.2 L213.1,295.2 L213.7,295.2 L214.3,295.2 L214.9,295.2 L215.5,295.2 L216.1,295.2 L216.7,295.2 L217.3,295.2 L217.9,295.2 L218.5,295.2 L219.1,295.2 L219.7,295.2 L220.3,295.2 L220.9,295.2 L220.9,295.2 Z" fill="#8282f0"/>
<path d="M163.9,293.3 L164.5,290.9 L165.1,288.6 L165.7,286.3 L166.3,284.0 L166.9,281.6 L167.5,279.7 L168.1,279.7 L168.7,279.7 L169.3,279.7 L169.9,279.7 L170.5,279.7 L171.1,279.7 L171.7,279.7 L172.3,279.7 L172.9,279.7 L173.5,279.7 L174.1,279.7 L174.7,279.7 L175.3,279.7 L175.9,279.7 L176.5,279.7 L177.1,279.7 L177.7,279.7 L178.3,282.2 L178.9,284.7 L179.5,287.2 L180.1,288.8 L180.7,290.4 L181.3,291.9 L181.9,292.3 L182.5,292.3 L183.1,292.4 L183.7,292.5 L184.3,292.6 L184.9,292.6 L185.5,292.7 L186.1,292.8 L186.7,292.8 L187.3,292.9 L187.9,293.0 L188.5,293.1 L189.1,293.1 L189.7,293.1 L190.3,292.8 L190.9,292.4 L191.5,291.4 L192.1,289.7 L192.7,288.1 L193.3,286.4 L193.9,284.8 L194.5,283.1 L195.1,281.5 L195.7,283.1 L196.3,285.5 L196.9,287.8 L197.5,290.1 L198.1,292.4 L198.7,293.7 L199.3,294.4" fill="none" stroke="#6262e8" stroke-width="0.6"/>
<line x1="144.70" y1="295.20" x2="220.90" y2="295.20" stroke="#9b9bf3" stroke-width="0.6"/>
<line x1="182.40" y1="193.00" x2="182.40" y2="295.20" stroke="#333" stroke-width="0.8" stroke-dasharray="1,1"/>
<rect x="144.20" y="193.00" width="77.20" height="102.20" fill="none" stroke="#777" stroke-width="0.9"/>
<text x="144.00" y="191.60" font-size="8.5" text-anchor="start" fill="#1a1a1a">MDA-MB-468</text>
<text x="213.40" y="184.50" font-size="5.6" text-anchor="middle" fill="#1a1a1a" style="stroke-width:0.08px">Mean</text>
<text x="213.40" y="189.80" font-size="5.6" text-anchor="middle" fill="#1a1a1a" style="stroke-width:0.08px">MFI</text>
<text x="145.80" y="200.60" font-size="7.1" text-anchor="start" fill="#1a1a1a">Isotype</text>
<text x="140.20" y="204.10" font-size="9.2" text-anchor="end" fill="#1a1a1a">-</text>
<text x="142.40" y="225.00" font-size="9.2" text-anchor="end" fill="#1a1a1a">0</text>
<text x="142.40" y="241.50" font-size="9.2" text-anchor="end" fill="#1a1a1a">5</text>
<text x="142.40" y="257.40" font-size="9.2" text-anchor="end" fill="#1a1a1a">10</text>
<text x="142.40" y="274.20" font-size="9.2" text-anchor="end" fill="#1a1a1a">20</text>
<text x="142.40" y="290.50" font-size="9.2" text-anchor="end" fill="#1a1a1a">40</text>
<line x1="130.50" y1="193.00" x2="130.50" y2="295.20" stroke="#111" stroke-width="1.0"/>
<path d="M130.50,299.20 L128.50,294.20 L132.50,294.20 Z" fill="#111"/>
<text x="125.00" y="245.30" font-size="8.7" text-anchor="middle" fill="#1a1a1a" transform="rotate(-90 125.00 245.30)">TGF&#946; (ng/mL)</text>
<text x="219.80" y="208.50" font-size="6.2" text-anchor="end" fill="#1a1a1a" style="stroke-width:0.08px">35.7</text>
<text x="219.80" y="225.00" font-size="6.2" text-anchor="end" fill="#1a1a1a" style="stroke-width:0.08px">73.0</text>
<text x="219.80" y="242.20" font-size="6.2" text-anchor="end" fill="#1a1a1a" style="stroke-width:0.08px">101.0</text>
<text x="219.80" y="258.80" font-size="6.2" text-anchor="end" fill="#1a1a1a" style="stroke-width:0.08px">127.0</text>
<text x="219.80" y="274.60" font-size="6.2" text-anchor="end" fill="#1a1a1a" style="stroke-width:0.08px">85.3</text>
<text x="219.80" y="291.20" font-size="6.2" text-anchor="end" fill="#1a1a1a" style="stroke-width:0.08px">153.0</text>
<line x1="151.83" y1="295.20" x2="151.83" y2="296.50" stroke="#333" stroke-width="0.5"/>
<line x1="156.41" y1="295.20" x2="156.41" y2="296.50" stroke="#333" stroke-width="0.5"/>
<line x1="159.65" y1="295.20" x2="159.65" y2="296.50" stroke="#333" stroke-width="0.5"/>
<line x1="162.17" y1="295.20" x2="162.17" y2="296.50" stroke="#333" stroke-width="0.5"/>
<line x1="164.23" y1="295.20" x2="164.23" y2="296.50" stroke="#333" stroke-width="0.5"/>
<line x1="165.97" y1="295.20" x2="165.97" y2="296.50" stroke="#333" stroke-width="0.5"/>
<line x1="167.48" y1="295.20" x2="167.48" y2="296.50" stroke="#333" stroke-width="0.5"/>
<line x1="168.81" y1="295.20" x2="168.81" y2="296.50" stroke="#333" stroke-width="0.5"/>
<line x1="170.00" y1="295.20" x2="170.00" y2="297.40" stroke="#333" stroke-width="0.7"/>
<line x1="177.83" y1="295.20" x2="177.83" y2="296.50" stroke="#333" stroke-width="0.5"/>
<line x1="182.41" y1="295.20" x2="182.41" y2="296.50" stroke="#333" stroke-width="0.5"/>
<line x1="185.65" y1="295.20" x2="185.65" y2="296.50" stroke="#333" stroke-width="0.5"/>
<line x1="188.17" y1="295.20" x2="188.17" y2="296.50" stroke="#333" stroke-width="0.5"/>
<line x1="190.23" y1="295.20" x2="190.23" y2="296.50" stroke="#333" stroke-width="0.5"/>
<line x1="191.97" y1="295.20" x2="191.97" y2="296.50" stroke="#333" stroke-width="0.5"/>
<line x1="193.48" y1="295.20" x2="193.48" y2="296.50" stroke="#333" stroke-width="0.5"/>
<line x1="194.81" y1="295.20" x2="194.81" y2="296.50" stroke="#333" stroke-width="0.5"/>
<line x1="196.00" y1="295.20" x2="196.00" y2="297.40" stroke="#333" stroke-width="0.7"/>
<line x1="203.83" y1="295.20" x2="203.83" y2="296.50" stroke="#333" stroke-width="0.5"/>
<line x1="208.41" y1="295.20" x2="208.41" y2="296.50" stroke="#333" stroke-width="0.5"/>
<line x1="211.65" y1="295.20" x2="211.65" y2="296.50" stroke="#333" stroke-width="0.5"/>
<line x1="214.17" y1="295.20" x2="214.17" y2="296.50" stroke="#333" stroke-width="0.5"/>
<line x1="216.23" y1="295.20" x2="216.23" y2="296.50" stroke="#333" stroke-width="0.5"/>
<line x1="217.97" y1="295.20" x2="217.97" y2="296.50" stroke="#333" stroke-width="0.5"/>
<line x1="219.48" y1="295.20" x2="219.48" y2="296.50" stroke="#333" stroke-width="0.5"/>
<line x1="220.81" y1="295.20" x2="220.81" y2="296.50" stroke="#333" stroke-width="0.5"/>
<text x="153.60" y="304.20" font-size="7" text-anchor="middle" fill="#1a1a1a">10<tspan font-size="4.5" dy="-2.6">0</tspan></text>
<text x="189.20" y="304.20" font-size="7" text-anchor="middle" fill="#1a1a1a">10<tspan font-size="4.5" dy="-2.6">2</tspan></text>
<text x="211.70" y="304.20" font-size="7" text-anchor="middle" fill="#1a1a1a">10<tspan font-size="4.5" dy="-2.6">3</tspan></text>
<line x1="144.40" y1="307.60" x2="218.30" y2="307.60" stroke="#111" stroke-width="1.0"/>
<path d="M222.30,307.60 L217.30,305.60 L217.30,309.60 Z" fill="#111"/>
<text x="180.80" y="315.40" font-size="7" text-anchor="middle" fill="#1a1a1a">APC-ENO1</text>
<text x="235.50" y="171.20" font-size="20" text-anchor="start" fill="#000" style="stroke:none">E</text>
<line x1="271.80" y1="288.90" x2="271.80" y2="188.60" stroke="#222" stroke-width="0.9"/>
<line x1="267.00" y1="288.50" x2="271.80" y2="288.50" stroke="#222" stroke-width="0.9"/>
<line x1="267.00" y1="268.52" x2="271.80" y2="268.52" stroke="#222" stroke-width="0.9"/>
<line x1="267.00" y1="248.54" x2="271.80" y2="248.54" stroke="#222" stroke-width="0.9"/>
<line x1="267.00" y1="228.56" x2="271.80" y2="228.56" stroke="#222" stroke-width="0.9"/>
<line x1="267.00" y1="208.58" x2="271.80" y2="208.58" stroke="#222" stroke-width="0.9"/>
<line x1="267.00" y1="188.60" x2="271.80" y2="188.60" stroke="#222" stroke-width="0.9"/>
<text x="266.00" y="291.45" font-size="8.2" text-anchor="end" fill="#222">0</text>
<text x="266.00" y="251.49" font-size="8.2" text-anchor="end" fill="#222">20</text>
<text x="266.00" y="211.53" font-size="8.2" text-anchor="end" fill="#222">40</text>
<line x1="278.60" y1="238.90" x2="278.60" y2="237.40" stroke="#222" stroke-width="0.8"/>
<line x1="276.60" y1="237.40" x2="280.60" y2="237.40" stroke="#222" stroke-width="0.8"/>
<rect x="275.20" y="238.90" width="6.80" height="49.60" fill="#d6d6d6" stroke="#1a1a1a" stroke-width="0.8"/>
<line x1="289.05" y1="210.90" x2="289.05" y2="209.40" stroke="#222" stroke-width="0.8"/>
<line x1="287.05" y1="209.40" x2="291.05" y2="209.40" stroke="#222" stroke-width="0.8"/>
<rect x="285.65" y="210.90" width="6.80" height="77.60" fill="#ef9f45" stroke="#1a1a1a" stroke-width="0.8"/>
<line x1="299.50" y1="225.20" x2="299.50" y2="223.40" stroke="#222" stroke-width="0.8"/>
<line x1="297.50" y1="223.40" x2="301.50" y2="223.40" stroke="#222" stroke-width="0.8"/>
<rect x="296.10" y="225.20" width="6.80" height="63.30" fill="#5a5af5" stroke="#1a1a1a" stroke-width="0.8"/>
<line x1="309.95" y1="234.90" x2="309.95" y2="233.40" stroke="#222" stroke-width="0.8"/>
<line x1="307.95" y1="233.40" x2="311.95" y2="233.40" stroke="#222" stroke-width="0.8"/>
<rect x="306.55" y="234.90" width="6.80" height="53.60" fill="#8c8cff" stroke="#1a1a1a" stroke-width="0.8"/>
<line x1="320.40" y1="231.20" x2="320.40" y2="230.20" stroke="#222" stroke-width="0.8"/>
<line x1="318.40" y1="230.20" x2="322.40" y2="230.20" stroke="#222" stroke-width="0.8"/>
<rect x="317.00" y="231.20" width="6.80" height="57.30" fill="#c4c4ff" stroke="#1a1a1a" stroke-width="0.8"/>
<line x1="330.85" y1="223.70" x2="330.85" y2="219.70" stroke="#222" stroke-width="0.8"/>
<line x1="328.85" y1="219.70" x2="332.85" y2="219.70" stroke="#222" stroke-width="0.8"/>
<rect x="327.45" y="223.70" width="6.80" height="64.80" fill="#ef7a84" stroke="#1a1a1a" stroke-width="0.8"/>
<line x1="341.30" y1="241.30" x2="341.30" y2="240.30" stroke="#222" stroke-width="0.8"/>
<line x1="339.30" y1="240.30" x2="343.30" y2="240.30" stroke="#222" stroke-width="0.8"/>
<rect x="337.90" y="241.30" width="6.80" height="47.20" fill="#f4a2aa" stroke="#1a1a1a" stroke-width="0.8"/>
<line x1="351.75" y1="228.50" x2="351.75" y2="227.00" stroke="#222" stroke-width="0.8"/>
<line x1="349.75" y1="227.00" x2="353.75" y2="227.00" stroke="#222" stroke-width="0.8"/>
<rect x="348.35" y="228.50" width="6.80" height="60.00" fill="#f5dfe0" stroke="#1a1a1a" stroke-width="0.8"/>
<line x1="271.80" y1="288.50" x2="358.70" y2="288.50" stroke="#222" stroke-width="0.9"/>
<line x1="278.60" y1="288.50" x2="278.60" y2="293.80" stroke="#555" stroke-width="0.9"/>
<line x1="289.05" y1="288.50" x2="289.05" y2="293.80" stroke="#555" stroke-width="0.9"/>
<line x1="299.50" y1="288.50" x2="299.50" y2="293.80" stroke="#555" stroke-width="0.9"/>
<line x1="309.95" y1="288.50" x2="309.95" y2="293.80" stroke="#555" stroke-width="0.9"/>
<line x1="320.40" y1="288.50" x2="320.40" y2="293.80" stroke="#555" stroke-width="0.9"/>
<line x1="330.85" y1="288.50" x2="330.85" y2="293.80" stroke="#555" stroke-width="0.9"/>
<line x1="341.30" y1="288.50" x2="341.30" y2="293.80" stroke="#555" stroke-width="0.9"/>
<line x1="351.75" y1="288.50" x2="351.75" y2="293.80" stroke="#555" stroke-width="0.9"/>
<text x="312.10" y="178.20" font-size="8.5" text-anchor="middle" fill="#1a1a1a">LoVo</text>
<text x="254.20" y="241.50" font-size="8.5" text-anchor="middle" fill="#1a1a1a" transform="rotate(-90 254.20 241.50)">Surface ENO1 (%)</text>
<polyline points="280.40,194.30 280.40,192.30 331.50,192.30 331.50,207.20" stroke="#484848" stroke-width="1.0" fill="none"/>
<text x="303.00" y="195.46" font-size="10.5" text-anchor="middle" fill="#333" letter-spacing="-0.5">*</text>
<polyline points="280.40,200.50 280.40,198.70 300.50,198.70 300.50,214.90" stroke="#484848" stroke-width="1.0" fill="none"/>
<text x="290.00" y="202.16" font-size="10.5" text-anchor="middle" fill="#333" letter-spacing="-0.5">**</text>
<polyline points="280.40,235.50 280.40,204.30 291.05,204.30 291.05,205.60" stroke="#484848" stroke-width="1.0" fill="none"/>
<text x="286.50" y="207.56" font-size="10.5" text-anchor="middle" fill="#333" letter-spacing="-0.5">***</text>
<polyline points="300.50,221.70 300.50,219.10 311.60,219.10 311.60,228.10" stroke="#484848" stroke-width="1.0" fill="none"/>
<text x="306.20" y="222.36" font-size="10.5" text-anchor="middle" fill="#333" letter-spacing="-0.5">*</text>
<polyline points="331.50,214.50 331.50,212.40 342.00,212.40 342.00,236.90" stroke="#484848" stroke-width="1.0" fill="none"/>
<text x="336.60" y="215.26" font-size="10.5" text-anchor="middle" fill="#333" letter-spacing="-0.5">*</text>
<text x="271.60" y="301.70" font-size="7.5" text-anchor="end" fill="#1a1a1a">LPS</text>
<text x="271.60" y="309.40" font-size="7.5" text-anchor="end" fill="#1a1a1a">PRMT5i</text>
<text x="271.60" y="316.10" font-size="7.5" text-anchor="end" fill="#1a1a1a">PRMT6i</text>
<text x="279.70" y="301.62" font-size="9.5" text-anchor="middle" fill="#333" style="stroke:none">-</text>
<text x="290.15" y="302.33" font-size="9.5" text-anchor="middle" fill="#222" style="stroke-width:0.1px">+</text>
<text x="300.60" y="301.62" font-size="9.5" text-anchor="middle" fill="#333" style="stroke:none">-</text>
<text x="311.05" y="301.62" font-size="9.5" text-anchor="middle" fill="#333" style="stroke:none">-</text>
<text x="321.50" y="301.62" font-size="9.5" text-anchor="middle" fill="#333" style="stroke:none">-</text>
<text x="331.95" y="301.62" font-size="9.5" text-anchor="middle" fill="#333" style="stroke:none">-</text>
<text x="342.40" y="301.62" font-size="9.5" text-anchor="middle" fill="#333" style="stroke:none">-</text>
<text x="352.85" y="301.62" font-size="9.5" text-anchor="middle" fill="#333" style="stroke:none">-</text>
<text x="279.70" y="309.32" font-size="9.5" text-anchor="middle" fill="#333" style="stroke:none">-</text>
<text x="290.15" y="309.32" font-size="9.5" text-anchor="middle" fill="#333" style="stroke:none">-</text>
<text x="300.60" y="309.32" font-size="9.5" text-anchor="middle" fill="#333" style="stroke:none">-</text>
<text x="311.05" y="310.03" font-size="9.5" text-anchor="middle" fill="#222" style="stroke-width:0.1px">+</text>
<text x="321.50" y="309.32" font-size="9.5" text-anchor="middle" fill="#333" style="stroke:none">-</text>
<text x="331.95" y="309.32" font-size="9.5" text-anchor="middle" fill="#333" style="stroke:none">-</text>
<text x="342.40" y="310.03" font-size="9.5" text-anchor="middle" fill="#222" style="stroke-width:0.1px">+</text>
<text x="352.85" y="309.32" font-size="9.5" text-anchor="middle" fill="#333" style="stroke:none">-</text>
<text x="279.70" y="316.02" font-size="9.5" text-anchor="middle" fill="#333" style="stroke:none">-</text>
<text x="290.15" y="316.02" font-size="9.5" text-anchor="middle" fill="#333" style="stroke:none">-</text>
<text x="300.60" y="316.02" font-size="9.5" text-anchor="middle" fill="#333" style="stroke:none">-</text>
<text x="311.05" y="316.02" font-size="9.5" text-anchor="middle" fill="#333" style="stroke:none">-</text>
<text x="321.50" y="316.73" font-size="9.5" text-anchor="middle" fill="#222" style="stroke-width:0.1px">+</text>
<text x="331.95" y="316.02" font-size="9.5" text-anchor="middle" fill="#333" style="stroke:none">-</text>
<text x="342.40" y="316.02" font-size="9.5" text-anchor="middle" fill="#333" style="stroke:none">-</text>
<text x="352.85" y="316.73" font-size="9.5" text-anchor="middle" fill="#222" style="stroke-width:0.1px">+</text>
<line x1="297.40" y1="317.40" x2="325.60" y2="317.40" stroke="#222" stroke-width="0.8"/>
<line x1="327.80" y1="317.40" x2="357.60" y2="317.40" stroke="#222" stroke-width="0.8"/>
<text x="313.20" y="324.60" font-size="7" text-anchor="middle" fill="#1a1a1a">H<tspan font-size="4.5" dy="1.5">2</tspan><tspan dy="-1.5">O</tspan><tspan font-size="4.5" dy="1.5">2</tspan></text>
<text x="342.70" y="324.60" font-size="7" text-anchor="middle" fill="#1a1a1a">TGF&#946;1</text>
<text x="370.50" y="170.80" font-size="20" text-anchor="start" fill="#000" style="stroke:none">F</text>
<line x1="412.70" y1="288.70" x2="412.70" y2="189.20" stroke="#222" stroke-width="0.9"/>
<line x1="407.90" y1="288.30" x2="412.70" y2="288.30" stroke="#222" stroke-width="0.9"/>
<line x1="407.90" y1="263.52" x2="412.70" y2="263.52" stroke="#222" stroke-width="0.9"/>
<line x1="407.90" y1="238.75" x2="412.70" y2="238.75" stroke="#222" stroke-width="0.9"/>
<line x1="407.90" y1="213.97" x2="412.70" y2="213.97" stroke="#222" stroke-width="0.9"/>
<line x1="407.90" y1="189.20" x2="412.70" y2="189.20" stroke="#222" stroke-width="0.9"/>
<text x="406.90" y="291.25" font-size="8.2" text-anchor="end" fill="#222">0</text>
<text x="406.90" y="241.70" font-size="8.2" text-anchor="end" fill="#222">4</text>
<text x="406.90" y="192.15" font-size="8.2" text-anchor="end" fill="#222">8</text>
<line x1="421.00" y1="276.60" x2="421.00" y2="276.10" stroke="#222" stroke-width="0.8"/>
<line x1="419.00" y1="276.10" x2="423.00" y2="276.10" stroke="#222" stroke-width="0.8"/>
<rect x="416.70" y="276.60" width="8.60" height="11.70" fill="#d6d6d6" stroke="#1a1a1a" stroke-width="0.8"/>
<line x1="434.60" y1="268.10" x2="434.60" y2="266.10" stroke="#222" stroke-width="0.8"/>
<line x1="432.60" y1="266.10" x2="436.60" y2="266.10" stroke="#222" stroke-width="0.8"/>
<rect x="430.30" y="268.10" width="8.60" height="20.20" fill="#ef9f45" stroke="#1a1a1a" stroke-width="0.8"/>
<line x1="448.20" y1="256.20" x2="448.20" y2="253.70" stroke="#222" stroke-width="0.8"/>
<line x1="446.20" y1="253.70" x2="450.20" y2="253.70" stroke="#222" stroke-width="0.8"/>
<rect x="443.90" y="256.20" width="8.60" height="32.10" fill="#8c8cff" stroke="#1a1a1a" stroke-width="0.8"/>
<line x1="461.80" y1="275.30" x2="461.80" y2="274.30" stroke="#222" stroke-width="0.8"/>
<line x1="459.80" y1="274.30" x2="463.80" y2="274.30" stroke="#222" stroke-width="0.8"/>
<rect x="457.50" y="275.30" width="8.60" height="13.00" fill="#c4c4ff" stroke="#1a1a1a" stroke-width="0.8"/>
<line x1="475.40" y1="210.10" x2="475.40" y2="199.10" stroke="#222" stroke-width="0.8"/>
<line x1="473.40" y1="199.10" x2="477.40" y2="199.10" stroke="#222" stroke-width="0.8"/>
<rect x="471.10" y="210.10" width="8.60" height="78.20" fill="#ef7a84" stroke="#1a1a1a" stroke-width="0.8"/>
<line x1="489.00" y1="269.70" x2="489.00" y2="268.20" stroke="#222" stroke-width="0.8"/>
<line x1="487.00" y1="268.20" x2="491.00" y2="268.20" stroke="#222" stroke-width="0.8"/>
<rect x="484.70" y="269.70" width="8.60" height="18.60" fill="#f5dfe0" stroke="#1a1a1a" stroke-width="0.8"/>
<line x1="412.70" y1="288.30" x2="498.30" y2="288.30" stroke="#222" stroke-width="0.9"/>
<line x1="421.00" y1="288.30" x2="421.00" y2="293.60" stroke="#555" stroke-width="0.9"/>
<line x1="434.60" y1="288.30" x2="434.60" y2="293.60" stroke="#555" stroke-width="0.9"/>
<line x1="448.20" y1="288.30" x2="448.20" y2="293.60" stroke="#555" stroke-width="0.9"/>
<line x1="461.80" y1="288.30" x2="461.80" y2="293.60" stroke="#555" stroke-width="0.9"/>
<line x1="475.40" y1="288.30" x2="475.40" y2="293.60" stroke="#555" stroke-width="0.9"/>
<line x1="489.00" y1="288.30" x2="489.00" y2="293.60" stroke="#555" stroke-width="0.9"/>
<text x="444.50" y="179.60" font-size="8.5" text-anchor="middle" fill="#1a1a1a">HT29</text>
<text x="395.00" y="239.50" font-size="9.6" text-anchor="middle" fill="#1a1a1a" transform="rotate(-90 395.00 239.50)">Surface ENO1 (FC)</text>
<polyline points="422.60,230.80 422.60,193.50 475.40,193.50 475.40,196.50" stroke="#484848" stroke-width="1.0" fill="none"/>
<text x="450.90" y="197.06" font-size="10.5" text-anchor="middle" fill="#333" letter-spacing="-0.5">***</text>
<polyline points="422.60,273.00 422.60,238.20 449.10,238.20 449.10,244.00" stroke="#484848" stroke-width="1.0" fill="none"/>
<text x="438.50" y="241.56" font-size="10.5" text-anchor="middle" fill="#333" letter-spacing="-0.5">**</text>
<polyline points="449.10,251.50 449.10,248.20 462.60,248.20 462.60,274.00" stroke="#484848" stroke-width="1.0" fill="none"/>
<text x="455.60" y="252.16" font-size="10.5" text-anchor="middle" fill="#333" letter-spacing="-0.5">**</text>
<polyline points="475.40,192.00 475.40,189.20 488.50,189.20 488.50,262.60" stroke="#484848" stroke-width="1.0" fill="none"/>
<text x="480.90" y="191.86" font-size="10.5" text-anchor="middle" fill="#333" letter-spacing="-0.5">***</text>
<text x="411.80" y="302.20" font-size="7" text-anchor="end" fill="#1a1a1a">LPS</text>
<text x="411.80" y="310.10" font-size="7" text-anchor="end" fill="#1a1a1a">PRMT5i</text>
<text x="422.40" y="302.22" font-size="9.5" text-anchor="middle" fill="#333" style="stroke:none">-</text>
<text x="436.00" y="302.93" font-size="9.5" text-anchor="middle" fill="#222" style="stroke-width:0.1px">+</text>
<text x="449.60" y="302.22" font-size="9.5" text-anchor="middle" fill="#333" style="stroke:none">-</text>
<text x="463.20" y="302.22" font-size="9.5" text-anchor="middle" fill="#333" style="stroke:none">-</text>
<text x="476.80" y="302.22" font-size="9.5" text-anchor="middle" fill="#333" style="stroke:none">-</text>
<text x="490.40" y="302.22" font-size="9.5" text-anchor="middle" fill="#333" style="stroke:none">-</text>
<text x="422.40" y="310.12" font-size="9.5" text-anchor="middle" fill="#333" style="stroke:none">-</text>
<text x="436.00" y="310.12" font-size="9.5" text-anchor="middle" fill="#333" style="stroke:none">-</text>
<text x="449.60" y="310.12" font-size="9.5" text-anchor="middle" fill="#333" style="stroke:none">-</text>
<text x="463.20" y="310.83" font-size="9.5" text-anchor="middle" fill="#222" style="stroke-width:0.1px">+</text>
<text x="476.80" y="310.12" font-size="9.5" text-anchor="middle" fill="#333" style="stroke:none">-</text>
<text x="490.40" y="310.83" font-size="9.5" text-anchor="middle" fill="#222" style="stroke-width:0.1px">+</text>
<line x1="443.10" y1="312.30" x2="467.80" y2="312.30" stroke="#222" stroke-width="0.8"/>
<line x1="469.60" y1="312.30" x2="494.30" y2="312.30" stroke="#222" stroke-width="0.8"/>
<text x="456.50" y="319.10" font-size="7" text-anchor="middle" fill="#1a1a1a">H<tspan font-size="4.5" dy="1.5">2</tspan><tspan dy="-1.5">O</tspan><tspan font-size="4.5" dy="1.5">2</tspan></text>
<text x="482.00" y="319.10" font-size="7" text-anchor="middle" fill="#1a1a1a">TGF&#946;1</text>
<text x="506.50" y="171.20" font-size="20" text-anchor="start" fill="#000" style="stroke:none">G</text>
<line x1="544.40" y1="288.70" x2="544.40" y2="188.40" stroke="#222" stroke-width="0.9"/>
<line x1="539.60" y1="288.30" x2="544.40" y2="288.30" stroke="#222" stroke-width="0.9"/>
<line x1="539.60" y1="268.32" x2="544.40" y2="268.32" stroke="#222" stroke-width="0.9"/>
<line x1="539.60" y1="248.34" x2="544.40" y2="248.34" stroke="#222" stroke-width="0.9"/>
<line x1="539.60" y1="228.36" x2="544.40" y2="228.36" stroke="#222" stroke-width="0.9"/>
<line x1="539.60" y1="208.38" x2="544.40" y2="208.38" stroke="#222" stroke-width="0.9"/>
<line x1="539.60" y1="188.40" x2="544.40" y2="188.40" stroke="#222" stroke-width="0.9"/>
<text x="538.60" y="291.25" font-size="8.2" text-anchor="end" fill="#222">0</text>
<text x="538.60" y="251.29" font-size="8.2" text-anchor="end" fill="#222">20</text>
<text x="538.60" y="211.33" font-size="8.2" text-anchor="end" fill="#222">40</text>
<line x1="550.00" y1="266.90" x2="550.00" y2="265.90" stroke="#222" stroke-width="0.8"/>
<line x1="548.00" y1="265.90" x2="552.00" y2="265.90" stroke="#222" stroke-width="0.8"/>
<rect x="547.20" y="266.90" width="5.60" height="21.40" fill="#d6d6d6" stroke="#1a1a1a" stroke-width="0.8"/>
<line x1="572.40" y1="217.50" x2="572.40" y2="214.00" stroke="#222" stroke-width="0.8"/>
<line x1="570.40" y1="214.00" x2="574.40" y2="214.00" stroke="#222" stroke-width="0.8"/>
<rect x="569.60" y="217.50" width="5.60" height="70.80" fill="#d6d6d6" stroke="#1a1a1a" stroke-width="0.8"/>
<line x1="594.80" y1="210.30" x2="594.80" y2="206.30" stroke="#222" stroke-width="0.8"/>
<line x1="592.80" y1="206.30" x2="596.80" y2="206.30" stroke="#222" stroke-width="0.8"/>
<rect x="592.00" y="210.30" width="5.60" height="78.00" fill="#d6d6d6" stroke="#1a1a1a" stroke-width="0.8"/>
<line x1="617.30" y1="204.80" x2="617.30" y2="203.80" stroke="#222" stroke-width="0.8"/>
<line x1="615.30" y1="203.80" x2="619.30" y2="203.80" stroke="#222" stroke-width="0.8"/>
<rect x="614.50" y="204.80" width="5.60" height="83.50" fill="#d6d6d6" stroke="#1a1a1a" stroke-width="0.8"/>
<line x1="558.00" y1="261.10" x2="558.00" y2="260.10" stroke="#222" stroke-width="0.8"/>
<line x1="556.00" y1="260.10" x2="560.00" y2="260.10" stroke="#222" stroke-width="0.8"/>
<rect x="555.20" y="261.10" width="5.60" height="27.20" fill="#ef7a84" stroke="#1a1a1a" stroke-width="0.8"/>
<line x1="580.60" y1="234.10" x2="580.60" y2="230.10" stroke="#222" stroke-width="0.8"/>
<line x1="578.60" y1="230.10" x2="582.60" y2="230.10" stroke="#222" stroke-width="0.8"/>
<rect x="577.80" y="234.10" width="5.60" height="54.20" fill="#ef7a84" stroke="#1a1a1a" stroke-width="0.8"/>
<line x1="603.20" y1="243.10" x2="603.20" y2="242.10" stroke="#222" stroke-width="0.8"/>
<line x1="601.20" y1="242.10" x2="605.20" y2="242.10" stroke="#222" stroke-width="0.8"/>
<rect x="600.40" y="243.10" width="5.60" height="45.20" fill="#ef7a84" stroke="#1a1a1a" stroke-width="0.8"/>
<line x1="625.90" y1="232.80" x2="625.90" y2="231.80" stroke="#222" stroke-width="0.8"/>
<line x1="623.90" y1="231.80" x2="627.90" y2="231.80" stroke="#222" stroke-width="0.8"/>
<rect x="623.10" y="232.80" width="5.60" height="55.50" fill="#ef7a84" stroke="#1a1a1a" stroke-width="0.8"/>
<line x1="544.40" y1="288.30" x2="631.60" y2="288.30" stroke="#222" stroke-width="0.9"/>
<line x1="554.00" y1="288.30" x2="554.00" y2="293.60" stroke="#555" stroke-width="0.9"/>
<line x1="576.50" y1="288.30" x2="576.50" y2="293.60" stroke="#555" stroke-width="0.9"/>
<line x1="599.00" y1="288.30" x2="599.00" y2="293.60" stroke="#555" stroke-width="0.9"/>
<line x1="621.60" y1="288.30" x2="621.60" y2="293.60" stroke="#555" stroke-width="0.9"/>
<text x="585.30" y="179.60" font-size="8.5" text-anchor="middle" fill="#1a1a1a">LoVo</text>
<text x="526.60" y="241.00" font-size="8.6" text-anchor="middle" fill="#1a1a1a" transform="rotate(-90 526.60 241.00)">Surface ENO1 (%)</text>
<text x="560.50" y="294.50" font-size="8.7" text-anchor="end" fill="#1a1a1a" transform="rotate(-60 560.50 294.50)">Veh.</text>
<text x="583.00" y="294.50" font-size="8.7" text-anchor="end" fill="#1a1a1a" transform="rotate(-60 583.00 294.50)">LPS</text>
<text x="605.50" y="294.50" font-size="8.7" text-anchor="end" fill="#1a1a1a" transform="rotate(-60 605.50 294.50)">H<tspan font-size="5.5" dy="1.8">2</tspan><tspan dy="-1.8">O</tspan><tspan font-size="5.5" dy="1.8">2</tspan></text>
<text x="628.10" y="294.50" font-size="8.7" text-anchor="end" fill="#1a1a1a" transform="rotate(-60 628.10 294.50)">TGF&#946;1</text>
<polyline points="548.20,263.80 548.20,188.40 617.30,188.40 617.30,195.00" stroke="#484848" stroke-width="1.0" fill="none"/>
<text x="582.00" y="191.46" font-size="10.5" text-anchor="middle" fill="#333" letter-spacing="-0.5">***</text>
<polyline points="548.20,196.30 594.50,196.30 594.50,199.00" stroke="#484848" stroke-width="1.0" fill="none"/>
<text x="574.60" y="200.36" font-size="10.5" text-anchor="middle" fill="#333" letter-spacing="-0.5">***</text>
<polyline points="548.20,203.70 571.60,203.70 571.60,205.60" stroke="#484848" stroke-width="1.0" fill="none"/>
<text x="560.50" y="207.56" font-size="10.5" text-anchor="middle" fill="#333" letter-spacing="-0.5">***</text>
<polyline points="572.10,212.50 572.10,209.50 580.60,209.50 580.60,229.40" stroke="#484848" stroke-width="1.0" fill="none"/>
<text x="577.20" y="213.66" font-size="10.5" text-anchor="middle" fill="#333" letter-spacing="-0.5">*</text>
<polyline points="594.70,206.00 594.70,203.50 603.50,203.50 603.50,242.60" stroke="#484848" stroke-width="1.0" fill="none"/>
<text x="598.90" y="207.96" font-size="10.5" text-anchor="middle" fill="#333" letter-spacing="-0.5">**</text>
<polyline points="617.00,203.80 617.00,201.50 625.40,201.50 625.40,232.00" stroke="#484848" stroke-width="1.0" fill="none"/>
<text x="621.00" y="205.96" font-size="10.5" text-anchor="middle" fill="#333" letter-spacing="-0.5">**</text>
<rect x="638.40" y="191.20" width="9.00" height="4.80" fill="#d6d6d6" stroke="#222" stroke-width="0.7"/>
<rect x="638.40" y="206.20" width="9.00" height="5.00" fill="#ef7a84" stroke="#222" stroke-width="0.7"/>
<text x="648.60" y="196.40" font-size="7.5" text-anchor="start" fill="#1a1a1a">LoVo<tspan font-size="4.3" dy="-2.6">shNC</tspan></text>
<text x="648.60" y="211.40" font-size="7.5" text-anchor="start" fill="#1a1a1a">LoVo<tspan font-size="4.3" dy="-2.6">shPRMT5</tspan></text>
<text x="1.50" y="357.50" font-size="20" text-anchor="start" fill="#000" style="stroke:none">H</text>
<line x1="47.10" y1="479.50" x2="47.10" y2="380.10" stroke="#222" stroke-width="0.9"/>
<line x1="42.30" y1="479.10" x2="47.10" y2="479.10" stroke="#222" stroke-width="0.9"/>
<line x1="42.30" y1="446.10" x2="47.10" y2="446.10" stroke="#222" stroke-width="0.9"/>
<line x1="42.30" y1="413.10" x2="47.10" y2="413.10" stroke="#222" stroke-width="0.9"/>
<line x1="42.30" y1="380.10" x2="47.10" y2="380.10" stroke="#222" stroke-width="0.9"/>
<text x="41.30" y="482.27" font-size="8.8" text-anchor="end" fill="#222">0</text>
<text x="41.30" y="449.27" font-size="8.8" text-anchor="end" fill="#222">2</text>
<text x="41.30" y="416.27" font-size="8.8" text-anchor="end" fill="#222">4</text>
<text x="41.30" y="383.27" font-size="8.8" text-anchor="end" fill="#222">6</text>
<rect x="50.40" y="462.70" width="10.40" height="16.40" fill="#d6d6d6" stroke="#1a1a1a" stroke-width="0.8"/>
<line x1="71.50" y1="443.30" x2="71.50" y2="439.90" stroke="#222" stroke-width="0.8"/>
<line x1="69.50" y1="439.90" x2="73.50" y2="439.90" stroke="#222" stroke-width="0.8"/>
<rect x="66.30" y="443.30" width="10.40" height="35.80" fill="#ef9f45" stroke="#1a1a1a" stroke-width="0.8"/>
<line x1="87.65" y1="399.10" x2="87.65" y2="392.50" stroke="#222" stroke-width="0.8"/>
<line x1="85.65" y1="392.50" x2="89.65" y2="392.50" stroke="#222" stroke-width="0.8"/>
<rect x="82.45" y="399.10" width="10.40" height="80.00" fill="#ef7a84" stroke="#1a1a1a" stroke-width="0.8"/>
<line x1="47.10" y1="479.10" x2="95.30" y2="479.10" stroke="#222" stroke-width="0.9"/>
<line x1="55.60" y1="479.10" x2="55.60" y2="484.40" stroke="#555" stroke-width="0.9"/>
<line x1="71.50" y1="479.10" x2="71.50" y2="484.40" stroke="#555" stroke-width="0.9"/>
<line x1="87.65" y1="479.10" x2="87.65" y2="484.40" stroke="#555" stroke-width="0.9"/>
<text x="68.30" y="370.30" font-size="10" text-anchor="middle" fill="#1a1a1a">LoVo</text>
<text x="32.20" y="432.00" font-size="10" text-anchor="middle" fill="#1a1a1a" transform="rotate(-90 32.20 432.00)">Surface ENO1 (FC)</text>
<polyline points="55.60,425.60 55.60,382.90 87.65,382.90 87.65,388.50" stroke="#484848" stroke-width="1.0" fill="none"/>
<text x="70.20" y="386.56" font-size="10.5" text-anchor="middle" fill="#333" letter-spacing="-0.5">**</text>
<polyline points="55.60,457.40 55.60,429.60 71.50,429.60 71.50,432.20" stroke="#484848" stroke-width="1.0" fill="none"/>
<text x="63.00" y="432.76" font-size="10.5" text-anchor="middle" fill="#333" letter-spacing="-0.5">*</text>
<line x1="132.30" y1="479.50" x2="132.30" y2="380.10" stroke="#222" stroke-width="0.9"/>
<line x1="127.50" y1="479.10" x2="132.30" y2="479.10" stroke="#222" stroke-width="0.9"/>
<line x1="127.50" y1="454.35" x2="132.30" y2="454.35" stroke="#222" stroke-width="0.9"/>
<line x1="127.50" y1="429.60" x2="132.30" y2="429.60" stroke="#222" stroke-width="0.9"/>
<line x1="127.50" y1="404.85" x2="132.30" y2="404.85" stroke="#222" stroke-width="0.9"/>
<line x1="127.50" y1="380.10" x2="132.30" y2="380.10" stroke="#222" stroke-width="0.9"/>
<text x="126.50" y="482.27" font-size="8.8" text-anchor="end" fill="#222">0</text>
<text x="126.50" y="432.77" font-size="8.8" text-anchor="end" fill="#222">1</text>
<text x="126.50" y="383.27" font-size="8.8" text-anchor="end" fill="#222">2</text>
<line x1="142.00" y1="430.10" x2="142.00" y2="428.60" stroke="#222" stroke-width="0.8"/>
<line x1="140.00" y1="428.60" x2="144.00" y2="428.60" stroke="#222" stroke-width="0.8"/>
<rect x="137.20" y="430.10" width="9.60" height="49.00" fill="#d6d6d6" stroke="#1a1a1a" stroke-width="0.8"/>
<line x1="157.00" y1="406.30" x2="157.00" y2="401.30" stroke="#222" stroke-width="0.8"/>
<line x1="155.00" y1="401.30" x2="159.00" y2="401.30" stroke="#222" stroke-width="0.8"/>
<rect x="152.20" y="406.30" width="9.60" height="72.80" fill="#ef9f45" stroke="#1a1a1a" stroke-width="0.8"/>
<line x1="172.15" y1="410.30" x2="172.15" y2="404.30" stroke="#222" stroke-width="0.8"/>
<line x1="170.15" y1="404.30" x2="174.15" y2="404.30" stroke="#222" stroke-width="0.8"/>
<rect x="167.35" y="410.30" width="9.60" height="68.80" fill="#ef7a84" stroke="#1a1a1a" stroke-width="0.8"/>
<line x1="132.30" y1="479.10" x2="178.60" y2="479.10" stroke="#222" stroke-width="0.9"/>
<line x1="142.00" y1="479.10" x2="142.00" y2="484.40" stroke="#555" stroke-width="0.9"/>
<line x1="157.00" y1="479.10" x2="157.00" y2="484.40" stroke="#555" stroke-width="0.9"/>
<line x1="172.15" y1="479.10" x2="172.15" y2="484.40" stroke="#555" stroke-width="0.9"/>
<text x="157.70" y="370.30" font-size="10" text-anchor="middle" fill="#1a1a1a">HT29</text>
<text x="118.20" y="432.00" font-size="10" text-anchor="middle" fill="#1a1a1a" transform="rotate(-90 118.20 432.00)">Surface ENO1 (FC)</text>
<polyline points="141.00,423.00 141.00,392.50 164.30,392.50 164.30,396.50" stroke="#484848" stroke-width="1.0" fill="none"/>
<line x1="151.60" y1="396.50" x2="179.40" y2="396.50" stroke="#484848" stroke-width="1.0"/>
<text x="153.00" y="395.16" font-size="10.5" text-anchor="middle" fill="#333" letter-spacing="-0.5">*</text>
<rect x="193.20" y="381.90" width="12.70" height="5.80" fill="#d6d6d6" stroke="#222" stroke-width="0.7"/>
<text x="207.30" y="387.70" font-size="7.3" text-anchor="start" fill="#1a1a1a">PBS</text>
<rect x="193.20" y="397.80" width="12.70" height="5.80" fill="#ef9f45" stroke="#222" stroke-width="0.7"/>
<text x="207.30" y="403.60" font-size="7.3" text-anchor="start" fill="#1a1a1a">LPS</text>
<rect x="193.20" y="413.20" width="12.70" height="5.80" fill="#ef7a84" stroke="#222" stroke-width="0.7"/>
<text x="207.30" y="419.00" font-size="7.3" text-anchor="start" fill="#1a1a1a">RT</text>
<text x="226.30" y="356.60" font-size="20" text-anchor="start" fill="#000" style="stroke:none">I</text>
<text x="320.30" y="382.30" font-size="7.8" text-anchor="middle" fill="#1a1a1a">RT</text>
<line x1="292.70" y1="383.80" x2="349.60" y2="383.80" stroke="#222" stroke-width="0.8"/>
<text x="275.80" y="391.70" font-size="7.8" text-anchor="end" fill="#1a1a1a">TGF&#946;Ri</text>
<text x="283.50" y="391.52" font-size="9.5" text-anchor="middle" fill="#333" style="stroke:none">-</text>
<text x="298.30" y="391.52" font-size="9.5" text-anchor="middle" fill="#333" style="stroke:none">-</text>
<text x="313.00" y="392.23" font-size="9.5" text-anchor="middle" fill="#222" style="stroke-width:0.1px">+</text>
<text x="328.00" y="391.52" font-size="9.5" text-anchor="middle" fill="#333" style="stroke:none">-</text>
<text x="344.10" y="391.52" font-size="9.5" text-anchor="middle" fill="#333" style="stroke:none">-</text>
<text x="275.80" y="400.00" font-size="7.8" text-anchor="end" fill="#1a1a1a">Smad3i</text>
<text x="283.50" y="399.82" font-size="9.5" text-anchor="middle" fill="#333" style="stroke:none">-</text>
<text x="298.30" y="399.82" font-size="9.5" text-anchor="middle" fill="#333" style="stroke:none">-</text>
<text x="313.00" y="399.82" font-size="9.5" text-anchor="middle" fill="#333" style="stroke:none">-</text>
<text x="328.00" y="400.53" font-size="9.5" text-anchor="middle" fill="#222" style="stroke-width:0.1px">+</text>
<text x="344.10" y="399.82" font-size="9.5" text-anchor="middle" fill="#333" style="stroke:none">-</text>
<text x="275.80" y="409.30" font-size="7.8" text-anchor="end" fill="#1a1a1a">PRMT5i</text>
<text x="283.50" y="409.12" font-size="9.5" text-anchor="middle" fill="#333" style="stroke:none">-</text>
<text x="298.30" y="409.12" font-size="9.5" text-anchor="middle" fill="#333" style="stroke:none">-</text>
<text x="313.00" y="409.12" font-size="9.5" text-anchor="middle" fill="#333" style="stroke:none">-</text>
<text x="328.00" y="409.12" font-size="9.5" text-anchor="middle" fill="#333" style="stroke:none">-</text>
<text x="344.10" y="409.83" font-size="9.5" text-anchor="middle" fill="#222" style="stroke-width:0.1px">+</text>
<rect x="276.20" y="413.30" width="75.60" height="19.70" fill="#f5f5f5"/>
<rect x="278.25" y="422.10" width="9.50" height="4.20" rx="2.10" fill="#7d7d7d" filter="url(#bl10)"/>
<rect x="293.25" y="422.10" width="9.50" height="4.20" rx="2.10" fill="#323232" filter="url(#bl10)"/>
<rect x="308.15" y="422.10" width="9.50" height="4.20" rx="2.10" fill="#8c8c8c" filter="url(#bl10)"/>
<rect x="322.95" y="422.10" width="9.50" height="4.20" rx="2.10" fill="#878787" filter="url(#bl10)"/>
<rect x="339.35" y="422.10" width="9.50" height="4.20" rx="2.10" fill="#5f5f5f" filter="url(#bl10)"/>
<rect x="345.70" y="422.35" width="3.00" height="2.50" rx="1.25" fill="#1e1e1e" filter="url(#bl6)"/>
<rect x="276.70" y="413.80" width="74.60" height="18.70" fill="none" stroke="#8a8a8a" stroke-width="1" rx="0.3"/>
<rect x="276.20" y="434.70" width="75.60" height="19.90" fill="#f5f5f5"/>
<rect x="280.30" y="443.85" width="9.60" height="1.90" rx="0.95" fill="#373737" filter="url(#bl5)"/>
<rect x="294.00" y="443.85" width="9.60" height="1.90" rx="0.95" fill="#414141" filter="url(#bl5)"/>
<rect x="308.70" y="443.85" width="9.60" height="1.90" rx="0.95" fill="#373737" filter="url(#bl5)"/>
<rect x="323.20" y="443.85" width="9.60" height="1.90" rx="0.95" fill="#282828" filter="url(#bl5)"/>
<rect x="337.60" y="443.85" width="9.60" height="1.90" rx="0.95" fill="#414141" filter="url(#bl5)"/>
<rect x="276.70" y="435.20" width="74.60" height="18.90" fill="none" stroke="#8a8a8a" stroke-width="1" rx="0.3"/>
<rect x="276.20" y="456.30" width="75.60" height="20.30" fill="#f2f2f2"/>
<rect x="278.70" y="464.90" width="12.60" height="4.60" rx="2.30" fill="#0f0f0f" filter="url(#bl6)"/>
<rect x="292.70" y="464.90" width="12.60" height="4.60" rx="2.30" fill="#0c0c0c" filter="url(#bl6)"/>
<rect x="307.10" y="464.90" width="12.60" height="4.60" rx="2.30" fill="#0c0c0c" filter="url(#bl6)"/>
<rect x="321.70" y="464.90" width="12.60" height="4.60" rx="2.30" fill="#141414" filter="url(#bl6)"/>
<rect x="337.10" y="464.90" width="12.60" height="4.60" rx="2.30" fill="#0c0c0c" filter="url(#bl6)"/>
<rect x="276.70" y="456.80" width="74.60" height="19.30" fill="none" stroke="#8a8a8a" stroke-width="1" rx="0.3"/>
<text x="275.20" y="427.00" font-size="8.6" text-anchor="end" fill="#1a1a1a">p-Smad2/3</text>
<text x="275.20" y="448.30" font-size="8.6" text-anchor="end" fill="#1a1a1a">ENO1</text>
<text x="275.20" y="471.00" font-size="8.6" text-anchor="end" fill="#1a1a1a">GAPDH</text>
<text x="313.00" y="485.30" font-size="7.8" text-anchor="middle" fill="#1a1a1a">HT29</text>
<path d="M372.5,388.5 L372.5,388.1 L373.1,388.1 L373.7,388.0 L374.3,388.0 L374.9,388.0 L375.5,387.9 L376.1,387.9 L376.7,387.8 L377.3,387.8 L377.9,387.7 L378.5,387.7 L379.1,387.7 L379.7,387.6 L380.3,387.6 L380.9,387.5 L381.5,387.5 L382.1,387.5 L382.7,387.4 L383.3,387.4 L383.9,387.3 L384.5,387.3 L385.1,387.2 L385.7,387.0 L386.3,386.8 L386.9,386.6 L387.5,386.4 L388.1,386.2 L388.7,386.0 L389.3,385.8 L389.9,385.6 L390.5,385.5 L391.1,385.3 L391.7,385.1 L392.3,384.7 L392.9,384.2 L393.5,383.6 L394.1,383.1 L394.7,382.6 L395.3,382.1 L395.9,381.5 L396.5,380.8 L397.1,380.0 L397.7,379.1 L398.3,378.3 L398.9,377.5 L399.5,376.7 L400.1,376.5 L400.7,377.4 L401.3,378.4 L401.9,379.3 L402.5,380.7 L403.1,382.2 L403.7,383.7 L404.3,384.7 L404.9,385.1 L405.5,385.5 L406.1,385.9 L406.7,386.3 L407.3,386.5 L407.9,386.6 L408.5,386.6 L409.1,386.7 L409.7,386.8 L410.3,386.9 L410.9,386.9 L411.5,387.0 L412.1,387.1 L412.7,387.2 L413.3,387.2 L413.9,387.3 L414.5,387.4 L415.1,387.5 L415.7,387.5 L416.3,387.5 L416.9,387.5 L417.5,387.5 L418.1,387.6 L418.7,387.6 L419.3,387.6 L419.9,387.6 L420.5,387.6 L421.1,387.7 L421.7,387.7 L422.3,387.7 L422.9,387.7 L423.5,387.7 L424.1,387.8 L424.7,387.8 L425.3,387.8 L425.9,387.8 L426.5,387.8 L427.1,387.9 L427.7,387.9 L428.3,387.9 L428.9,387.9 L429.5,387.9 L430.1,388.0 L430.7,388.0 L431.3,388.0 L431.9,388.0 L432.5,388.0 L433.1,388.0 L433.7,388.0 L434.3,388.0 L434.9,388.0 L435.5,388.0 L436.1,388.0 L436.7,388.0 L437.3,388.0 L437.9,388.1 L438.5,388.1 L439.1,388.1 L439.7,388.1 L440.3,388.1 L440.9,388.1 L441.5,388.1 L442.1,388.1 L442.7,388.1 L443.3,388.1 L443.9,388.1 L444.5,388.1 L445.1,388.1 L445.7,388.2 L446.3,388.5 L446.5,388.5 Z" fill="#ffffff"/>
<path d="M372.5,388.1 L373.1,388.1 L373.7,388.0 L374.3,388.0 L374.9,388.0 L375.5,387.9 L376.1,387.9 L376.7,387.8 L377.3,387.8 L377.9,387.7 L378.5,387.7 L379.1,387.7 L379.7,387.6 L380.3,387.6 L380.9,387.5 L381.5,387.5 L382.1,387.5 L382.7,387.4 L383.3,387.4 L383.9,387.3 L384.5,387.3 L385.1,387.2 L385.7,387.0 L386.3,386.8 L386.9,386.6 L387.5,386.4 L388.1,386.2 L388.7,386.0 L389.3,385.8 L389.9,385.6 L390.5,385.5 L391.1,385.3 L391.7,385.1 L392.3,384.7 L392.9,384.2 L393.5,383.6 L394.1,383.1 L394.7,382.6 L395.3,382.1 L395.9,381.5 L396.5,380.8 L397.1,380.0 L397.7,379.1 L398.3,378.3 L398.9,377.5 L399.5,376.7 L400.1,376.5 L400.7,377.4 L401.3,378.4 L401.9,379.3 L402.5,380.7 L403.1,382.2 L403.7,383.7 L404.3,384.7 L404.9,385.1 L405.5,385.5 L406.1,385.9 L406.7,386.3 L407.3,386.5 L407.9,386.6 L408.5,386.6 L409.1,386.7 L409.7,386.8 L410.3,386.9 L410.9,386.9 L411.5,387.0 L412.1,387.1 L412.7,387.2 L413.3,387.2 L413.9,387.3 L414.5,387.4 L415.1,387.5 L415.7,387.5 L416.3,387.5 L416.9,387.5 L417.5,387.5 L418.1,387.6 L418.7,387.6 L419.3,387.6 L419.9,387.6 L420.5,387.6 L421.1,387.7 L421.7,387.7 L422.3,387.7 L422.9,387.7 L423.5,387.7 L424.1,387.8 L424.7,387.8 L425.3,387.8 L425.9,387.8 L426.5,387.8 L427.1,387.9 L427.7,387.9 L428.3,387.9 L428.9,387.9 L429.5,387.9 L430.1,388.0 L430.7,388.0 L431.3,388.0 L431.9,388.0 L432.5,388.0 L433.1,388.0 L433.7,388.0 L434.3,388.0 L434.9,388.0 L435.5,388.0 L436.1,388.0 L436.7,388.0 L437.3,388.0 L437.9,388.1 L438.5,388.1 L439.1,388.1 L439.7,388.1 L440.3,388.1 L440.9,388.1 L441.5,388.1 L442.1,388.1 L442.7,388.1 L443.3,388.1 L443.9,388.1 L444.5,388.1 L445.1,388.1 L445.7,388.2" fill="none" stroke="#444" stroke-width="0.6"/>
<line x1="372.50" y1="388.46" x2="446.50" y2="388.46" stroke="#cfcfcf" stroke-width="0.6"/>
<path d="M372.5,405.7 L372.5,404.8 L373.1,404.7 L373.7,404.6 L374.3,404.5 L374.9,404.4 L375.5,404.3 L376.1,404.3 L376.7,404.2 L377.3,404.1 L377.9,404.0 L378.5,403.9 L379.1,403.8 L379.7,403.7 L380.3,403.6 L380.9,403.5 L381.5,403.4 L382.1,403.3 L382.7,403.2 L383.3,403.1 L383.9,403.0 L384.5,402.9 L385.1,402.8 L385.7,402.7 L386.3,402.5 L386.9,402.1 L387.5,401.7 L388.1,401.4 L388.7,401.0 L389.3,400.6 L389.9,400.2 L390.5,399.9 L391.1,399.6 L391.7,399.3 L392.3,399.0 L392.9,398.7 L393.5,398.4 L394.1,398.1 L394.7,397.8 L395.3,397.5 L395.9,397.2 L396.5,396.9 L397.1,396.6 L397.7,396.3 L398.3,395.9 L398.9,395.6 L399.5,395.3 L400.1,395.3 L400.7,396.1 L401.3,396.8 L401.9,397.5 L402.5,398.3 L403.1,399.1 L403.7,399.9 L404.3,400.7 L404.9,401.5 L405.5,401.9 L406.1,402.1 L406.7,402.3 L407.3,402.6 L407.9,402.8 L408.5,403.1 L409.1,403.3 L409.7,403.5 L410.3,403.7 L410.9,403.6 L411.5,403.6 L412.1,403.6 L412.7,403.5 L413.3,403.5 L413.9,403.5 L414.5,403.6 L415.1,403.9 L415.7,404.1 L416.3,404.1 L416.9,404.0 L417.5,403.8 L418.1,403.7 L418.7,403.5 L419.3,403.5 L419.9,403.5 L420.5,403.6 L421.1,403.6 L421.7,403.6 L422.3,403.7 L422.9,403.9 L423.5,404.0 L424.1,404.2 L424.7,404.3 L425.3,404.5 L425.9,404.6 L426.5,404.7 L427.1,404.8 L427.7,404.9 L428.3,404.9 L428.9,405.0 L429.5,405.1 L430.1,405.1 L430.7,405.2 L431.3,405.3 L431.9,405.4 L432.5,405.7 L433.1,405.7 L433.7,405.7 L434.3,405.7 L434.9,405.7 L435.5,405.7 L436.1,405.7 L436.7,405.7 L437.3,405.7 L437.9,405.7 L438.5,405.7 L439.1,405.7 L439.7,405.7 L440.3,405.7 L440.9,405.7 L441.5,405.7 L442.1,405.7 L442.7,405.7 L443.3,405.7 L443.9,405.7 L444.5,405.7 L445.1,405.7 L445.7,405.7 L446.3,405.7 L446.5,405.7 Z" fill="#c6c6c6"/>
<path d="M372.5,404.8 L373.1,404.7 L373.7,404.6 L374.3,404.5 L374.9,404.4 L375.5,404.3 L376.1,404.3 L376.7,404.2 L377.3,404.1 L377.9,404.0 L378.5,403.9 L379.1,403.8 L379.7,403.7 L380.3,403.6 L380.9,403.5 L381.5,403.4 L382.1,403.3 L382.7,403.2 L383.3,403.1 L383.9,403.0 L384.5,402.9 L385.1,402.8 L385.7,402.7 L386.3,402.5 L386.9,402.1 L387.5,401.7 L388.1,401.4 L388.7,401.0 L389.3,400.6 L389.9,400.2 L390.5,399.9 L391.1,399.6 L391.7,399.3 L392.3,399.0 L392.9,398.7 L393.5,398.4 L394.1,398.1 L394.7,397.8 L395.3,397.5 L395.9,397.2 L396.5,396.9 L397.1,396.6 L397.7,396.3 L398.3,395.9 L398.9,395.6 L399.5,395.3 L400.1,395.3 L400.7,396.1 L401.3,396.8 L401.9,397.5 L402.5,398.3 L403.1,399.1 L403.7,399.9 L404.3,400.7 L404.9,401.5 L405.5,401.9 L406.1,402.1 L406.7,402.3 L407.3,402.6 L407.9,402.8 L408.5,403.1 L409.1,403.3 L409.7,403.5 L410.3,403.7 L410.9,403.6 L411.5,403.6 L412.1,403.6 L412.7,403.5 L413.3,403.5 L413.9,403.5 L414.5,403.6 L415.1,403.9 L415.7,404.1 L416.3,404.1 L416.9,404.0 L417.5,403.8 L418.1,403.7 L418.7,403.5 L419.3,403.5 L419.9,403.5 L420.5,403.6 L421.1,403.6 L421.7,403.6 L422.3,403.7 L422.9,403.9 L423.5,404.0 L424.1,404.2 L424.7,404.3 L425.3,404.5 L425.9,404.6 L426.5,404.7 L427.1,404.8 L427.7,404.9 L428.3,404.9 L428.9,405.0 L429.5,405.1 L430.1,405.1 L430.7,405.2 L431.3,405.3 L431.9,405.4" fill="none" stroke="#9a9a9a" stroke-width="0.6"/>
<line x1="372.50" y1="405.67" x2="446.50" y2="405.67" stroke="#cfcfcf" stroke-width="0.6"/>
<path d="M372.5,422.9 L372.5,422.9 L373.1,422.9 L373.7,422.9 L374.3,422.9 L374.9,422.9 L375.5,422.9 L376.1,422.9 L376.7,422.9 L377.3,422.9 L377.9,422.9 L378.5,422.9 L379.1,422.9 L379.7,422.9 L380.3,422.9 L380.9,422.9 L381.5,422.9 L382.1,422.9 L382.7,422.9 L383.3,422.9 L383.9,422.9 L384.5,422.3 L385.1,421.6 L385.7,420.8 L386.3,420.1 L386.9,419.4 L387.5,418.7 L388.1,418.0 L388.7,417.2 L389.3,416.5 L389.9,415.7 L390.5,415.0 L391.1,414.2 L391.7,413.5 L392.3,412.7 L392.9,412.0 L393.5,411.5 L394.1,411.0 L394.7,410.6 L395.3,410.1 L395.9,409.7 L396.5,409.2 L397.1,408.8 L397.7,408.7 L398.3,408.5 L398.9,408.4 L399.5,408.8 L400.1,409.3 L400.7,409.8 L401.3,410.3 L401.9,410.8 L402.5,411.0 L403.1,411.2 L403.7,411.4 L404.3,411.6 L404.9,411.8 L405.5,412.3 L406.1,412.7 L406.7,413.2 L407.3,413.6 L407.9,414.1 L408.5,414.5 L409.1,415.0 L409.7,415.4 L410.3,415.9 L410.9,416.3 L411.5,416.8 L412.1,417.2 L412.7,417.7 L413.3,418.0 L413.9,418.2 L414.5,418.4 L415.1,418.7 L415.7,418.9 L416.3,419.1 L416.9,419.3 L417.5,419.3 L418.1,419.3 L418.7,419.2 L419.3,419.1 L419.9,419.1 L420.5,419.0 L421.1,419.0 L421.7,418.9 L422.3,418.8 L422.9,418.6 L423.5,418.5 L424.1,418.3 L424.7,418.2 L425.3,418.0 L425.9,417.9 L426.5,417.8 L427.1,417.7 L427.7,417.6 L428.3,417.6 L428.9,417.5 L429.5,417.4 L430.1,417.5 L430.7,417.7 L431.3,417.9 L431.9,418.0 L432.5,418.2 L433.1,418.4 L433.7,418.8 L434.3,419.2 L434.9,419.6 L435.5,419.9 L436.1,420.3 L436.7,420.7 L437.3,421.0 L437.9,421.4 L438.5,421.7 L439.1,422.1 L439.7,422.4 L440.3,422.8 L440.9,422.9 L441.5,422.9 L442.1,422.9 L442.7,422.9 L443.3,422.9 L443.9,422.9 L444.5,422.9 L445.1,422.9 L445.7,422.9 L446.3,422.9 L446.5,422.9 Z" fill="#f2c48e"/>
<path d="M384.5,422.3 L385.1,421.6 L385.7,420.8 L386.3,420.1 L386.9,419.4 L387.5,418.7 L388.1,418.0 L388.7,417.2 L389.3,416.5 L389.9,415.7 L390.5,415.0 L391.1,414.2 L391.7,413.5 L392.3,412.7 L392.9,412.0 L393.5,411.5 L394.1,411.0 L394.7,410.6 L395.3,410.1 L395.9,409.7 L396.5,409.2 L397.1,408.8 L397.7,408.7 L398.3,408.5 L398.9,408.4 L399.5,408.8 L400.1,409.3 L400.7,409.8 L401.3,410.3 L401.9,410.8 L402.5,411.0 L403.1,411.2 L403.7,411.4 L404.3,411.6 L404.9,411.8 L405.5,412.3 L406.1,412.7 L406.7,413.2 L407.3,413.6 L407.9,414.1 L408.5,414.5 L409.1,415.0 L409.7,415.4 L410.3,415.9 L410.9,416.3 L411.5,416.8 L412.1,417.2 L412.7,417.7 L413.3,418.0 L413.9,418.2 L414.5,418.4 L415.1,418.7 L415.7,418.9 L416.3,419.1 L416.9,419.3 L417.5,419.3 L418.1,419.3 L418.7,419.2 L419.3,419.1 L419.9,419.1 L420.5,419.0 L421.1,419.0 L421.7,418.9 L422.3,418.8 L422.9,418.6 L423.5,418.5 L424.1,418.3 L424.7,418.2 L425.3,418.0 L425.9,417.9 L426.5,417.8 L427.1,417.7 L427.7,417.6 L428.3,417.6 L428.9,417.5 L429.5,417.4 L430.1,417.5 L430.7,417.7 L431.3,417.9 L431.9,418.0 L432.5,418.2 L433.1,418.4 L433.7,418.8 L434.3,419.2 L434.9,419.6 L435.5,419.9 L436.1,420.3 L436.7,420.7 L437.3,421.0 L437.9,421.4 L438.5,421.7 L439.1,422.1 L439.7,422.4" fill="none" stroke="#dca264" stroke-width="0.6"/>
<line x1="372.50" y1="422.88" x2="446.50" y2="422.88" stroke="#cfcfcf" stroke-width="0.6"/>
<path d="M372.5,440.1 L372.5,440.1 L373.1,440.1 L373.7,440.1 L374.3,440.1 L374.9,440.1 L375.5,440.1 L376.1,440.1 L376.7,440.1 L377.3,440.1 L377.9,440.1 L378.5,440.1 L379.1,440.1 L379.7,440.1 L380.3,440.1 L380.9,440.1 L381.5,440.1 L382.1,440.1 L382.7,440.1 L383.3,440.1 L383.9,440.1 L384.5,440.1 L385.1,440.1 L385.7,440.1 L386.3,439.9 L386.9,439.4 L387.5,439.0 L388.1,438.5 L388.7,438.1 L389.3,437.6 L389.9,437.2 L390.5,436.6 L391.1,436.0 L391.7,435.4 L392.3,434.8 L392.9,434.2 L393.5,433.6 L394.1,433.0 L394.7,432.3 L395.3,431.6 L395.9,430.9 L396.5,430.3 L397.1,429.6 L397.7,428.9 L398.3,428.4 L398.9,428.1 L399.5,427.9 L400.1,427.6 L400.7,427.3 L401.3,427.8 L401.9,428.2 L402.5,428.7 L403.1,429.2 L403.7,429.8 L404.3,430.4 L404.9,431.0 L405.5,431.6 L406.1,432.2 L406.7,432.7 L407.3,433.2 L407.9,433.7 L408.5,434.2 L409.1,434.6 L409.7,434.9 L410.3,435.2 L410.9,435.5 L411.5,435.8 L412.1,436.1 L412.7,436.3 L413.3,436.4 L413.9,436.6 L414.5,436.7 L415.1,436.9 L415.7,437.0 L416.3,437.1 L416.9,437.0 L417.5,436.9 L418.1,436.9 L418.7,436.8 L419.3,436.8 L419.9,436.7 L420.5,436.6 L421.1,436.6 L421.7,436.4 L422.3,436.3 L422.9,436.1 L423.5,436.0 L424.1,435.8 L424.7,435.7 L425.3,435.5 L425.9,435.5 L426.5,435.4 L427.1,435.3 L427.7,435.2 L428.3,435.2 L428.9,435.1 L429.5,435.3 L430.1,435.5 L430.7,435.7 L431.3,435.9 L431.9,436.1 L432.5,436.5 L433.1,437.0 L433.7,437.4 L434.3,437.9 L434.9,438.4 L435.5,438.9 L436.1,439.4 L436.7,439.8 L437.3,440.1 L437.9,440.1 L438.5,440.1 L439.1,440.1 L439.7,440.1 L440.3,440.1 L440.9,440.1 L441.5,440.1 L442.1,440.1 L442.7,440.1 L443.3,440.1 L443.9,440.1 L444.5,440.1 L445.1,440.1 L445.7,440.1 L446.3,440.1 L446.5,440.1 Z" fill="#a6a6f8"/>
<path d="M386.3,439.9 L386.9,439.4 L387.5,439.0 L388.1,438.5 L388.7,438.1 L389.3,437.6 L389.9,437.2 L390.5,436.6 L391.1,436.0 L391.7,435.4 L392.3,434.8 L392.9,434.2 L393.5,433.6 L394.1,433.0 L394.7,432.3 L395.3,431.6 L395.9,430.9 L396.5,430.3 L397.1,429.6 L397.7,428.9 L398.3,428.4 L398.9,428.1 L399.5,427.9 L400.1,427.6 L400.7,427.3 L401.3,427.8 L401.9,428.2 L402.5,428.7 L403.1,429.2 L403.7,429.8 L404.3,430.4 L404.9,431.0 L405.5,431.6 L406.1,432.2 L406.7,432.7 L407.3,433.2 L407.9,433.7 L408.5,434.2 L409.1,434.6 L409.7,434.9 L410.3,435.2 L410.9,435.5 L411.5,435.8 L412.1,436.1 L412.7,436.3 L413.3,436.4 L413.9,436.6 L414.5,436.7 L415.1,436.9 L415.7,437.0 L416.3,437.1 L416.9,437.0 L417.5,436.9 L418.1,436.9 L418.7,436.8 L419.3,436.8 L419.9,436.7 L420.5,436.6 L421.1,436.6 L421.7,436.4 L422.3,436.3 L422.9,436.1 L423.5,436.0 L424.1,435.8 L424.7,435.7 L425.3,435.5 L425.9,435.5 L426.5,435.4 L427.1,435.3 L427.7,435.2 L428.3,435.2 L428.9,435.1 L429.5,435.3 L430.1,435.5 L430.7,435.7 L431.3,435.9 L431.9,436.1 L432.5,436.5 L433.1,437.0 L433.7,437.4 L434.3,437.9 L434.9,438.4 L435.5,438.9 L436.1,439.4 L436.7,439.8" fill="none" stroke="#8080ee" stroke-width="0.6"/>
<line x1="372.50" y1="440.08" x2="446.50" y2="440.08" stroke="#cfcfcf" stroke-width="0.6"/>
<path d="M372.5,457.3 L372.5,456.7 L373.1,456.7 L373.7,456.6 L374.3,456.6 L374.9,456.5 L375.5,456.4 L376.1,456.4 L376.7,456.3 L377.3,456.3 L377.9,456.2 L378.5,456.1 L379.1,456.1 L379.7,456.0 L380.3,456.0 L380.9,455.9 L381.5,455.8 L382.1,455.8 L382.7,455.6 L383.3,455.4 L383.9,455.2 L384.5,455.0 L385.1,454.8 L385.7,454.6 L386.3,454.4 L386.9,454.3 L387.5,454.1 L388.1,453.9 L388.7,453.7 L389.3,453.5 L389.9,453.3 L390.5,452.9 L391.1,452.4 L391.7,451.9 L392.3,451.5 L392.9,451.0 L393.5,450.5 L394.1,450.0 L394.7,449.5 L395.3,448.9 L395.9,448.1 L396.5,447.3 L397.1,446.5 L397.7,445.7 L398.3,445.1 L398.9,444.8 L399.5,444.4 L400.1,444.0 L400.7,443.7 L401.3,444.1 L401.9,444.5 L402.5,444.9 L403.1,445.4 L403.7,446.2 L404.3,447.0 L404.9,447.8 L405.5,448.6 L406.1,449.3 L406.7,449.6 L407.3,449.9 L407.9,450.2 L408.5,450.5 L409.1,450.8 L409.7,451.1 L410.3,451.4 L410.9,451.5 L411.5,451.6 L412.1,451.7 L412.7,451.8 L413.3,452.0 L413.9,452.1 L414.5,452.2 L415.1,452.3 L415.7,452.5 L416.3,452.7 L416.9,452.9 L417.5,453.0 L418.1,453.2 L418.7,453.4 L419.3,453.6 L419.9,453.8 L420.5,453.8 L421.1,453.8 L421.7,453.8 L422.3,453.8 L422.9,453.8 L423.5,453.8 L424.1,453.8 L424.7,453.7 L425.3,453.7 L425.9,453.6 L426.5,453.5 L427.1,453.5 L427.7,453.6 L428.3,453.7 L428.9,453.8 L429.5,453.9 L430.1,454.0 L430.7,454.1 L431.3,454.2 L431.9,454.3 L432.5,454.5 L433.1,454.7 L433.7,454.9 L434.3,455.2 L434.9,455.4 L435.5,455.6 L436.1,455.8 L436.7,456.1 L437.3,456.3 L437.9,456.5 L438.5,456.7 L439.1,457.0 L439.7,457.2 L440.3,457.3 L440.9,457.3 L441.5,457.3 L442.1,457.3 L442.7,457.3 L443.3,457.3 L443.9,457.3 L444.5,457.3 L445.1,457.3 L445.7,457.3 L446.3,457.3 L446.5,457.3 Z" fill="#c890f2"/>
<path d="M372.5,456.7 L373.1,456.7 L373.7,456.6 L374.3,456.6 L374.9,456.5 L375.5,456.4 L376.1,456.4 L376.7,456.3 L377.3,456.3 L377.9,456.2 L378.5,456.1 L379.1,456.1 L379.7,456.0 L380.3,456.0 L380.9,455.9 L381.5,455.8 L382.1,455.8 L382.7,455.6 L383.3,455.4 L383.9,455.2 L384.5,455.0 L385.1,454.8 L385.7,454.6 L386.3,454.4 L386.9,454.3 L387.5,454.1 L388.1,453.9 L388.7,453.7 L389.3,453.5 L389.9,453.3 L390.5,452.9 L391.1,452.4 L391.7,451.9 L392.3,451.5 L392.9,451.0 L393.5,450.5 L394.1,450.0 L394.7,449.5 L395.3,448.9 L395.9,448.1 L396.5,447.3 L397.1,446.5 L397.7,445.7 L398.3,445.1 L398.9,444.8 L399.5,444.4 L400.1,444.0 L400.7,443.7 L401.3,444.1 L401.9,444.5 L402.5,444.9 L403.1,445.4 L403.7,446.2 L404.3,447.0 L404.9,447.8 L405.5,448.6 L406.1,449.3 L406.7,449.6 L407.3,449.9 L407.9,450.2 L408.5,450.5 L409.1,450.8 L409.7,451.1 L410.3,451.4 L410.9,451.5 L411.5,451.6 L412.1,451.7 L412.7,451.8 L413.3,452.0 L413.9,452.1 L414.5,452.2 L415.1,452.3 L415.7,452.5 L416.3,452.7 L416.9,452.9 L417.5,453.0 L418.1,453.2 L418.7,453.4 L419.3,453.6 L419.9,453.8 L420.5,453.8 L421.1,453.8 L421.7,453.8 L422.3,453.8 L422.9,453.8 L423.5,453.8 L424.1,453.8 L424.7,453.7 L425.3,453.7 L425.9,453.6 L426.5,453.5 L427.1,453.5 L427.7,453.6 L428.3,453.7 L428.9,453.8 L429.5,453.9 L430.1,454.0 L430.7,454.1 L431.3,454.2 L431.9,454.3 L432.5,454.5 L433.1,454.7 L433.7,454.9 L434.3,455.2 L434.9,455.4 L435.5,455.6 L436.1,455.8 L436.7,456.1 L437.3,456.3 L437.9,456.5 L438.5,456.7 L439.1,457.0" fill="none" stroke="#a86ce0" stroke-width="0.6"/>
<line x1="372.50" y1="457.29" x2="446.50" y2="457.29" stroke="#cfcfcf" stroke-width="0.6"/>
<path d="M372.5,474.5 L372.5,474.5 L373.1,474.5 L373.7,474.5 L374.3,474.5 L374.9,474.5 L375.5,474.5 L376.1,474.5 L376.7,474.5 L377.3,474.5 L377.9,474.5 L378.5,474.5 L379.1,474.5 L379.7,474.5 L380.3,474.5 L380.9,474.5 L381.5,474.5 L382.1,474.5 L382.7,474.5 L383.3,473.9 L383.9,472.7 L384.5,471.5 L385.1,470.3 L385.7,469.1 L386.3,467.7 L386.9,466.0 L387.5,464.3 L388.1,462.6 L388.7,461.2 L389.3,460.3 L389.9,459.5 L390.5,459.7 L391.1,460.4 L391.7,461.1 L392.3,461.8 L392.9,462.4 L393.5,463.0 L394.1,463.5 L394.7,463.3 L395.3,463.2 L395.9,463.0 L396.5,462.8 L397.1,462.6 L397.7,462.5 L398.3,462.5 L398.9,463.9 L399.5,465.3 L400.1,466.8 L400.7,468.3 L401.3,469.8 L401.9,471.3 L402.5,472.0 L403.1,472.6 L403.7,473.2 L404.3,473.5 L404.9,473.6 L405.5,473.6 L406.1,473.6 L406.7,473.7 L407.3,473.7 L407.9,473.8 L408.5,473.8 L409.1,473.8 L409.7,473.9 L410.3,473.9 L410.9,473.9 L411.5,473.9 L412.1,473.9 L412.7,474.0 L413.3,474.0 L413.9,474.0 L414.5,474.0 L415.1,474.0 L415.7,474.0 L416.3,474.0 L416.9,474.0 L417.5,474.1 L418.1,474.1 L418.7,474.1 L419.3,474.1 L419.9,474.1 L420.5,474.1 L421.1,474.1 L421.7,474.1 L422.3,474.1 L422.9,474.2 L423.5,474.2 L424.1,474.2 L424.7,474.2 L425.3,474.2 L425.9,474.2 L426.5,474.2 L427.1,474.2 L427.7,474.3 L428.3,474.3 L428.9,474.3 L429.5,474.3 L430.1,474.3 L430.7,474.3 L431.3,474.3 L431.9,474.3 L432.5,474.4 L433.1,474.4 L433.7,474.4 L434.3,474.4 L434.9,474.4 L435.5,474.4 L436.1,474.4 L436.7,474.4 L437.3,474.4 L437.9,474.5 L438.5,474.5 L439.1,474.5 L439.7,474.5 L440.3,474.5 L440.9,474.5 L441.5,474.5 L442.1,474.5 L442.7,474.5 L443.3,474.5 L443.9,474.5 L444.5,474.5 L445.1,474.5 L445.7,474.5 L446.3,474.5 L446.5,474.5 Z" fill="#f2a2a2"/>
<path d="M383.3,473.9 L383.9,472.7 L384.5,471.5 L385.1,470.3 L385.7,469.1 L386.3,467.7 L386.9,466.0 L387.5,464.3 L388.1,462.6 L388.7,461.2 L389.3,460.3 L389.9,459.5 L390.5,459.7 L391.1,460.4 L391.7,461.1 L392.3,461.8 L392.9,462.4 L393.5,463.0 L394.1,463.5 L394.7,463.3 L395.3,463.2 L395.9,463.0 L396.5,462.8 L397.1,462.6 L397.7,462.5 L398.3,462.5 L398.9,463.9 L399.5,465.3 L400.1,466.8 L400.7,468.3 L401.3,469.8 L401.9,471.3 L402.5,472.0 L403.1,472.6 L403.7,473.2 L404.3,473.5 L404.9,473.6 L405.5,473.6 L406.1,473.6 L406.7,473.7 L407.3,473.7 L407.9,473.8 L408.5,473.8 L409.1,473.8 L409.7,473.9 L410.3,473.9 L410.9,473.9 L411.5,473.9 L412.1,473.9 L412.7,474.0 L413.3,474.0 L413.9,474.0 L414.5,474.0 L415.1,474.0 L415.7,474.0 L416.3,474.0 L416.9,474.0 L417.5,474.1 L418.1,474.1 L418.7,474.1 L419.3,474.1 L419.9,474.1 L420.5,474.1 L421.1,474.1 L421.7,474.1 L422.3,474.1 L422.9,474.2 L423.5,474.2 L424.1,474.2 L424.7,474.2 L425.3,474.2 L425.9,474.2 L426.5,474.2 L427.1,474.2 L427.7,474.3 L428.3,474.3 L428.9,474.3 L429.5,474.3 L430.1,474.3 L430.7,474.3 L431.3,474.3 L431.9,474.3" fill="none" stroke="#e07a7a" stroke-width="0.6"/>
<line x1="372.50" y1="474.50" x2="446.50" y2="474.50" stroke="#cfcfcf" stroke-width="0.6"/>
<line x1="402.50" y1="371.25" x2="402.50" y2="474.50" stroke="#333" stroke-width="0.8" stroke-dasharray="1,1"/>
<rect x="372.00" y="371.25" width="75.00" height="103.25" fill="none" stroke="#777" stroke-width="0.9"/>
<text x="446.20" y="378.25" font-size="7" text-anchor="end" fill="#1a1a1a">Isotype</text>
<text x="446.20" y="397.50" font-size="7" text-anchor="end" fill="#1a1a1a">Ctrl.</text>
<text x="446.20" y="414.50" font-size="7" text-anchor="end" fill="#1a1a1a">RT</text>
<text x="446.20" y="430.75" font-size="7" text-anchor="end" fill="#1a1a1a">RT/TGF&#946;RIi</text>
<text x="446.20" y="448.00" font-size="7" text-anchor="end" fill="#1a1a1a">RT/Smad3i</text>
<text x="446.20" y="464.50" font-size="7" text-anchor="end" fill="#1a1a1a">RT/PRMT5i</text>
<text x="374.80" y="368.80" font-size="9.2" text-anchor="start" fill="#1a1a1a">HT29</text>
<line x1="375.00" y1="474.50" x2="375.00" y2="476.70" stroke="#333" stroke-width="0.6"/>
<line x1="379.60" y1="474.50" x2="379.60" y2="475.80" stroke="#333" stroke-width="0.6"/>
<line x1="384.20" y1="474.50" x2="384.20" y2="475.80" stroke="#333" stroke-width="0.6"/>
<line x1="388.80" y1="474.50" x2="388.80" y2="475.80" stroke="#333" stroke-width="0.6"/>
<line x1="393.40" y1="474.50" x2="393.40" y2="475.80" stroke="#333" stroke-width="0.6"/>
<line x1="398.00" y1="474.50" x2="398.00" y2="476.70" stroke="#333" stroke-width="0.6"/>
<line x1="402.60" y1="474.50" x2="402.60" y2="475.80" stroke="#333" stroke-width="0.6"/>
<line x1="407.20" y1="474.50" x2="407.20" y2="475.80" stroke="#333" stroke-width="0.6"/>
<line x1="411.80" y1="474.50" x2="411.80" y2="475.80" stroke="#333" stroke-width="0.6"/>
<line x1="416.40" y1="474.50" x2="416.40" y2="475.80" stroke="#333" stroke-width="0.6"/>
<line x1="421.00" y1="474.50" x2="421.00" y2="476.70" stroke="#333" stroke-width="0.6"/>
<line x1="425.60" y1="474.50" x2="425.60" y2="475.80" stroke="#333" stroke-width="0.6"/>
<line x1="430.20" y1="474.50" x2="430.20" y2="475.80" stroke="#333" stroke-width="0.6"/>
<line x1="434.80" y1="474.50" x2="434.80" y2="475.80" stroke="#333" stroke-width="0.6"/>
<line x1="439.40" y1="474.50" x2="439.40" y2="475.80" stroke="#333" stroke-width="0.6"/>
<line x1="444.00" y1="474.50" x2="444.00" y2="476.70" stroke="#333" stroke-width="0.6"/>
<text x="397.50" y="484.20" font-size="7" text-anchor="middle" fill="#1a1a1a">0</text>
<text x="424.50" y="484.20" font-size="7" text-anchor="middle" fill="#1a1a1a">10<tspan font-size="4.5" dy="-2.6">4</tspan></text>
<line x1="371.25" y1="487.50" x2="443.50" y2="487.50" stroke="#111" stroke-width="1.0"/>
<path d="M447.50,487.50 L442.50,485.50 L442.50,489.50 Z" fill="#111"/>
<text x="409.00" y="495.00" font-size="7" text-anchor="middle" fill="#1a1a1a">PE-ENO1</text>
<line x1="486.25" y1="464.15" x2="486.25" y2="365.00" stroke="#222" stroke-width="0.9"/>
<line x1="481.45" y1="463.75" x2="486.25" y2="463.75" stroke="#222" stroke-width="0.9"/>
<line x1="481.45" y1="430.83" x2="486.25" y2="430.83" stroke="#222" stroke-width="0.9"/>
<line x1="481.45" y1="397.92" x2="486.25" y2="397.92" stroke="#222" stroke-width="0.9"/>
<line x1="481.45" y1="365.00" x2="486.25" y2="365.00" stroke="#222" stroke-width="0.9"/>
<text x="480.45" y="466.63" font-size="8" text-anchor="end" fill="#222">0</text>
<text x="480.45" y="433.71" font-size="8" text-anchor="end" fill="#222">2</text>
<text x="480.45" y="400.80" font-size="8" text-anchor="end" fill="#222">4</text>
<text x="480.45" y="367.88" font-size="8" text-anchor="end" fill="#222">6</text>
<line x1="495.40" y1="443.75" x2="495.40" y2="439.75" stroke="#222" stroke-width="0.8"/>
<line x1="493.40" y1="439.75" x2="497.40" y2="439.75" stroke="#222" stroke-width="0.8"/>
<rect x="491.30" y="443.75" width="8.20" height="20.00" fill="#d6d6d6" stroke="#1a1a1a" stroke-width="0.8"/>
<line x1="509.10" y1="388.75" x2="509.10" y2="382.75" stroke="#222" stroke-width="0.8"/>
<line x1="507.10" y1="382.75" x2="511.10" y2="382.75" stroke="#222" stroke-width="0.8"/>
<rect x="505.00" y="388.75" width="8.20" height="75.00" fill="#ef9f45" stroke="#1a1a1a" stroke-width="0.8"/>
<line x1="522.90" y1="403.00" x2="522.90" y2="399.00" stroke="#222" stroke-width="0.8"/>
<line x1="520.90" y1="399.00" x2="524.90" y2="399.00" stroke="#222" stroke-width="0.8"/>
<rect x="518.80" y="403.00" width="8.20" height="60.75" fill="#8c8cff" stroke="#1a1a1a" stroke-width="0.8"/>
<line x1="536.60" y1="409.50" x2="536.60" y2="406.50" stroke="#222" stroke-width="0.8"/>
<line x1="534.60" y1="406.50" x2="538.60" y2="406.50" stroke="#222" stroke-width="0.8"/>
<rect x="532.50" y="409.50" width="8.20" height="54.25" fill="#e08cf8" stroke="#1a1a1a" stroke-width="0.8"/>
<line x1="550.75" y1="449.25" x2="550.75" y2="445.75" stroke="#222" stroke-width="0.8"/>
<line x1="548.75" y1="445.75" x2="552.75" y2="445.75" stroke="#222" stroke-width="0.8"/>
<rect x="546.65" y="449.25" width="8.20" height="14.50" fill="#ef7a84" stroke="#1a1a1a" stroke-width="0.8"/>
<line x1="486.25" y1="463.75" x2="560.00" y2="463.75" stroke="#222" stroke-width="0.9"/>
<line x1="495.40" y1="463.75" x2="495.40" y2="469.05" stroke="#555" stroke-width="0.9"/>
<line x1="509.10" y1="463.75" x2="509.10" y2="469.05" stroke="#555" stroke-width="0.9"/>
<line x1="522.90" y1="463.75" x2="522.90" y2="469.05" stroke="#555" stroke-width="0.9"/>
<line x1="536.60" y1="463.75" x2="536.60" y2="469.05" stroke="#555" stroke-width="0.9"/>
<line x1="550.75" y1="463.75" x2="550.75" y2="469.05" stroke="#555" stroke-width="0.9"/>
<text x="470.20" y="412.00" font-size="9.2" text-anchor="middle" fill="#1a1a1a" transform="rotate(-90 470.20 412.00)">Surface ENO1 (MFI x10<tspan font-size="6" dy="-3">3</tspan><tspan dy="3">)</tspan></text>
<polyline points="496.40,437.50 496.40,363.40 509.10,363.40 509.10,366.70" stroke="#484848" stroke-width="1.0" fill="none"/>
<text x="502.50" y="366.76" font-size="10.5" text-anchor="middle" fill="#333" letter-spacing="-0.5">***</text>
<polyline points="509.10,373.70 509.10,370.20 550.75,370.20 550.75,440.00" stroke="#484848" stroke-width="1.0" fill="none"/>
<text x="531.20" y="373.36" font-size="10.5" text-anchor="middle" fill="#333" letter-spacing="-0.5">***</text>
<polyline points="509.10,380.10 509.10,376.60 529.40,376.60 529.40,396.25" stroke="#484848" stroke-width="1.0" fill="none"/>
<line x1="517.50" y1="396.25" x2="543.00" y2="396.25" stroke="#6a6a6a" stroke-width="1.2"/>
<text x="520.00" y="380.16" font-size="10.5" text-anchor="middle" fill="#333" letter-spacing="-0.5">**</text>
<text x="491.30" y="477.90" font-size="6.6" text-anchor="end" fill="#1a1a1a" style="stroke-width:0.08px">TGF&#946;RIi</text>
<text x="495.40" y="477.92" font-size="9.5" text-anchor="middle" fill="#333" style="stroke:none">-</text>
<text x="509.10" y="477.92" font-size="9.5" text-anchor="middle" fill="#333" style="stroke:none">-</text>
<text x="522.90" y="478.63" font-size="9.5" text-anchor="middle" fill="#222" style="stroke-width:0.1px">+</text>
<text x="536.60" y="477.92" font-size="9.5" text-anchor="middle" fill="#333" style="stroke:none">-</text>
<text x="550.75" y="477.92" font-size="9.5" text-anchor="middle" fill="#333" style="stroke:none">-</text>
<text x="491.30" y="486.65" font-size="6.6" text-anchor="end" fill="#1a1a1a" style="stroke-width:0.08px">Smad3i</text>
<text x="495.40" y="486.67" font-size="9.5" text-anchor="middle" fill="#333" style="stroke:none">-</text>
<text x="509.10" y="486.67" font-size="9.5" text-anchor="middle" fill="#333" style="stroke:none">-</text>
<text x="522.90" y="486.67" font-size="9.5" text-anchor="middle" fill="#333" style="stroke:none">-</text>
<text x="536.60" y="487.38" font-size="9.5" text-anchor="middle" fill="#222" style="stroke-width:0.1px">+</text>
<text x="550.75" y="486.67" font-size="9.5" text-anchor="middle" fill="#333" style="stroke:none">-</text>
<text x="491.30" y="494.90" font-size="6.6" text-anchor="end" fill="#1a1a1a" style="stroke-width:0.08px">PRMT5i</text>
<text x="495.40" y="494.92" font-size="9.5" text-anchor="middle" fill="#333" style="stroke:none">-</text>
<text x="509.10" y="494.92" font-size="9.5" text-anchor="middle" fill="#333" style="stroke:none">-</text>
<text x="522.90" y="494.92" font-size="9.5" text-anchor="middle" fill="#333" style="stroke:none">-</text>
<text x="536.60" y="494.92" font-size="9.5" text-anchor="middle" fill="#333" style="stroke:none">-</text>
<text x="550.75" y="495.63" font-size="9.5" text-anchor="middle" fill="#222" style="stroke-width:0.1px">+</text>
<line x1="502.50" y1="496.30" x2="558.00" y2="496.30" stroke="#222" stroke-width="0.8"/>
<text x="530.00" y="503.50" font-size="6.5" text-anchor="middle" fill="#1a1a1a" style="stroke-width:0.08px">RT</text>
<text x="560.80" y="355.20" font-size="20" text-anchor="start" fill="#000" style="stroke:none">J</text>
<line x1="605.75" y1="463.65" x2="605.75" y2="363.25" stroke="#222" stroke-width="0.9"/>
<line x1="600.95" y1="463.25" x2="605.75" y2="463.25" stroke="#222" stroke-width="0.9"/>
<line x1="600.95" y1="429.92" x2="605.75" y2="429.92" stroke="#222" stroke-width="0.9"/>
<line x1="600.95" y1="396.58" x2="605.75" y2="396.58" stroke="#222" stroke-width="0.9"/>
<line x1="600.95" y1="363.25" x2="605.75" y2="363.25" stroke="#222" stroke-width="0.9"/>
<text x="599.95" y="466.49" font-size="9" text-anchor="end" fill="#222">0</text>
<text x="599.95" y="399.82" font-size="9" text-anchor="end" fill="#222">1</text>
<line x1="614.75" y1="397.00" x2="614.75" y2="390.00" stroke="#222" stroke-width="0.8"/>
<line x1="612.75" y1="390.00" x2="616.75" y2="390.00" stroke="#222" stroke-width="0.8"/>
<rect x="610.15" y="397.00" width="9.20" height="66.25" fill="#d6d6d6" stroke="#1a1a1a" stroke-width="0.8"/>
<line x1="628.90" y1="381.25" x2="628.90" y2="379.75" stroke="#222" stroke-width="0.8"/>
<line x1="626.90" y1="379.75" x2="630.90" y2="379.75" stroke="#222" stroke-width="0.8"/>
<rect x="624.30" y="381.25" width="9.20" height="82.00" fill="#ef9f45" stroke="#1a1a1a" stroke-width="0.8"/>
<line x1="642.90" y1="423.25" x2="642.90" y2="419.25" stroke="#222" stroke-width="0.8"/>
<line x1="640.90" y1="419.25" x2="644.90" y2="419.25" stroke="#222" stroke-width="0.8"/>
<rect x="638.30" y="423.25" width="9.20" height="40.00" fill="#8c8cff" stroke="#1a1a1a" stroke-width="0.8"/>
<line x1="657.10" y1="413.00" x2="657.10" y2="410.50" stroke="#222" stroke-width="0.8"/>
<line x1="655.10" y1="410.50" x2="659.10" y2="410.50" stroke="#222" stroke-width="0.8"/>
<rect x="652.50" y="413.00" width="9.20" height="50.25" fill="#e08cf8" stroke="#1a1a1a" stroke-width="0.8"/>
<line x1="671.00" y1="438.00" x2="671.00" y2="436.50" stroke="#222" stroke-width="0.8"/>
<line x1="669.00" y1="436.50" x2="673.00" y2="436.50" stroke="#222" stroke-width="0.8"/>
<rect x="666.40" y="438.00" width="9.20" height="25.25" fill="#ef7a84" stroke="#1a1a1a" stroke-width="0.8"/>
<line x1="605.75" y1="463.25" x2="676.50" y2="463.25" stroke="#222" stroke-width="0.9"/>
<line x1="614.75" y1="463.25" x2="614.75" y2="468.55" stroke="#555" stroke-width="0.9"/>
<line x1="628.90" y1="463.25" x2="628.90" y2="468.55" stroke="#555" stroke-width="0.9"/>
<line x1="642.90" y1="463.25" x2="642.90" y2="468.55" stroke="#555" stroke-width="0.9"/>
<line x1="657.10" y1="463.25" x2="657.10" y2="468.55" stroke="#555" stroke-width="0.9"/>
<line x1="671.00" y1="463.25" x2="671.00" y2="468.55" stroke="#555" stroke-width="0.9"/>
<text x="589.20" y="410.80" font-size="10.4" text-anchor="middle" fill="#1a1a1a" transform="rotate(-90 589.20 410.80)">Plasmin activity (FC)</text>
<polyline points="628.90,370.00 628.90,366.25 657.10,366.25 657.10,402.50" stroke="#484848" stroke-width="1.0" fill="none"/>
<text x="642.00" y="369.46" font-size="10.5" text-anchor="middle" fill="#333" letter-spacing="-0.5">*</text>
<polyline points="628.90,377.50 628.90,374.50 642.90,374.50 642.90,410.50" stroke="#484848" stroke-width="1.0" fill="none"/>
<text x="635.00" y="377.76" font-size="10.5" text-anchor="middle" fill="#333" letter-spacing="-0.5">*</text>
<polyline points="657.10,407.50 657.10,405.75 671.00,405.75 671.00,435.00" stroke="#484848" stroke-width="1.0" fill="none"/>
<text x="664.20" y="408.96" font-size="10.5" text-anchor="middle" fill="#333" letter-spacing="-0.5">*</text>
<text x="608.50" y="476.65" font-size="6.6" text-anchor="end" fill="#1a1a1a" style="stroke-width:0.08px">TGF&#946;RIi</text>
<text x="614.75" y="476.67" font-size="9.5" text-anchor="middle" fill="#333" style="stroke:none">-</text>
<text x="628.90" y="476.67" font-size="9.5" text-anchor="middle" fill="#333" style="stroke:none">-</text>
<text x="642.90" y="477.38" font-size="9.5" text-anchor="middle" fill="#222" style="stroke-width:0.1px">+</text>
<text x="657.10" y="476.67" font-size="9.5" text-anchor="middle" fill="#333" style="stroke:none">-</text>
<text x="671.00" y="476.67" font-size="9.5" text-anchor="middle" fill="#333" style="stroke:none">-</text>
<text x="608.50" y="484.90" font-size="6.6" text-anchor="end" fill="#1a1a1a" style="stroke-width:0.08px">Smad3i</text>
<text x="614.75" y="484.92" font-size="9.5" text-anchor="middle" fill="#333" style="stroke:none">-</text>
<text x="628.90" y="484.92" font-size="9.5" text-anchor="middle" fill="#333" style="stroke:none">-</text>
<text x="642.90" y="484.92" font-size="9.5" text-anchor="middle" fill="#333" style="stroke:none">-</text>
<text x="657.10" y="485.63" font-size="9.5" text-anchor="middle" fill="#222" style="stroke-width:0.1px">+</text>
<text x="671.00" y="484.92" font-size="9.5" text-anchor="middle" fill="#333" style="stroke:none">-</text>
<text x="608.50" y="493.65" font-size="6.6" text-anchor="end" fill="#1a1a1a" style="stroke-width:0.08px">PRMT5i</text>
<text x="614.75" y="493.67" font-size="9.5" text-anchor="middle" fill="#333" style="stroke:none">-</text>
<text x="628.90" y="493.67" font-size="9.5" text-anchor="middle" fill="#333" style="stroke:none">-</text>
<text x="642.90" y="493.67" font-size="9.5" text-anchor="middle" fill="#333" style="stroke:none">-</text>
<text x="657.10" y="493.67" font-size="9.5" text-anchor="middle" fill="#333" style="stroke:none">-</text>
<text x="671.00" y="494.38" font-size="9.5" text-anchor="middle" fill="#222" style="stroke-width:0.1px">+</text>
<line x1="621.25" y1="495.00" x2="676.25" y2="495.00" stroke="#222" stroke-width="0.8"/>
<text x="648.70" y="502.50" font-size="6.5" text-anchor="middle" fill="#1a1a1a" style="stroke-width:0.08px">RT</text>
<text x="3.60" y="522.40" font-size="20" text-anchor="start" fill="#000" style="stroke:none">K</text>
<text x="95.20" y="540.00" font-size="7.8" text-anchor="middle" fill="#1a1a1a">RT</text>
<line x1="71.30" y1="541.40" x2="127.80" y2="541.40" stroke="#222" stroke-width="0.8"/>
<text x="53.00" y="548.10" font-size="7.8" text-anchor="end" fill="#1a1a1a">TGF&#946;Ri</text>
<text x="62.60" y="547.92" font-size="9.5" text-anchor="middle" fill="#333" style="stroke:none">-</text>
<text x="78.10" y="547.92" font-size="9.5" text-anchor="middle" fill="#333" style="stroke:none">-</text>
<text x="93.10" y="548.63" font-size="9.5" text-anchor="middle" fill="#222" style="stroke-width:0.1px">+</text>
<text x="107.20" y="547.92" font-size="9.5" text-anchor="middle" fill="#333" style="stroke:none">-</text>
<text x="122.70" y="547.92" font-size="9.5" text-anchor="middle" fill="#333" style="stroke:none">-</text>
<text x="53.00" y="556.80" font-size="7.8" text-anchor="end" fill="#1a1a1a">Smad3i</text>
<text x="62.60" y="556.62" font-size="9.5" text-anchor="middle" fill="#333" style="stroke:none">-</text>
<text x="78.10" y="556.62" font-size="9.5" text-anchor="middle" fill="#333" style="stroke:none">-</text>
<text x="93.10" y="556.62" font-size="9.5" text-anchor="middle" fill="#333" style="stroke:none">-</text>
<text x="107.20" y="557.33" font-size="9.5" text-anchor="middle" fill="#222" style="stroke-width:0.1px">+</text>
<text x="122.70" y="556.62" font-size="9.5" text-anchor="middle" fill="#333" style="stroke:none">-</text>
<text x="53.00" y="565.80" font-size="7.8" text-anchor="end" fill="#1a1a1a">PRMT5i</text>
<text x="62.60" y="565.62" font-size="9.5" text-anchor="middle" fill="#333" style="stroke:none">-</text>
<text x="78.10" y="565.62" font-size="9.5" text-anchor="middle" fill="#333" style="stroke:none">-</text>
<text x="93.10" y="565.62" font-size="9.5" text-anchor="middle" fill="#333" style="stroke:none">-</text>
<text x="107.20" y="565.62" font-size="9.5" text-anchor="middle" fill="#333" style="stroke:none">-</text>
<text x="122.70" y="566.33" font-size="9.5" text-anchor="middle" fill="#222" style="stroke-width:0.1px">+</text>
<rect x="54.20" y="566.90" width="76.30" height="18.70" fill="#e8e8e8"/>
<rect x="56.85" y="575.40" width="11.50" height="2.80" rx="1.40" fill="#2d2d2d" filter="url(#bl8)"/>
<rect x="72.35" y="575.40" width="11.50" height="2.80" rx="1.40" fill="#646464" filter="url(#bl8)"/>
<rect x="87.35" y="575.40" width="11.50" height="2.80" rx="1.40" fill="#afafaf" filter="url(#bl8)"/>
<rect x="101.45" y="575.40" width="11.50" height="2.80" rx="1.40" fill="#828282" filter="url(#bl8)"/>
<rect x="116.95" y="575.40" width="11.50" height="2.80" rx="1.40" fill="#787878" filter="url(#bl8)"/>
<rect x="56.85" y="578.80" width="11.50" height="2.80" rx="1.40" fill="#5f5f5f" filter="url(#bl9)"/>
<rect x="72.35" y="578.80" width="11.50" height="2.80" rx="1.40" fill="#6e6e6e" filter="url(#bl9)"/>
<rect x="87.35" y="578.80" width="11.50" height="2.80" rx="1.40" fill="#b9b9b9" filter="url(#bl9)"/>
<rect x="101.45" y="578.80" width="11.50" height="2.80" rx="1.40" fill="#7d7d7d" filter="url(#bl9)"/>
<rect x="116.95" y="578.80" width="11.50" height="2.80" rx="1.40" fill="#737373" filter="url(#bl9)"/>
<rect x="54.70" y="567.40" width="75.30" height="17.70" fill="none" stroke="#666" stroke-width="1" rx="0.3"/>
<text x="54.00" y="593.90" font-size="7.6" text-anchor="end" fill="#1a1a1a">Ratio</text>
<text x="64.60" y="593.90" font-size="7.8" text-anchor="middle" fill="#1a1a1a">1.0</text>
<text x="77.80" y="593.90" font-size="7.8" text-anchor="middle" fill="#1a1a1a">1.5</text>
<text x="92.20" y="593.90" font-size="7.8" text-anchor="middle" fill="#1a1a1a">0.4</text>
<text x="107.40" y="593.90" font-size="7.8" text-anchor="middle" fill="#1a1a1a">0.8</text>
<text x="123.20" y="593.90" font-size="7.8" text-anchor="middle" fill="#1a1a1a">0.8</text>
<rect x="54.20" y="597.40" width="76.30" height="18.80" fill="#ebebeb"/>
<rect x="56.85" y="605.10" width="11.50" height="2.40" rx="1.20" fill="#282828" filter="url(#bl6)"/>
<rect x="72.35" y="605.10" width="11.50" height="2.40" rx="1.20" fill="#6e6e6e" filter="url(#bl6)"/>
<rect x="87.35" y="605.10" width="11.50" height="2.40" rx="1.20" fill="#787878" filter="url(#bl6)"/>
<rect x="101.45" y="605.10" width="11.50" height="2.40" rx="1.20" fill="#6e6e6e" filter="url(#bl6)"/>
<rect x="116.95" y="605.10" width="11.50" height="2.40" rx="1.20" fill="#646464" filter="url(#bl6)"/>
<rect x="56.85" y="610.50" width="11.50" height="2.20" rx="1.10" fill="#b9b9b9" filter="url(#bl8)"/>
<rect x="72.35" y="610.50" width="11.50" height="2.20" rx="1.10" fill="#c3c3c3" filter="url(#bl8)"/>
<rect x="87.35" y="610.50" width="11.50" height="2.20" rx="1.10" fill="#c3c3c3" filter="url(#bl8)"/>
<rect x="101.45" y="610.50" width="11.50" height="2.20" rx="1.10" fill="#bebebe" filter="url(#bl8)"/>
<rect x="116.95" y="610.50" width="11.50" height="2.20" rx="1.10" fill="#b9b9b9" filter="url(#bl8)"/>
<rect x="54.70" y="597.90" width="75.30" height="17.80" fill="none" stroke="#666" stroke-width="1" rx="0.3"/>
<rect x="54.20" y="617.50" width="76.30" height="18.40" fill="#ebebeb"/>
<rect x="56.85" y="625.20" width="11.50" height="2.80" rx="1.40" fill="#1e1e1e" filter="url(#bl6)"/>
<rect x="72.35" y="625.20" width="11.50" height="2.80" rx="1.40" fill="#282828" filter="url(#bl6)"/>
<rect x="87.35" y="625.30" width="11.50" height="2.60" rx="1.30" fill="#2d2d2d" filter="url(#bl6)"/>
<rect x="101.45" y="625.10" width="11.50" height="3.00" rx="1.50" fill="#1e1e1e" filter="url(#bl6)"/>
<rect x="116.95" y="624.80" width="11.50" height="3.60" rx="1.80" fill="#0f0f0f" filter="url(#bl6)"/>
<rect x="54.70" y="618.00" width="75.30" height="17.40" fill="none" stroke="#666" stroke-width="1" rx="0.3"/>
<rect x="54.20" y="637.80" width="76.30" height="18.80" fill="#d9d9d9"/>
<rect x="56.85" y="645.30" width="11.50" height="3.60" rx="1.80" fill="#5a5a5a" filter="url(#bl9)"/>
<rect x="72.35" y="645.30" width="11.50" height="3.60" rx="1.80" fill="#464646" filter="url(#bl9)"/>
<rect x="87.35" y="645.30" width="11.50" height="3.60" rx="1.80" fill="#323232" filter="url(#bl9)"/>
<rect x="101.45" y="645.30" width="11.50" height="3.60" rx="1.80" fill="#3c3c3c" filter="url(#bl9)"/>
<rect x="116.95" y="645.30" width="11.50" height="3.60" rx="1.80" fill="#646464" filter="url(#bl9)"/>
<rect x="54.70" y="638.30" width="75.30" height="17.80" fill="none" stroke="#666" stroke-width="1" rx="0.3"/>
<text x="52.80" y="580.20" font-size="8.6" text-anchor="end" fill="#1a1a1a">p-Smad2/3</text>
<text x="52.80" y="609.70" font-size="8.6" text-anchor="end" fill="#1a1a1a">GAPDH</text>
<text x="52.80" y="630.00" font-size="8.6" text-anchor="end" fill="#1a1a1a">ENO1</text>
<text x="52.80" y="650.30" font-size="8.6" text-anchor="end" fill="#1a1a1a">GAPDH</text>
<text x="96.30" y="665.60" font-size="7.6" text-anchor="middle" fill="#1a1a1a">MDA-MB-468</text>
<path d="M143.1,565.1 L143.1,565.1 L143.7,565.1 L144.3,565.1 L144.9,565.1 L145.5,565.1 L146.1,565.1 L146.7,565.1 L147.3,565.1 L147.9,565.1 L148.5,565.1 L149.1,565.1 L149.7,565.1 L150.3,565.1 L150.9,565.1 L151.5,565.1 L152.1,565.1 L152.7,565.1 L153.3,565.1 L153.9,565.1 L154.5,565.1 L155.1,565.1 L155.7,565.1 L156.3,565.1 L156.9,565.1 L157.5,565.1 L158.1,565.1 L158.7,565.1 L159.3,565.1 L159.9,565.1 L160.5,565.1 L161.1,565.1 L161.7,565.1 L162.3,565.1 L162.9,565.1 L163.5,565.1 L164.1,565.1 L164.7,565.1 L165.3,565.0 L165.9,564.9 L166.5,564.6 L167.1,564.0 L167.7,563.3 L168.3,562.3 L168.9,560.9 L169.5,559.0 L170.1,556.8 L170.7,554.4 L171.3,552.2 L171.9,550.7 L172.5,549.9 L173.1,549.7 L173.7,549.9 L174.3,550.7 L174.9,552.1 L175.5,554.1 L176.1,556.4 L176.7,558.6 L177.3,560.4 L177.9,561.9 L178.5,562.9 L179.1,563.8 L179.7,564.3 L180.3,564.7 L180.9,564.9 L181.5,565.0 L182.1,565.1 L182.7,565.1 L183.3,565.1 L183.9,565.1 L184.5,565.1 L185.1,565.1 L185.7,565.1 L186.3,565.1 L186.9,565.1 L187.5,565.1 L188.1,565.1 L188.7,565.1 L189.3,565.1 L189.9,565.1 L190.5,565.1 L191.1,565.1 L191.7,565.1 L192.3,565.1 L192.9,565.1 L193.5,565.1 L194.1,565.1 L194.7,565.1 L195.3,565.1 L195.9,565.1 L196.5,565.1 L197.1,565.1 L197.7,565.1 L198.3,565.1 L198.9,565.1 L199.5,565.1 L200.1,565.1 L200.7,565.1 L201.3,565.1 L201.9,565.1 L202.5,565.1 L203.1,565.1 L203.7,565.1 L204.3,565.1 L204.9,565.1 L205.5,565.1 L206.1,565.1 L206.7,565.1 L207.3,565.1 L207.9,565.1 L208.5,565.1 L209.1,565.1 L209.7,565.1 L210.3,565.1 L210.9,565.1 L211.5,565.1 L212.1,565.1 L212.7,565.1 L213.3,565.1 L213.9,565.1 L214.5,565.1 L215.1,565.1 L215.7,565.1 L216.3,565.1 L216.9,565.1 L217.4,565.1 Z" fill="#ffffff"/>
<path d="M165.9,564.9 L166.5,564.6 L167.1,564.0 L167.7,563.3 L168.3,562.3 L168.9,560.9 L169.5,559.0 L170.1,556.8 L170.7,554.4 L171.3,552.2 L171.9,550.7 L172.5,549.9 L173.1,549.7 L173.7,549.9 L174.3,550.7 L174.9,552.1 L175.5,554.1 L176.1,556.4 L176.7,558.6 L177.3,560.4 L177.9,561.9 L178.5,562.9 L179.1,563.8 L179.7,564.3 L180.3,564.7 L180.9,564.9" fill="none" stroke="#444" stroke-width="0.6"/>
<line x1="143.10" y1="565.10" x2="217.40" y2="565.10" stroke="#cfcfcf" stroke-width="0.6"/>
<path d="M143.1,582.2 L143.1,582.2 L143.7,582.2 L144.3,582.2 L144.9,582.2 L145.5,582.2 L146.1,582.2 L146.7,582.2 L147.3,582.2 L147.9,582.2 L148.5,582.2 L149.1,582.2 L149.7,582.2 L150.3,582.2 L150.9,582.2 L151.5,582.2 L152.1,582.2 L152.7,582.2 L153.3,582.2 L153.9,582.2 L154.5,582.2 L155.1,582.2 L155.7,582.2 L156.3,582.2 L156.9,582.2 L157.5,582.2 L158.1,582.2 L158.7,582.2 L159.3,582.2 L159.9,582.2 L160.5,582.2 L161.1,582.2 L161.7,582.2 L162.3,582.2 L162.9,582.2 L163.5,582.2 L164.1,582.2 L164.7,582.2 L165.3,582.2 L165.9,582.1 L166.5,581.9 L167.1,581.2 L167.7,579.2 L168.3,575.4 L168.9,570.5 L169.5,566.8 L170.1,566.7 L170.7,569.7 L171.3,573.5 L171.9,576.3 L172.5,577.8 L173.1,578.8 L173.7,579.5 L174.3,580.2 L174.9,580.7 L175.5,581.1 L176.1,581.4 L176.7,581.6 L177.3,581.8 L177.9,581.9 L178.5,582.0 L179.1,582.1 L179.7,582.1 L180.3,582.2 L180.9,582.2 L181.5,582.2 L182.1,582.2 L182.7,582.2 L183.3,582.2 L183.9,582.2 L184.5,582.2 L185.1,582.2 L185.7,582.2 L186.3,582.2 L186.9,582.2 L187.5,582.2 L188.1,582.2 L188.7,582.2 L189.3,582.2 L189.9,582.2 L190.5,582.2 L191.1,582.2 L191.7,582.2 L192.3,582.2 L192.9,582.2 L193.5,582.2 L194.1,582.2 L194.7,582.2 L195.3,582.2 L195.9,582.2 L196.5,582.2 L197.1,582.2 L197.7,582.2 L198.3,582.2 L198.9,582.2 L199.5,582.2 L200.1,582.2 L200.7,582.2 L201.3,582.2 L201.9,582.2 L202.5,582.2 L203.1,582.2 L203.7,582.2 L204.3,582.2 L204.9,582.2 L205.5,582.2 L206.1,582.2 L206.7,582.2 L207.3,582.2 L207.9,582.2 L208.5,582.2 L209.1,582.2 L209.7,582.2 L210.3,582.2 L210.9,582.2 L211.5,582.2 L212.1,582.2 L212.7,582.2 L213.3,582.2 L213.9,582.2 L214.5,582.2 L215.1,582.2 L215.7,582.2 L216.3,582.2 L216.9,582.2 L217.4,582.2 Z" fill="#c0c0c0"/>
<path d="M166.5,581.9 L167.1,581.2 L167.7,579.2 L168.3,575.4 L168.9,570.5 L169.5,566.8 L170.1,566.7 L170.7,569.7 L171.3,573.5 L171.9,576.3 L172.5,577.8 L173.1,578.8 L173.7,579.5 L174.3,580.2 L174.9,580.7 L175.5,581.1 L176.1,581.4 L176.7,581.6 L177.3,581.8 L177.9,581.9 L178.5,582.0" fill="none" stroke="#8f8f8f" stroke-width="0.6"/>
<line x1="143.10" y1="582.20" x2="217.40" y2="582.20" stroke="#cfcfcf" stroke-width="0.6"/>
<path d="M143.1,599.3 L143.1,599.3 L143.7,599.3 L144.3,599.3 L144.9,599.3 L145.5,599.3 L146.1,599.3 L146.7,599.3 L147.3,599.3 L147.9,599.3 L148.5,599.3 L149.1,599.3 L149.7,599.3 L150.3,599.3 L150.9,599.3 L151.5,599.3 L152.1,599.3 L152.7,599.3 L153.3,599.3 L153.9,599.3 L154.5,599.3 L155.1,599.3 L155.7,599.3 L156.3,599.3 L156.9,599.3 L157.5,599.3 L158.1,599.3 L158.7,599.3 L159.3,599.3 L159.9,599.3 L160.5,599.3 L161.1,599.3 L161.7,599.3 L162.3,599.3 L162.9,599.3 L163.5,599.3 L164.1,599.3 L164.7,599.2 L165.3,599.0 L165.9,598.8 L166.5,598.3 L167.1,597.5 L167.7,596.6 L168.3,595.6 L168.9,594.8 L169.5,594.3 L170.1,594.4 L170.7,595.0 L171.3,595.9 L171.9,596.8 L172.5,597.5 L173.1,597.7 L173.7,597.4 L174.3,596.4 L174.9,594.8 L175.5,592.7 L176.1,590.2 L176.7,587.9 L177.3,586.1 L177.9,585.2 L178.5,585.4 L179.1,586.6 L179.7,588.3 L180.3,590.2 L180.9,592.0 L181.5,593.6 L182.1,594.9 L182.7,596.0 L183.3,596.9 L183.9,597.7 L184.5,598.3 L185.1,598.7 L185.7,598.9 L186.3,599.1 L186.9,599.1 L187.5,599.1 L188.1,599.0 L188.7,598.9 L189.3,598.8 L189.9,598.5 L190.5,598.2 L191.1,597.8 L191.7,597.4 L192.3,596.9 L192.9,596.4 L193.5,595.9 L194.1,595.4 L194.7,594.9 L195.3,594.5 L195.9,594.2 L196.5,593.8 L197.1,593.6 L197.7,593.3 L198.3,593.1 L198.9,592.9 L199.5,592.7 L200.1,592.5 L200.7,592.4 L201.3,592.2 L201.9,592.2 L202.5,592.1 L203.1,592.1 L203.7,592.2 L204.3,592.4 L204.9,592.6 L205.5,592.9 L206.1,593.3 L206.7,593.7 L207.3,594.2 L207.9,594.8 L208.5,595.4 L209.1,596.0 L209.7,596.6 L210.3,597.1 L210.9,597.6 L211.5,598.0 L212.1,598.4 L212.7,598.6 L213.3,598.8 L213.9,599.0 L214.5,599.1 L215.1,599.2 L215.7,599.2 L216.3,599.2 L216.9,599.3 L217.4,599.3 Z" fill="#f2c48e"/>
<path d="M165.3,599.0 L165.9,598.8 L166.5,598.3 L167.1,597.5 L167.7,596.6 L168.3,595.6 L168.9,594.8 L169.5,594.3 L170.1,594.4 L170.7,595.0 L171.3,595.9 L171.9,596.8 L172.5,597.5 L173.1,597.7 L173.7,597.4 L174.3,596.4 L174.9,594.8 L175.5,592.7 L176.1,590.2 L176.7,587.9 L177.3,586.1 L177.9,585.2 L178.5,585.4 L179.1,586.6 L179.7,588.3 L180.3,590.2 L180.9,592.0 L181.5,593.6 L182.1,594.9 L182.7,596.0 L183.3,596.9 L183.9,597.7 L184.5,598.3 L185.1,598.7 L185.7,598.9 L186.3,599.1 L186.9,599.1 L187.5,599.1 L188.1,599.0 L188.7,598.9 L189.3,598.8 L189.9,598.5 L190.5,598.2 L191.1,597.8 L191.7,597.4 L192.3,596.9 L192.9,596.4 L193.5,595.9 L194.1,595.4 L194.7,594.9 L195.3,594.5 L195.9,594.2 L196.5,593.8 L197.1,593.6 L197.7,593.3 L198.3,593.1 L198.9,592.9 L199.5,592.7 L200.1,592.5 L200.7,592.4 L201.3,592.2 L201.9,592.2 L202.5,592.1 L203.1,592.1 L203.7,592.2 L204.3,592.4 L204.9,592.6 L205.5,592.9 L206.1,593.3 L206.7,593.7 L207.3,594.2 L207.9,594.8 L208.5,595.4 L209.1,596.0 L209.7,596.6 L210.3,597.1 L210.9,597.6 L211.5,598.0 L212.1,598.4 L212.7,598.6 L213.3,598.8 L213.9,599.0 L214.5,599.1" fill="none" stroke="#dca264" stroke-width="0.6"/>
<line x1="143.10" y1="599.30" x2="217.40" y2="599.30" stroke="#cfcfcf" stroke-width="0.6"/>
<path d="M143.1,616.4 L143.1,616.4 L143.7,616.4 L144.3,616.4 L144.9,616.4 L145.5,616.4 L146.1,616.4 L146.7,616.4 L147.3,616.4 L147.9,616.4 L148.5,616.4 L149.1,616.4 L149.7,616.4 L150.3,616.4 L150.9,616.4 L151.5,616.4 L152.1,616.4 L152.7,616.4 L153.3,616.4 L153.9,616.4 L154.5,616.4 L155.1,616.4 L155.7,616.4 L156.3,616.4 L156.9,616.4 L157.5,616.4 L158.1,616.3 L158.7,616.3 L159.3,616.2 L159.9,616.2 L160.5,616.1 L161.1,616.0 L161.7,615.9 L162.3,615.7 L162.9,615.6 L163.5,615.5 L164.1,615.4 L164.7,615.3 L165.3,615.2 L165.9,614.9 L166.5,614.5 L167.1,613.9 L167.7,613.0 L168.3,612.2 L168.9,611.4 L169.5,611.1 L170.1,611.2 L170.7,611.7 L171.3,612.4 L171.9,612.8 L172.5,612.6 L173.1,611.5 L173.7,609.5 L174.3,607.0 L174.9,604.4 L175.5,602.6 L176.1,601.9 L176.7,602.5 L177.3,604.0 L177.9,605.9 L178.5,607.7 L179.1,609.2 L179.7,610.5 L180.3,611.6 L180.9,612.6 L181.5,613.6 L182.1,614.4 L182.7,615.1 L183.3,615.6 L183.9,616.0 L184.5,616.2 L185.1,616.3 L185.7,616.3 L186.3,616.3 L186.9,616.2 L187.5,616.2 L188.1,616.1 L188.7,616.0 L189.3,615.8 L189.9,615.6 L190.5,615.4 L191.1,615.1 L191.7,614.9 L192.3,614.6 L192.9,614.4 L193.5,614.2 L194.1,614.0 L194.7,613.9 L195.3,613.9 L195.9,613.9 L196.5,614.1 L197.1,614.2 L197.7,614.5 L198.3,614.7 L198.9,615.0 L199.5,615.2 L200.1,615.5 L200.7,615.7 L201.3,615.9 L201.9,616.0 L202.5,616.1 L203.1,616.2 L203.7,616.3 L204.3,616.3 L204.9,616.3 L205.5,616.4 L206.1,616.4 L206.7,616.4 L207.3,616.4 L207.9,616.4 L208.5,616.4 L209.1,616.4 L209.7,616.4 L210.3,616.4 L210.9,616.4 L211.5,616.4 L212.1,616.4 L212.7,616.4 L213.3,616.4 L213.9,616.4 L214.5,616.4 L215.1,616.4 L215.7,616.4 L216.3,616.4 L216.9,616.4 L217.4,616.4 Z" fill="#a6a6f8"/>
<path d="M159.3,616.2 L159.9,616.2 L160.5,616.1 L161.1,616.0 L161.7,615.9 L162.3,615.7 L162.9,615.6 L163.5,615.5 L164.1,615.4 L164.7,615.3 L165.3,615.2 L165.9,614.9 L166.5,614.5 L167.1,613.9 L167.7,613.0 L168.3,612.2 L168.9,611.4 L169.5,611.1 L170.1,611.2 L170.7,611.7 L171.3,612.4 L171.9,612.8 L172.5,612.6 L173.1,611.5 L173.7,609.5 L174.3,607.0 L174.9,604.4 L175.5,602.6 L176.1,601.9 L176.7,602.5 L177.3,604.0 L177.9,605.9 L178.5,607.7 L179.1,609.2 L179.7,610.5 L180.3,611.6 L180.9,612.6 L181.5,613.6 L182.1,614.4 L182.7,615.1 L183.3,615.6 L183.9,616.0 L184.5,616.2" fill="none" stroke="#8080ee" stroke-width="0.6"/>
<path d="M186.9,616.2 L187.5,616.2 L188.1,616.1 L188.7,616.0 L189.3,615.8 L189.9,615.6 L190.5,615.4 L191.1,615.1 L191.7,614.9 L192.3,614.6 L192.9,614.4 L193.5,614.2 L194.1,614.0 L194.7,613.9 L195.3,613.9 L195.9,613.9 L196.5,614.1 L197.1,614.2 L197.7,614.5 L198.3,614.7 L198.9,615.0 L199.5,615.2 L200.1,615.5 L200.7,615.7 L201.3,615.9 L201.9,616.0 L202.5,616.1 L203.1,616.2" fill="none" stroke="#8080ee" stroke-width="0.6"/>
<line x1="143.10" y1="616.40" x2="217.40" y2="616.40" stroke="#cfcfcf" stroke-width="0.6"/>
<path d="M143.1,633.5 L143.1,633.5 L143.7,633.5 L144.3,633.5 L144.9,633.5 L145.5,633.5 L146.1,633.5 L146.7,633.5 L147.3,633.5 L147.9,633.5 L148.5,633.5 L149.1,633.5 L149.7,633.5 L150.3,633.5 L150.9,633.5 L151.5,633.5 L152.1,633.5 L152.7,633.4 L153.3,633.4 L153.9,633.3 L154.5,633.3 L155.1,633.2 L155.7,633.1 L156.3,632.9 L156.9,632.8 L157.5,632.7 L158.1,632.5 L158.7,632.4 L159.3,632.3 L159.9,632.3 L160.5,632.3 L161.1,632.4 L161.7,632.5 L162.3,632.6 L162.9,632.7 L163.5,632.9 L164.1,633.0 L164.7,633.0 L165.3,633.0 L165.9,632.8 L166.5,632.5 L167.1,632.0 L167.7,631.4 L168.3,630.7 L168.9,630.0 L169.5,629.6 L170.1,629.5 L170.7,629.7 L171.3,630.1 L171.9,630.6 L172.5,630.9 L173.1,630.8 L173.7,630.2 L174.3,629.0 L174.9,627.3 L175.5,625.3 L176.1,623.6 L176.7,622.4 L177.3,621.9 L177.9,622.3 L178.5,623.3 L179.1,624.6 L179.7,625.9 L180.3,627.1 L180.9,628.2 L181.5,629.1 L182.1,630.0 L182.7,630.8 L183.3,631.6 L183.9,632.2 L184.5,632.7 L185.1,633.1 L185.7,633.3 L186.3,633.4 L186.9,633.4 L187.5,633.4 L188.1,633.4 L188.7,633.4 L189.3,633.3 L189.9,633.3 L190.5,633.1 L191.1,633.0 L191.7,632.8 L192.3,632.6 L192.9,632.3 L193.5,631.9 L194.1,631.5 L194.7,631.1 L195.3,630.7 L195.9,630.3 L196.5,629.9 L197.1,629.5 L197.7,629.2 L198.3,629.0 L198.9,628.7 L199.5,628.6 L200.1,628.4 L200.7,628.3 L201.3,628.3 L201.9,628.3 L202.5,628.3 L203.1,628.4 L203.7,628.6 L204.3,628.8 L204.9,629.1 L205.5,629.4 L206.1,629.7 L206.7,630.0 L207.3,630.2 L207.9,630.4 L208.5,630.6 L209.1,630.7 L209.7,630.9 L210.3,631.2 L210.9,631.6 L211.5,632.0 L212.1,632.4 L212.7,632.7 L213.3,633.0 L213.9,633.2 L214.5,633.3 L215.1,633.4 L215.7,633.5 L216.3,633.5 L216.9,633.5 L217.4,633.5 Z" fill="#c890f2"/>
<path d="M153.9,633.3 L154.5,633.3 L155.1,633.2 L155.7,633.1 L156.3,632.9 L156.9,632.8 L157.5,632.7 L158.1,632.5 L158.7,632.4 L159.3,632.3 L159.9,632.3 L160.5,632.3 L161.1,632.4 L161.7,632.5 L162.3,632.6 L162.9,632.7 L163.5,632.9 L164.1,633.0 L164.7,633.0 L165.3,633.0 L165.9,632.8 L166.5,632.5 L167.1,632.0 L167.7,631.4 L168.3,630.7 L168.9,630.0 L169.5,629.6 L170.1,629.5 L170.7,629.7 L171.3,630.1 L171.9,630.6 L172.5,630.9 L173.1,630.8 L173.7,630.2 L174.3,629.0 L174.9,627.3 L175.5,625.3 L176.1,623.6 L176.7,622.4 L177.3,621.9 L177.9,622.3 L178.5,623.3 L179.1,624.6 L179.7,625.9 L180.3,627.1 L180.9,628.2 L181.5,629.1 L182.1,630.0 L182.7,630.8 L183.3,631.6 L183.9,632.2 L184.5,632.7 L185.1,633.1 L185.7,633.3" fill="none" stroke="#a86ce0" stroke-width="0.6"/>
<path d="M189.3,633.3 L189.9,633.3 L190.5,633.1 L191.1,633.0 L191.7,632.8 L192.3,632.6 L192.9,632.3 L193.5,631.9 L194.1,631.5 L194.7,631.1 L195.3,630.7 L195.9,630.3 L196.5,629.9 L197.1,629.5 L197.7,629.2 L198.3,629.0 L198.9,628.7 L199.5,628.6 L200.1,628.4 L200.7,628.3 L201.3,628.3 L201.9,628.3 L202.5,628.3 L203.1,628.4 L203.7,628.6 L204.3,628.8 L204.9,629.1 L205.5,629.4 L206.1,629.7 L206.7,630.0 L207.3,630.2 L207.9,630.4 L208.5,630.6 L209.1,630.7 L209.7,630.9 L210.3,631.2 L210.9,631.6 L211.5,632.0 L212.1,632.4 L212.7,632.7 L213.3,633.0 L213.9,633.2 L214.5,633.3" fill="none" stroke="#a86ce0" stroke-width="0.6"/>
<line x1="143.10" y1="633.50" x2="217.40" y2="633.50" stroke="#cfcfcf" stroke-width="0.6"/>
<path d="M143.1,650.6 L143.1,650.6 L143.7,650.6 L144.3,650.6 L144.9,650.6 L145.5,650.6 L146.1,650.6 L146.7,650.6 L147.3,650.6 L147.9,650.6 L148.5,650.6 L149.1,650.6 L149.7,650.6 L150.3,650.6 L150.9,650.6 L151.5,650.6 L152.1,650.6 L152.7,650.6 L153.3,650.6 L153.9,650.6 L154.5,650.6 L155.1,650.6 L155.7,650.6 L156.3,650.6 L156.9,650.6 L157.5,650.6 L158.1,650.6 L158.7,650.6 L159.3,650.6 L159.9,650.6 L160.5,650.6 L161.1,650.6 L161.7,650.6 L162.3,650.6 L162.9,650.6 L163.5,650.6 L164.1,650.6 L164.7,650.5 L165.3,650.4 L165.9,650.2 L166.5,649.8 L167.1,649.2 L167.7,648.4 L168.3,647.6 L168.9,647.0 L169.5,646.6 L170.1,646.7 L170.7,647.2 L171.3,647.9 L171.9,648.7 L172.5,649.3 L173.1,649.7 L173.7,649.7 L174.3,649.3 L174.9,648.5 L175.5,647.1 L176.1,645.2 L176.7,643.0 L177.3,640.7 L177.9,638.8 L178.5,637.6 L179.1,637.2 L179.7,637.5 L180.3,638.2 L180.9,639.1 L181.5,639.9 L182.1,640.8 L182.7,642.0 L183.3,643.4 L183.9,645.0 L184.5,646.6 L185.1,648.1 L185.7,649.1 L186.3,649.8 L186.9,650.2 L187.5,650.4 L188.1,650.5 L188.7,650.5 L189.3,650.5 L189.9,650.4 L190.5,650.3 L191.1,650.1 L191.7,649.9 L192.3,649.5 L192.9,649.1 L193.5,648.6 L194.1,648.1 L194.7,647.7 L195.3,647.3 L195.9,647.0 L196.5,646.8 L197.1,646.6 L197.7,646.4 L198.3,646.2 L198.9,646.0 L199.5,645.8 L200.1,645.7 L200.7,645.6 L201.3,645.6 L201.9,645.7 L202.5,645.9 L203.1,646.2 L203.7,646.6 L204.3,647.0 L204.9,647.5 L205.5,647.9 L206.1,648.4 L206.7,648.8 L207.3,649.2 L207.9,649.5 L208.5,649.7 L209.1,650.0 L209.7,650.1 L210.3,650.3 L210.9,650.4 L211.5,650.4 L212.1,650.5 L212.7,650.5 L213.3,650.6 L213.9,650.6 L214.5,650.6 L215.1,650.6 L215.7,650.6 L216.3,650.6 L216.9,650.6 L217.4,650.6 Z" fill="#f2a2a2"/>
<path d="M165.3,650.4 L165.9,650.2 L166.5,649.8 L167.1,649.2 L167.7,648.4 L168.3,647.6 L168.9,647.0 L169.5,646.6 L170.1,646.7 L170.7,647.2 L171.3,647.9 L171.9,648.7 L172.5,649.3 L173.1,649.7 L173.7,649.7 L174.3,649.3 L174.9,648.5 L175.5,647.1 L176.1,645.2 L176.7,643.0 L177.3,640.7 L177.9,638.8 L178.5,637.6 L179.1,637.2 L179.7,637.5 L180.3,638.2 L180.9,639.1 L181.5,639.9 L182.1,640.8 L182.7,642.0 L183.3,643.4 L183.9,645.0 L184.5,646.6 L185.1,648.1 L185.7,649.1 L186.3,649.8 L186.9,650.2 L187.5,650.4" fill="none" stroke="#e07a7a" stroke-width="0.6"/>
<path d="M189.9,650.4 L190.5,650.3 L191.1,650.1 L191.7,649.9 L192.3,649.5 L192.9,649.1 L193.5,648.6 L194.1,648.1 L194.7,647.7 L195.3,647.3 L195.9,647.0 L196.5,646.8 L197.1,646.6 L197.7,646.4 L198.3,646.2 L198.9,646.0 L199.5,645.8 L200.1,645.7 L200.7,645.6 L201.3,645.6 L201.9,645.7 L202.5,645.9 L203.1,646.2 L203.7,646.6 L204.3,647.0 L204.9,647.5 L205.5,647.9 L206.1,648.4 L206.7,648.8 L207.3,649.2 L207.9,649.5 L208.5,649.7 L209.1,650.0 L209.7,650.1 L210.3,650.3 L210.9,650.4 L211.5,650.4" fill="none" stroke="#e07a7a" stroke-width="0.6"/>
<line x1="143.10" y1="650.60" x2="217.40" y2="650.60" stroke="#cfcfcf" stroke-width="0.6"/>
<line x1="192.60" y1="548.00" x2="192.60" y2="650.60" stroke="#333" stroke-width="0.8" stroke-dasharray="1,1"/>
<rect x="142.60" y="548.00" width="75.30" height="102.60" fill="none" stroke="#777" stroke-width="0.9"/>
<text x="217.10" y="555.40" font-size="7" text-anchor="end" fill="#1a1a1a">Isotype</text>
<text x="217.10" y="574.20" font-size="7" text-anchor="end" fill="#1a1a1a">Ctrl.</text>
<text x="217.10" y="590.80" font-size="7" text-anchor="end" fill="#1a1a1a">RT</text>
<text x="217.10" y="607.60" font-size="7" text-anchor="end" fill="#1a1a1a">RT/TGF&#946;RIi</text>
<text x="217.10" y="624.50" font-size="7" text-anchor="end" fill="#1a1a1a">RT/Smad3i</text>
<text x="217.10" y="641.10" font-size="7" text-anchor="end" fill="#1a1a1a">RT/PRMT5i</text>
<text x="145.60" y="545.60" font-size="9.2" text-anchor="start" fill="#1a1a1a">MDA-MB-468</text>
<line x1="145.60" y1="650.60" x2="145.60" y2="652.80" stroke="#333" stroke-width="0.6"/>
<line x1="150.22" y1="650.60" x2="150.22" y2="651.90" stroke="#333" stroke-width="0.6"/>
<line x1="154.84" y1="650.60" x2="154.84" y2="651.90" stroke="#333" stroke-width="0.6"/>
<line x1="159.46" y1="650.60" x2="159.46" y2="651.90" stroke="#333" stroke-width="0.6"/>
<line x1="164.08" y1="650.60" x2="164.08" y2="651.90" stroke="#333" stroke-width="0.6"/>
<line x1="168.70" y1="650.60" x2="168.70" y2="652.80" stroke="#333" stroke-width="0.6"/>
<line x1="173.32" y1="650.60" x2="173.32" y2="651.90" stroke="#333" stroke-width="0.6"/>
<line x1="177.94" y1="650.60" x2="177.94" y2="651.90" stroke="#333" stroke-width="0.6"/>
<line x1="182.56" y1="650.60" x2="182.56" y2="651.90" stroke="#333" stroke-width="0.6"/>
<line x1="187.18" y1="650.60" x2="187.18" y2="651.90" stroke="#333" stroke-width="0.6"/>
<line x1="191.80" y1="650.60" x2="191.80" y2="652.80" stroke="#333" stroke-width="0.6"/>
<line x1="196.42" y1="650.60" x2="196.42" y2="651.90" stroke="#333" stroke-width="0.6"/>
<line x1="201.04" y1="650.60" x2="201.04" y2="651.90" stroke="#333" stroke-width="0.6"/>
<line x1="205.66" y1="650.60" x2="205.66" y2="651.90" stroke="#333" stroke-width="0.6"/>
<line x1="210.28" y1="650.60" x2="210.28" y2="651.90" stroke="#333" stroke-width="0.6"/>
<line x1="214.90" y1="650.60" x2="214.90" y2="652.80" stroke="#333" stroke-width="0.6"/>
<text x="167.60" y="661.60" font-size="7" text-anchor="middle" fill="#1a1a1a">0</text>
<text x="194.80" y="661.60" font-size="7" text-anchor="middle" fill="#1a1a1a">10<tspan font-size="4.5" dy="-2.6">4</tspan></text>
<line x1="141.80" y1="663.60" x2="213.90" y2="663.60" stroke="#111" stroke-width="1.0"/>
<path d="M217.90,663.60 L212.90,661.60 L212.90,665.60 Z" fill="#111"/>
<text x="179.80" y="671.60" font-size="7" text-anchor="middle" fill="#1a1a1a">PE-ENO1</text>
<line x1="257.60" y1="640.40" x2="257.60" y2="541.20" stroke="#222" stroke-width="0.9"/>
<line x1="253.10" y1="640.00" x2="257.60" y2="640.00" stroke="#222" stroke-width="0.9"/>
<line x1="253.10" y1="620.24" x2="257.60" y2="620.24" stroke="#222" stroke-width="0.9"/>
<line x1="253.10" y1="600.48" x2="257.60" y2="600.48" stroke="#222" stroke-width="0.9"/>
<line x1="253.10" y1="580.72" x2="257.60" y2="580.72" stroke="#222" stroke-width="0.9"/>
<line x1="253.10" y1="560.96" x2="257.60" y2="560.96" stroke="#222" stroke-width="0.9"/>
<line x1="253.10" y1="541.20" x2="257.60" y2="541.20" stroke="#222" stroke-width="0.9"/>
<text x="252.10" y="643.31" font-size="9.2" text-anchor="end" fill="#222">0</text>
<text x="252.10" y="603.79" font-size="9.2" text-anchor="end" fill="#222">20</text>
<text x="252.10" y="564.27" font-size="9.2" text-anchor="end" fill="#222">40</text>
<line x1="266.75" y1="626.10" x2="266.75" y2="621.60" stroke="#222" stroke-width="0.8"/>
<line x1="264.75" y1="621.60" x2="268.75" y2="621.60" stroke="#222" stroke-width="0.8"/>
<rect x="262.25" y="626.10" width="9.00" height="13.90" fill="#d6d6d6" stroke="#1a1a1a" stroke-width="0.8"/>
<line x1="280.45" y1="567.90" x2="280.45" y2="564.40" stroke="#222" stroke-width="0.8"/>
<line x1="278.45" y1="564.40" x2="282.45" y2="564.40" stroke="#222" stroke-width="0.8"/>
<rect x="275.95" y="567.90" width="9.00" height="72.10" fill="#ef9f45" stroke="#1a1a1a" stroke-width="0.8"/>
<line x1="294.05" y1="609.20" x2="294.05" y2="605.20" stroke="#222" stroke-width="0.8"/>
<line x1="292.05" y1="605.20" x2="296.05" y2="605.20" stroke="#222" stroke-width="0.8"/>
<rect x="289.55" y="609.20" width="9.00" height="30.80" fill="#8c8cff" stroke="#1a1a1a" stroke-width="0.8"/>
<line x1="307.95" y1="583.40" x2="307.95" y2="581.40" stroke="#222" stroke-width="0.8"/>
<line x1="305.95" y1="581.40" x2="309.95" y2="581.40" stroke="#222" stroke-width="0.8"/>
<rect x="303.45" y="583.40" width="9.00" height="56.60" fill="#e08cf8" stroke="#1a1a1a" stroke-width="0.8"/>
<line x1="321.95" y1="592.90" x2="321.95" y2="589.40" stroke="#222" stroke-width="0.8"/>
<line x1="319.95" y1="589.40" x2="323.95" y2="589.40" stroke="#222" stroke-width="0.8"/>
<rect x="317.45" y="592.90" width="9.00" height="47.10" fill="#ef7a84" stroke="#1a1a1a" stroke-width="0.8"/>
<line x1="257.60" y1="640.00" x2="328.30" y2="640.00" stroke="#222" stroke-width="0.9"/>
<line x1="266.75" y1="640.00" x2="266.75" y2="645.30" stroke="#555" stroke-width="0.9"/>
<line x1="280.45" y1="640.00" x2="280.45" y2="645.30" stroke="#555" stroke-width="0.9"/>
<line x1="294.05" y1="640.00" x2="294.05" y2="645.30" stroke="#555" stroke-width="0.9"/>
<line x1="307.95" y1="640.00" x2="307.95" y2="645.30" stroke="#555" stroke-width="0.9"/>
<line x1="321.95" y1="640.00" x2="321.95" y2="645.30" stroke="#555" stroke-width="0.9"/>
<text x="238.00" y="586.30" font-size="10.2" text-anchor="middle" fill="#1a1a1a" transform="rotate(-90 238.00 586.30)">Sufface ENo1 (%)</text>
<polyline points="267.55,618.70 267.55,545.30 280.45,545.30 280.45,548.00" stroke="#484848" stroke-width="1.0" fill="none"/>
<text x="274.00" y="548.56" font-size="10.5" text-anchor="middle" fill="#333" letter-spacing="-0.5">***</text>
<polyline points="280.45,555.40 280.45,551.60 321.95,551.60 321.95,583.40" stroke="#484848" stroke-width="1.0" fill="none"/>
<text x="300.60" y="554.16" font-size="10.5" text-anchor="middle" fill="#333" letter-spacing="-0.5">**</text>
<polyline points="280.45,562.00 280.45,558.40 300.30,558.40 300.30,578.00" stroke="#484848" stroke-width="1.0" fill="none"/>
<line x1="288.90" y1="578.00" x2="313.40" y2="578.00" stroke="#8a8a8a" stroke-width="1.3"/>
<text x="290.00" y="561.96" font-size="10.5" text-anchor="middle" fill="#333" letter-spacing="-0.5">*</text>
<text x="260.80" y="653.50" font-size="7.2" text-anchor="end" fill="#1a1a1a">TGF&#946;RIi</text>
<text x="266.75" y="653.32" font-size="9.5" text-anchor="middle" fill="#333" style="stroke:none">-</text>
<text x="280.45" y="653.32" font-size="9.5" text-anchor="middle" fill="#333" style="stroke:none">-</text>
<text x="294.05" y="654.03" font-size="9.5" text-anchor="middle" fill="#222" style="stroke-width:0.1px">+</text>
<text x="307.95" y="653.32" font-size="9.5" text-anchor="middle" fill="#333" style="stroke:none">-</text>
<text x="321.95" y="653.32" font-size="9.5" text-anchor="middle" fill="#333" style="stroke:none">-</text>
<text x="260.80" y="662.20" font-size="7.2" text-anchor="end" fill="#1a1a1a">Smad3i</text>
<text x="266.75" y="662.02" font-size="9.5" text-anchor="middle" fill="#333" style="stroke:none">-</text>
<text x="280.45" y="662.02" font-size="9.5" text-anchor="middle" fill="#333" style="stroke:none">-</text>
<text x="294.05" y="662.02" font-size="9.5" text-anchor="middle" fill="#333" style="stroke:none">-</text>
<text x="307.95" y="662.73" font-size="9.5" text-anchor="middle" fill="#222" style="stroke-width:0.1px">+</text>
<text x="321.95" y="662.02" font-size="9.5" text-anchor="middle" fill="#333" style="stroke:none">-</text>
<text x="260.80" y="670.20" font-size="7.2" text-anchor="end" fill="#1a1a1a">PRMT5i</text>
<text x="266.75" y="670.02" font-size="9.5" text-anchor="middle" fill="#333" style="stroke:none">-</text>
<text x="280.45" y="670.02" font-size="9.5" text-anchor="middle" fill="#333" style="stroke:none">-</text>
<text x="294.05" y="670.02" font-size="9.5" text-anchor="middle" fill="#333" style="stroke:none">-</text>
<text x="307.95" y="670.02" font-size="9.5" text-anchor="middle" fill="#333" style="stroke:none">-</text>
<text x="321.95" y="670.73" font-size="9.5" text-anchor="middle" fill="#222" style="stroke-width:0.1px">+</text>
<line x1="274.00" y1="671.80" x2="328.30" y2="671.80" stroke="#222" stroke-width="0.8"/>
<text x="301.70" y="678.50" font-size="6.5" text-anchor="middle" fill="#1a1a1a" style="stroke-width:0.08px">RT</text>
<text x="344.20" y="522.40" font-size="20" text-anchor="start" fill="#000" style="stroke:none">L</text>
<line x1="390.80" y1="640.40" x2="390.80" y2="540.70" stroke="#222" stroke-width="0.9"/>
<line x1="385.30" y1="640.00" x2="390.80" y2="640.00" stroke="#222" stroke-width="0.9"/>
<line x1="385.30" y1="606.90" x2="390.80" y2="606.90" stroke="#222" stroke-width="0.9"/>
<line x1="385.30" y1="573.80" x2="390.80" y2="573.80" stroke="#222" stroke-width="0.9"/>
<line x1="385.30" y1="540.70" x2="390.80" y2="540.70" stroke="#222" stroke-width="0.9"/>
<text x="384.30" y="642.81" font-size="7.8" text-anchor="end" fill="#222">0</text>
<text x="384.30" y="576.61" font-size="7.8" text-anchor="end" fill="#222">400</text>
<line x1="399.90" y1="567.10" x2="399.90" y2="560.10" stroke="#222" stroke-width="0.8"/>
<line x1="397.90" y1="560.10" x2="401.90" y2="560.10" stroke="#222" stroke-width="0.8"/>
<rect x="395.30" y="567.10" width="9.20" height="72.90" fill="#d6d6d6" stroke="#1a1a1a" stroke-width="0.8"/>
<line x1="413.85" y1="549.40" x2="413.85" y2="548.40" stroke="#222" stroke-width="0.8"/>
<line x1="411.85" y1="548.40" x2="415.85" y2="548.40" stroke="#222" stroke-width="0.8"/>
<rect x="409.25" y="549.40" width="9.20" height="90.60" fill="#ef9f45" stroke="#1a1a1a" stroke-width="0.8"/>
<line x1="427.90" y1="574.40" x2="427.90" y2="571.50" stroke="#222" stroke-width="0.8"/>
<line x1="425.90" y1="571.50" x2="429.90" y2="571.50" stroke="#222" stroke-width="0.8"/>
<rect x="423.30" y="574.40" width="9.20" height="65.60" fill="#8c8cff" stroke="#1a1a1a" stroke-width="0.8"/>
<line x1="442.00" y1="565.20" x2="442.00" y2="563.20" stroke="#222" stroke-width="0.8"/>
<line x1="440.00" y1="563.20" x2="444.00" y2="563.20" stroke="#222" stroke-width="0.8"/>
<rect x="437.40" y="565.20" width="9.20" height="74.80" fill="#e08cf8" stroke="#1a1a1a" stroke-width="0.8"/>
<line x1="456.00" y1="587.30" x2="456.00" y2="585.80" stroke="#222" stroke-width="0.8"/>
<line x1="454.00" y1="585.80" x2="458.00" y2="585.80" stroke="#222" stroke-width="0.8"/>
<rect x="451.40" y="587.30" width="9.20" height="52.70" fill="#ef7a84" stroke="#1a1a1a" stroke-width="0.8"/>
<line x1="390.80" y1="640.00" x2="461.50" y2="640.00" stroke="#222" stroke-width="0.9"/>
<line x1="399.90" y1="640.00" x2="399.90" y2="645.30" stroke="#555" stroke-width="0.9"/>
<line x1="413.85" y1="640.00" x2="413.85" y2="645.30" stroke="#555" stroke-width="0.9"/>
<line x1="427.90" y1="640.00" x2="427.90" y2="645.30" stroke="#555" stroke-width="0.9"/>
<line x1="442.00" y1="640.00" x2="442.00" y2="645.30" stroke="#555" stroke-width="0.9"/>
<line x1="456.00" y1="640.00" x2="456.00" y2="645.30" stroke="#555" stroke-width="0.9"/>
<text x="366.10" y="582.70" font-size="10" text-anchor="middle" fill="#1a1a1a" transform="rotate(-90 366.10 582.70)">Plasmin activity (&#956;g/mL)</text>
<polyline points="399.90,558.90 399.90,542.60 413.85,542.60 413.85,546.70" stroke="#484848" stroke-width="1.0" fill="none"/>
<text x="406.30" y="545.26" font-size="10.5" text-anchor="middle" fill="#333" letter-spacing="-0.5">*</text>
<polyline points="415.40,540.50 415.40,537.30 458.80,537.30 458.80,581.70" stroke="#484848" stroke-width="1.0" fill="none"/>
<text x="436.20" y="539.96" font-size="10.5" text-anchor="middle" fill="#333" letter-spacing="-0.5">**</text>
<polyline points="414.35,546.70 414.35,543.10 435.60,543.10 435.60,560.30" stroke="#484848" stroke-width="1.0" fill="none"/>
<line x1="423.40" y1="560.30" x2="448.70" y2="560.30" stroke="#8a8a8a" stroke-width="1.3"/>
<text x="426.10" y="545.96" font-size="10.5" text-anchor="middle" fill="#333" letter-spacing="-0.5">*</text>
<text x="389.00" y="653.00" font-size="6.6" text-anchor="end" fill="#1a1a1a" style="stroke-width:0.08px">TGF&#946;RIi</text>
<text x="399.90" y="653.02" font-size="9.5" text-anchor="middle" fill="#333" style="stroke:none">-</text>
<text x="413.85" y="653.02" font-size="9.5" text-anchor="middle" fill="#333" style="stroke:none">-</text>
<text x="427.90" y="653.73" font-size="9.5" text-anchor="middle" fill="#222" style="stroke-width:0.1px">+</text>
<text x="442.00" y="653.02" font-size="9.5" text-anchor="middle" fill="#333" style="stroke:none">-</text>
<text x="456.00" y="653.02" font-size="9.5" text-anchor="middle" fill="#333" style="stroke:none">-</text>
<text x="389.00" y="661.40" font-size="6.6" text-anchor="end" fill="#1a1a1a" style="stroke-width:0.08px">Smad3i</text>
<text x="399.90" y="661.42" font-size="9.5" text-anchor="middle" fill="#333" style="stroke:none">-</text>
<text x="413.85" y="661.42" font-size="9.5" text-anchor="middle" fill="#333" style="stroke:none">-</text>
<text x="427.90" y="661.42" font-size="9.5" text-anchor="middle" fill="#333" style="stroke:none">-</text>
<text x="442.00" y="662.13" font-size="9.5" text-anchor="middle" fill="#222" style="stroke-width:0.1px">+</text>
<text x="456.00" y="661.42" font-size="9.5" text-anchor="middle" fill="#333" style="stroke:none">-</text>
<text x="389.00" y="670.10" font-size="6.6" text-anchor="end" fill="#1a1a1a" style="stroke-width:0.08px">PRMT5i</text>
<text x="399.90" y="670.12" font-size="9.5" text-anchor="middle" fill="#333" style="stroke:none">-</text>
<text x="413.85" y="670.12" font-size="9.5" text-anchor="middle" fill="#333" style="stroke:none">-</text>
<text x="427.90" y="670.12" font-size="9.5" text-anchor="middle" fill="#333" style="stroke:none">-</text>
<text x="442.00" y="670.12" font-size="9.5" text-anchor="middle" fill="#333" style="stroke:none">-</text>
<text x="456.00" y="670.83" font-size="9.5" text-anchor="middle" fill="#222" style="stroke-width:0.1px">+</text>
<line x1="407.90" y1="671.80" x2="462.30" y2="671.80" stroke="#222" stroke-width="0.8"/>
<text x="435.00" y="678.50" font-size="6.5" text-anchor="middle" fill="#1a1a1a" style="stroke-width:0.08px">RT</text>
<text x="470.80" y="522.40" font-size="20" text-anchor="start" fill="#000" style="stroke:none">M</text>
<text x="545.40" y="563.10" font-size="8.1" text-anchor="start" fill="#1a1a1a">Membrane fraction</text>
<text x="557.80" y="579.80" font-size="8.6" text-anchor="middle" fill="#1a1a1a">RT</text>
<line x1="542.60" y1="582.80" x2="569.80" y2="582.80" stroke="#222" stroke-width="0.9"/>
<text x="524.60" y="591.40" font-size="8.6" text-anchor="end" fill="#1a1a1a">PRMT5i</text>
<text x="533.90" y="590.80" font-size="9.5" text-anchor="middle" fill="#1a1a1a">-</text>
<text x="548.00" y="590.80" font-size="9.5" text-anchor="middle" fill="#1a1a1a">-</text>
<text x="562.40" y="591.50" font-size="9.5" text-anchor="middle" fill="#1a1a1a">+</text>
<text x="493.80" y="610.40" font-size="9.5" text-anchor="middle" fill="#1a1a1a" transform="rotate(-90 493.80 610.40)">HT29</text>
<line x1="496.30" y1="593.40" x2="496.30" y2="634.20" stroke="#222" stroke-width="0.9"/>
<text x="524.60" y="607.40" font-size="8.6" text-anchor="end" fill="#1a1a1a">SDAM</text>
<text x="524.60" y="627.30" font-size="8.6" text-anchor="end" fill="#1a1a1a">ENO1</text>
<rect x="525.70" y="594.30" width="45.70" height="19.00" fill="#ececec"/>
<rect x="528.15" y="601.50" width="11.50" height="2.60" rx="1.30" fill="#969696" filter="url(#bl7)"/>
<rect x="542.25" y="601.50" width="11.50" height="2.60" rx="1.30" fill="#232323" filter="url(#bl7)"/>
<rect x="556.65" y="601.50" width="11.50" height="2.60" rx="1.30" fill="#2d2d2d" filter="url(#bl7)"/>
<rect x="528.15" y="604.00" width="11.50" height="2.40" rx="1.20" fill="#a5a5a5" filter="url(#bl7)"/>
<rect x="542.25" y="604.00" width="11.50" height="2.40" rx="1.20" fill="#3c3c3c" filter="url(#bl7)"/>
<rect x="556.65" y="604.00" width="11.50" height="2.40" rx="1.20" fill="#464646" filter="url(#bl7)"/>
<rect x="526.20" y="594.80" width="44.70" height="18.00" fill="none" stroke="#555" stroke-width="1" rx="0.3"/>
<rect x="525.70" y="615.20" width="45.70" height="19.00" fill="#ececec"/>
<rect x="528.40" y="623.50" width="11.00" height="2.20" rx="1.10" fill="#464646" filter="url(#bl6)"/>
<rect x="542.50" y="623.20" width="11.00" height="2.80" rx="1.40" fill="#191919" filter="url(#bl6)"/>
<rect x="556.90" y="623.20" width="11.00" height="2.80" rx="1.40" fill="#191919" filter="url(#bl6)"/>
<rect x="526.20" y="615.70" width="44.70" height="18.00" fill="none" stroke="#555" stroke-width="1" rx="0.3"/>
<text x="548.30" y="645.00" font-size="8.2" text-anchor="middle" fill="#1a1a1a">IP: ENO1</text>
<text x="650.20" y="579.80" font-size="8.6" text-anchor="middle" fill="#1a1a1a">RT</text>
<line x1="635.20" y1="582.80" x2="662.40" y2="582.80" stroke="#222" stroke-width="0.9"/>
<text x="617.00" y="591.40" font-size="8.6" text-anchor="end" fill="#1a1a1a">PRMT5i</text>
<text x="626.30" y="590.80" font-size="9.5" text-anchor="middle" fill="#1a1a1a">-</text>
<text x="640.70" y="590.80" font-size="9.5" text-anchor="middle" fill="#1a1a1a">-</text>
<text x="655.60" y="591.50" font-size="9.5" text-anchor="middle" fill="#1a1a1a">+</text>
<text x="585.10" y="614.40" font-size="9.5" text-anchor="middle" fill="#1a1a1a" transform="rotate(-90 585.10 614.40)">MDA-MB-468</text>
<line x1="588.50" y1="593.40" x2="588.50" y2="634.20" stroke="#222" stroke-width="0.9"/>
<text x="615.60" y="607.40" font-size="8.6" text-anchor="end" fill="#1a1a1a">SDAM</text>
<text x="615.60" y="627.30" font-size="8.6" text-anchor="end" fill="#1a1a1a">ENO1</text>
<rect x="617.60" y="593.40" width="46.20" height="19.90" fill="#ececec"/>
<rect x="620.55" y="600.70" width="11.50" height="2.60" rx="1.30" fill="#3c3c3c" filter="url(#bl7)"/>
<rect x="634.95" y="600.70" width="11.50" height="2.60" rx="1.30" fill="#191919" filter="url(#bl7)"/>
<rect x="649.85" y="600.70" width="11.50" height="2.60" rx="1.30" fill="#3c3c3c" filter="url(#bl7)"/>
<rect x="620.55" y="603.80" width="11.50" height="2.40" rx="1.20" fill="#464646" filter="url(#bl7)"/>
<rect x="634.95" y="603.80" width="11.50" height="2.40" rx="1.20" fill="#464646" filter="url(#bl7)"/>
<rect x="649.85" y="603.80" width="11.50" height="2.40" rx="1.20" fill="#3c3c3c" filter="url(#bl7)"/>
<rect x="618.10" y="593.90" width="45.20" height="18.90" fill="none" stroke="#555" stroke-width="1" rx="0.3"/>
<rect x="617.60" y="614.70" width="46.20" height="19.50" fill="#ececec"/>
<rect x="620.80" y="623.10" width="11.00" height="2.20" rx="1.10" fill="#464646" filter="url(#bl6)"/>
<rect x="635.20" y="622.90" width="11.00" height="2.60" rx="1.30" fill="#191919" filter="url(#bl6)"/>
<rect x="650.10" y="623.00" width="11.00" height="2.40" rx="1.20" fill="#2d2d2d" filter="url(#bl6)"/>
<rect x="618.10" y="615.20" width="45.20" height="18.50" fill="none" stroke="#555" stroke-width="1" rx="0.3"/>
<text x="640.70" y="645.00" font-size="8.2" text-anchor="middle" fill="#1a1a1a">IP: ENO1</text>
</svg>
</body></html>
